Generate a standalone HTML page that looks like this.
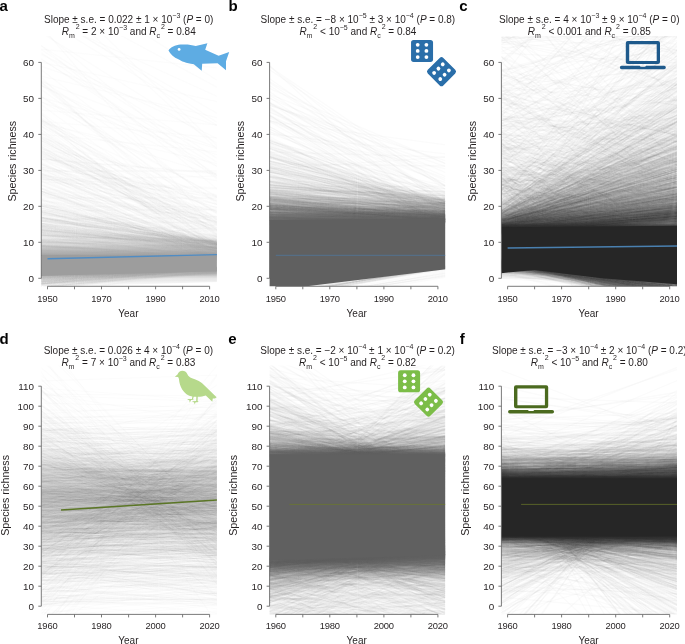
<!DOCTYPE html>
<html><head><meta charset="utf-8"><style>
html,body{margin:0;padding:0;background:#fff;width:685px;height:644px;overflow:hidden}
svg{display:block}
text{font-family:"Liberation Sans",sans-serif;fill:#231f20}
.tx{opacity:.996}
.tk{font-size:9.9px}
.tkx{font-size:9.4px;letter-spacing:-0.2px}
.al{font-size:10px}
.yl{font-size:10.7px}
.tt{font-size:10px}
.pl{font-size:15px;font-weight:bold;fill:#000}
</style></head><body>
<svg width="685" height="644" viewBox="0 0 685 644" xmlns="http://www.w3.org/2000/svg">
<defs><clipPath id="ca"><rect x="41.3" y="36.0" width="175.6" height="250.3"/></clipPath>
<clipPath id="cb"><rect x="269.6" y="36.0" width="175.6" height="250.3"/></clipPath>
<clipPath id="cc"><rect x="501.4" y="36.0" width="175.6" height="250.3"/></clipPath>
<clipPath id="cd"><rect x="41.3" y="365.5" width="175.6" height="248.9"/></clipPath>
<clipPath id="ce"><rect x="269.6" y="365.5" width="175.6" height="248.9"/></clipPath>
<clipPath id="cf"><rect x="501.4" y="365.5" width="175.6" height="248.9"/></clipPath></defs>
<g clip-path="url(#ca)">
<g transform="translate(40.3 0)" stroke="#9d9d9d" stroke-opacity="0.03" stroke-width="1.3" fill="none">
<path d="M0 217 178 247M0 243 178 248M0 271 178 258M0 32 178 144M0 175 178 197M0 96 178 215M0 220 178 217M0 191 178 252M0 282 178 269M0 279 178 269M0 289 178 272"/>
<path d="M0 221 178 243M0 235 178 244M0 221 178 251M0 228 178 242M0 158 178 222M0 16 178 97M0 195 178 263M0 180 178 176M0 270 178 269M0 272 178 272M0 274 178 268M0 279 178 275M0 275 178 268M0 284 178 274M0 289 178 267M0 283 178 267"/>
<path d="M0 218 178 245M0 268 178 251M0 212 178 242M0 226 178 243M0 150 178 261M0-32 178 81M0 188 178 257M0 162 178 246M0 285 178 269M0 281 178 267M0 268 178 269"/>
<path d="M0 264 178 248M0 251 178 253M0 217 178 251M0 239 178 241M0 227 178 245M0 137 178 253M0 131 178 251M0 191 178 246M0 274 178 269M0 287 178 273M0 284 178 270M0 284 178 268"/>
<path d="M0 232 178 254M0 198 178 245M0 25 178 233M0 274 178 268M0 288 178 268M0 278 178 269M0 277 178 270M0 280 178 270M0 272 178 273"/>
<path d="M0 252 178 255M0 240 178 258M0 214 178 248M0 218 178 243M0 255 178 253M0 250 178 260M0 272 178 268"/>
<path d="M0 232 178 242M0 220 178 241M0 248 178 244M0 221 178 243M0 255 178 254M0 12 178 114M0 168 178 253M0 163 178 245M0 162 178 247M0 275 178 271M0 279 178 272M0 286 178 272"/>
<path d="M0 227 178 254M0 230 178 244M0 259 178 250M0 253 178 252M0 193 178 253M0 137 178 230M0 282 178 269M0 276 178 269M0 271 178 269M0 273 178 268"/>
<path d="M0 235 178 244M0 246 178 256M0 260 178 248M0 247 178 259M0 257 178 254M0 236 178 260M0 230 178 245M0 178 178 232M0 138 178 257M0 275 178 275M0 288 178 267M0 274 178 269M0 275 178 269"/>
<path d="M0 218 178 242M0 215 178 241M0 185 178 247M0 214 178 236M0 274 178 268M0 287 178 271M0 278 178 270"/>
<path d="M0 248 178 258M0 278 178 269M0 284 178 273M0 281 178 271M0 271 178 269M0 281 178 268M0 268 178 273"/>
<path d="M0 240 178 247M0 218 178 242M0 171 178 171M0 279 178 268M0 270 178 268"/>
<path d="M0 250 178 250M0 230 178 247M0 228 178 245M0 223 178 248M0 251 178 256M0 174 178 243M0 169 178 201M0 276 178 269M0 279 178 267M0 273 178 268"/>
<path d="M0 193 178 245M0 250 178 254M0 227 178 242M0 155 178 228M0 210 178 240M0 124 178 219M0 118 178 241M0 267 178 269M0 274 178 267"/>
<path d="M0 251 178 258M0 231 178 247M0 45 178 190M0 226 178 229M0 150 178 245M0 177 178 261M0 273 178 268M0 270 178 270M0 274 178 268M0 278 178 268M0 267 178 269M0 273 178 268"/>
<path d="M0 212 178 248M0 230 178 242M0 254 178 258M0 159 178 173M0 284 178 248M0 76 178 254M0 269 178 269M0 278 178 268"/>
<path d="M0 258 178 249M0 218 178 250M0 206 178 243M0 246 178 254M0 229 178 243M0 58 178 176M0 181 178 251M0 139 178 219M0 121 178 138M0 104 178 234M0 144 178 235M0 275 178 268M0 276 178 273"/>
<path d="M0 228 178 245M0 232 178 244M0 256 178 258M0 230 178 248M0 269 178 256M0 247 178 256M0 249 178 247M0 97 178 149M0 168 178 260M0 275 178 270M0 278 178 267M0 283 178 267M0 279 178 268M0 284 178 268"/>
<path d="M0 250 178 258M0 262 178 255M0 245 178 258M0 208 178 245M0 152 178 237M0 268 178 268M0 282 178 267"/>
<path d="M0 258 178 253M0 236 178 247M0 212 178 245M0 69 178 205M0 137 178 198M0 230 178 250M0 170 178 231M0 295 178 268M0 280 178 270M0 269 178 274"/>
<path d="M0 208 178 242M0 260 178 258M0 148 178 220M0 177 178 220M0 275 178 268M0 278 178 269M0 269 178 270M0 284 178 269"/>
<path d="M0 231 178 251M0 242 178 244M0 213 178 246M0 245 178 240M0 259 178 253M0 237 178 257M0 49 178 163M0 275 178 268M0 273 178 269M0 281 178 268M0 282 178 272"/>
<path d="M0 277 178 255M0 189 178 261M0 49 178 68M0 121 178 213M0 159 178 174M0 280 178 273M0 274 178 270"/>
<path d="M0 242 178 246M0 195 178 243M0 236 178 241M0 143 178 205M0 205 178 248M0 191 178 225M0 166 178 231M0 287 178 271M0 283 178 273"/>
<path d="M0 257 178 243M0 217 178 257M0 239 178 245M0 201 178 217M0 286 178 267"/>
<path d="M0 233 178 255M0 245 178 258M0 241 178 250M0 245 178 252M0 176 178 211M0 151 178 241M0 274 178 269M0 277 178 270M0 284 178 268"/>
<path d="M0 247 178 253M0 219 178 245M0 265 178 256M0 237 178 251M0 217 178 244M0 256 178 253M0 96 178 198M0 284 178 269"/>
<path d="M0 226 178 252M0 188 178 211M0 149 178 244M0 164 178 231M0 266 178 269M0 282 178 267M0 284 178 267"/>
<path d="M0 217 178 245M0 226 178 259M0 231 178 247M0 66 178 126M0 171 178 256M0 171 178 245M0 272 178 270"/>
<path d="M0 239 178 255M0 112 178 236M0 241 178 230M0 176 178 245M0 288 178 266M0 271 178 268"/>
<path d="M0 226 178 250M0 242 178 255M0 240 178 253M0 149 178 181M0 102 178 155M0 277 178 269M0 284 178 267M0 277 178 268"/>
<path d="M0 243 178 259M0 224 178 246M0 188 178 264M0 82 178 238M0 174 178 258M0 275 178 268M0 270 178 269M0 267 178 269"/>
<path d="M0 256 178 253M0 231 178 253M0 241 178 253M0 231 178 248M0 167 178 195M0 129 178 245M0 194 178 256M0 278 178 267M0 287 178 267"/>
<path d="M0 247 178 253M0 224 178 250M0 223 178 257M0 209 178 249M0 231 178 252M0 257 178 251M0 221 178 251M0 226 178 244M0 167 178 246M0 200 178 237M0 289 178 271M0 280 178 268M0 270 178 270"/>
<path d="M0 245 178 247M0 234 178 244M0 224 178 242"/>
<path d="M0 232 178 260M0 241 178 252M0 249 178 244M0 264 178 254M0 217 178 249M0 280 178 267M0 276 178 268"/>
<path d="M0 240 178 246M0 219 178 246M0 217 178 243M0 234 178 251M0 191 178 260M0 273 178 271M0 281 178 270"/>
<path d="M0 227 178 251M0 214 178 244M0 224 178 252M0 191 178 254M0 125 178 244M0 89 178 214M0 272 178 273M0 280 178 268"/>
<path d="M0 244 178 240M0 229 178 250M0 226 178 245M0 253 178 249M0 211 178 259M0 210 178 239M0-27 178 147"/>
<path d="M0 219 178 249M0 134 178 152M0 267 178 268M0 286 178 267M0 271 178 270M0 278 178 268M0 266 178 268M0 284 178 273"/>
<path d="M0 249 178 248M0 229 178 252M0 214 178 252M0 219 178 244M0 180 178 249M0 210 178 244M0 54 178 139"/>
<path d="M0 191 178 251M0 241 178 249M0 223 178 249M0 121 178 176M0 183 178 254M0 160 178 238M0 269 178 268M0 281 178 267M0 272 178 268M0 290 178 267"/>
<path d="M0 218 178 243M0 247 178 247M0 258 178 257M0 247 178 245M0 79 178 203M0 189 178 222M0 126 178 259M0 204 178 255M0 211 178 257M0 281 178 269M0 272 178 268M0 267 178 268M0 285 178 269"/>
<path d="M0 260 178 257M0 206 178 250M0-8 178 88M0 173 178 241M0 193 178 258M0 278 178 268M0 270 178 270M0 272 178 268M0 275 178 270"/>
<path d="M0 206 178 245M0 153 178 205M0 146 178 249M0 232 178 225M0 182 178 189M0 285 178 271M0 282 178 267M0 279 178 269M0 277 178 268"/>
<path d="M0 200 178 252M0 157 178 208M0 246 178 252M0 215 178 260M0 217 178 256M0 275 178 271M0 275 178 268M0 282 178 268M0 286 178 267"/>
<path d="M0 265 178 255M0 199 178 249M0 264 178 247M0 206 178 207M0 271 178 270M0 273 178 268M0 272 178 271M0 272 178 268"/>
<path d="M0 211 178 243M0 248 178 260M0 235 178 257M0 254 178 247M0 266 178 258M0 233 178 260M0 277 178 268M0 267 178 270M0 265 178 276M0 278 178 274"/>
<path d="M0 236 178 248M0 247 178 254M0 185 178 258M0 148 178 230M0 185 178 246M0 273 178 269"/>
<path d="M0 228 178 252M0 256 178 252M0 235 178 253M0 246 178 248M0 101 178 197M0 137 178 245M0 164 178 228M0 287 178 272M0 280 178 268M0 272 178 268M0 275 178 268M0 272 178 276"/>
<path d="M0 239 178 248M0 245 178 254M0 229 178 246M0 272 178 270M0 279 178 273"/>
<path d="M0 221 178 241M0 244 178 259M0 230 178 249M0 8 178 123M0 126 178 212M0 198 178 198M0 271 178 269M0 284 178 268"/>
<path d="M0 259 178 257M0 225 178 257M0 154 178 217M0 159 178 223M0 268 178 268M0 283 178 272M0 275 178 268M0 283 178 268"/>
<path d="M0 220 178 244M0 226 178 248M0 263 178 254M0 225 178 257M0 275 178 270M0 267 178 268M0 273 178 268"/>
<path d="M0 220 178 243M0 246 178 260M0 147 178 264M0 272 178 268"/>
<path d="M0 264 178 254M0 230 178 243M0 262 178 258M0 237 178 253M0 227 178 248M0 218 178 254M0 224 178 222M0 154 178 224M0 271 178 269"/>
<path d="M0 246 178 259M0 224 178 251M0 213 178 245M0 265 178 258M0 205 178 224M0 84 178 230M0 279 178 267M0 280 178 274"/>
<path d="M0 230 178 248M0 211 178 243M0 133 178 257M0 188 178 246M0 215 178 225M0 270 178 268M0 274 178 270M0 276 178 267"/>
<path d="M0 229 178 251M0 250 178 254M0 223 178 246M0 228 178 243M0 118 178 264M0 141 178 245M0 129 178 260M0 272 178 270M0 274 178 269M0 281 178 268"/>
<path d="M0 249 178 260M0 233 178 256M0 285 178 252M0 234 178 243M0 59 178 167M0 81 178 148M0 173 178 224M0 140 178 231M0 135 178 238M0 52 178 180M0 284 178 272M0 284 178 268"/>
<path d="M0 210 178 244M0 252 178 252M0 246 178 255M0 220 178 249M0 255 178 256M0 117 178 223M0 29 178 179M0 282 178 267M0 282 178 268"/>
<path d="M0 208 178 250M0 258 178 241M0 257 178 259M0 245 178 258M0 242 178 249M0 241 178 254M0 175 178 204M0 158 178 253M0 275 178 269M0 280 178 268"/>
<path d="M0 225 178 242M0 235 178 242M0 233 178 246M0 246 178 250M0 229 178 255M0 202 178 260M0 168 178 223M0 181 178 250M0 284 178 269M0 261 178 270M0 267 178 269M0 262 178 272M0 273 178 270"/>
<path d="M0 221 178 247M0 177 178 220"/>
<path d="M0 213 178 251M0 250 178 258M0 227 178 257M0 221 178 242M0 178 178 264M0 271 178 270M0 285 178 274M0 271 178 269"/>
<path d="M0 234 178 246M0 234 178 241M0 268 178 254M0 242 178 247M0 231 178 245M0 235 178 245M0 173 178 244M0 150 178 220M0 276 178 271M0 275 178 269M0 265 178 269M0 280 178 268"/>
<path d="M0 234 178 259M0 220 178 244M0 246 178 259M0 144 178 224"/>
<path d="M0 205 178 249M0 262 178 257M0 113 178 271M0 81 178 221M0 277 178 268M0 274 178 269"/>
<path d="M0 251 178 250M0 260 178 253M0 232 178 253M0-13 178 150M0 175 178 258M0 123 178 223M0 120 178 202M0 85 178 176M0 287 178 271M0 276 178 268M0 281 178 268M0 265 178 268M0 281 178 267M0 274 178 271M0 284 178 268M0 274 178 268M0 266 178 270M0 276 178 268"/>
<path d="M0 245 178 258M0 212 178 251M0 232 178 248M0 239 178 247M0 85 178 167M0 265 178 269M0 288 178 271M0 274 178 268M0 275 178 269M0 277 178 268"/>
<path d="M0 204 178 244M0 242 178 247M0 235 178 245M0 201 178 258M0 153 178 240M0 279 178 268M0 276 178 269M0 274 178 271"/>
<path d="M0 229 178 248M0 255 178 253M0 250 178 257M0 191 178 247M0 251 178 260M0 225 178 251M0 272 178 268M0 269 178 271M0 283 178 269"/>
<path d="M0 229 178 246M0 247 178 257M0 211 178 248M0 216 178 243M0 230 178 243M0 243 178 227"/>
<path d="M0 232 178 249M0 223 178 245M0 212 178 241M0 266 178 268M0 282 178 273M0 266 178 269M0 281 178 268M0 277 178 270"/>
<path d="M0 242 178 251M0 225 178 246M0 223 178 242M0 246 178 253M0 235 178 243M0 119 178 226M0 17 178 126M0 276 178 278M0 277 178 270M0 272 178 269"/>
<path d="M0 206 178 249M0 215 178 258M0 258 178 257M0 140 178 230M0 279 178 269M0 282 178 274M0 276 178 267"/>
<path d="M0 240 178 248M0 233 178 258M0 243 178 247M0 256 178 251M0 203 178 242M0 155 178 238M0 193 178 221M0 272 178 268M0 277 178 269M0 278 178 268"/>
<path d="M0 206 178 245M0 233 178 249M0 224 178 248M0 76 178 118M0 274 178 268M0 290 178 268"/>
<path d="M0 230 178 256M0 208 178 243M0 243 178 253M0 235 178 250M0 199 178 263M0 136 178 224M0 271 178 268M0 276 178 270M0 274 178 270M0 277 178 273"/>
<path d="M0 243 178 239M0 235 178 257M0 240 178 243M0 204 178 244M0 267 178 254M0 123 178 164M0 62 178 102M0 114 178 247M0 282 178 271M0 273 178 270M0 292 178 272M0 275 178 274M0 274 178 269"/>
<path d="M0 203 178 250M0 263 178 257M0 231 178 242M0 235 178 243M0 179 178 188M0 191 178 217M0 206 178 240M0 270 178 268"/>
<path d="M0 248 178 258M0 199 178 249M0 277 178 269M0 287 178 270M0 284 178 273M0 279 178 269"/>
<path d="M0 225 178 245M0 266 178 257M0 157 178 200M0 152 178 236M0 173 178 245M0 211 178 209M0 276 178 271M0 277 178 270"/>
<path d="M0 217 178 242M0 232 178 242M0 228 178 249M0 110 178 125M0 133 178 234"/>
<path d="M0 251 178 246M0 213 178 243M0 225 178 248M0 236 178 244M0 220 178 241M0 249 178 254M0 164 178 253M0 251 178 225M0 81 178 236M0 222 178 209M0 240 178 256M0 269 178 268M0 281 178 270M0 274 178 268M0 274 178 267M0 278 178 270"/>
<path d="M0 207 178 246M0 221 178 254M0 234 178 260M0 146 178 248M0 140 178 233M0 277 178 270"/>
<path d="M0 212 178 249M0 209 178 244M0 265 178 257M0 218 178 244M0 241 178 255M0 254 178 253M0 163 178 258M0 120 178 257M0 167 178 196M0 276 178 269M0 267 178 269"/>
<path d="M0 245 178 247M0 233 178 248M0 260 178 255M0 226 178 255M0 223 178 248M0 227 178 247M0 146 178 235M0 184 178 262M0 270 178 239M0 132 178 235M0 270 178 269M0 282 178 280M0 262 178 269"/>
<path d="M0 122 178 249M0 233 178 244M0 45 178 159M0 282 178 271M0 276 178 268M0 278 178 267"/>
<path d="M0 238 178 249M0 253 178 254M0 246 178 256M0 156 178 213M0 151 178 208M0 279 178 269M0 283 178 267M0 276 178 268"/>
</g>
<linearGradient id="ha0" x1="0" y1="1" x2="0" y2="0"><stop offset="0" stop-color="#9d9d9d"/><stop offset="0.5" stop-color="#9d9d9d" stop-opacity="0.300"/><stop offset="1" stop-color="#9d9d9d" stop-opacity="0"/></linearGradient>
<path d="M40.3 256.0L217.9 256.7L217.9 233.3L40.3 232.6Z" fill="url(#ha0)"/>
<linearGradient id="ha1" x1="0" y1="0" x2="0" y2="1"><stop offset="0" stop-color="#9d9d9d"/><stop offset="0.5" stop-color="#9d9d9d" stop-opacity="0.240"/><stop offset="1" stop-color="#9d9d9d" stop-opacity="0"/></linearGradient>
<path d="M40.3 275.1L217.9 270.0L217.9 281.9L40.3 286.9Z" fill="url(#ha1)"/>
<path d="M40.3 254.9L217.9 255.6L217.9 271.1L40.3 276.1Z" fill="#9d9d9d"/>
</g>
<g clip-path="url(#cb)">
<g transform="translate(268.6 0)" stroke="#606060" stroke-opacity="0.0233" stroke-width="1.3" fill="none">
<path d="M0 209 178 218M0 209 178 217M0 212 178 213M0 212 178 219M0 208 178 220M0 208 178 221M0 209 178 213M0 206 178 220M0 187 178 219M0 116 178 212"/>
<path d="M0 189 178 212M0 221 178 221M0 207 178 221M0 217 178 221M0 217 178 221M0 220 178 215M0 215 178 222M0 209 178 217M0 82 178 204"/>
<path d="M0 211 178 221M0 218 178 216M0 221 178 221M0 209 178 220M0 216 178 218M0 213 178 219M0 209 178 215M0 210 178 216M0 221 178 218M0 204 178 217M0 192 178 207M0 157 178 201M0 128 178 228M0 297 178 266"/>
<path d="M0 199 178 218M0 204 178 212M0 199 178 218M0 215 178 217M0 209 178 209M0 214 178 221M0 218 178 219M0 210 178 217M0 229 178 217M0 225 178 221M0 202 178 211M0 206 178 220M0 169 178 201M0 250 178 220M0 78 178 203"/>
<path d="M0 230 178 221M0 208 178 217M0 224 178 221M0 219 178 222M0 218 178 222M0 229 178 222M0 206 178 220M0 171 178 203M0 223 178 211M0 172 178 206M0 216 178 218M0 170 178 204M0 212 178 216M0 115 178 193M0 167 178 224M0 302 178 273M0 294 178 267"/>
<path d="M0 220 178 221M0 209 178 216M0 218 178 221M0 200 178 211M0 204 178 221M0 197 178 219M0 209 178 219M0 205 178 216M0 204 178 208M0 177 178 203M0 234 178 215M0 172 178 218M0 102 178 197M0 162 178 215M0 291 178 266"/>
<path d="M0 205 178 221M0 220 178 216M0 199 178 219M0 225 178 221M0 221 178 215M0 222 178 220M0 208 178 223M0 214 178 214M0 201 178 218M0 213 178 222M0 228 178 216M0 207 178 219M0 201 178 204M0 188 178 215M0 166 178 212M0 295 178 268"/>
<path d="M0 216 178 219M0 222 178 221M0 217 178 222M0 193 178 215M0 202 178 216M0 207 178 219M0 222 178 213M0 211 178 222M0 205 178 222M0 203 178 212M0 238 178 213M0 181 178 209M0 234 178 220M0 230 178 213M0 193 178 211M0 297 178 269"/>
<path d="M0 175 178 196M0 200 178 217M0 221 178 216M0 207 178 212M0 215 178 211M0 197 178 224M0 205 178 212M0 218 178 221M0 212 178 216M0 182 178 200"/>
<path d="M0 208 178 222M0 222 178 221M0 172 178 193M0 212 178 220M0 229 178 215M0 186 178 216M0 85 178 199M0 169 178 157M0 103 178 186M0 148 178 221M0 297 178 268"/>
<path d="M0 216 178 211M0 188 178 195M0 205 178 222M0 212 178 221M0 209 178 219M0 205 178 219M0 213 178 219M0 214 178 222M0 164 178 166M0 218 178 219M0 214 178 219M0 220 178 222M0 198 178 214M0 218 178 212M0 198 178 201M0 94 178 164"/>
<path d="M0 209 178 219M0 215 178 215M0 204 178 220M0 218 178 222M0 217 178 219M0 207 178 218M0 191 178 206M0 214 178 220M0 206 178 211M0 213 178 222M0 205 178 217M0 143 178 202M0 242 178 217M0 185 178 203M0 191 178 207M0 232 178 218M0 235 178 219"/>
<path d="M0 218 178 220M0 216 178 222M0 220 178 219M0 219 178 219M0 206 178 213M0 211 178 219M0 221 178 222M0 212 178 222M0 199 178 213M0 215 178 217M0 224 178 220M0 240 178 221M0 177 178 211M0 167 178 204M0 194 178 210"/>
<path d="M0 198 178 204M0 222 178 220M0 216 178 211M0 213 178 212M0 220 178 212M0 222 178 218M0 220 178 217M0 198 178 216M0 208 178 210M0 216 178 222M0 212 178 222M0 218 178 204M0 182 178 220M0 134 178 154M0 177 178 225M0 301 178 274"/>
<path d="M0 217 178 221M0 214 178 223M0 223 178 219M0 120 178 192M0 167 178 216M0 157 178 212M0 108 178 202"/>
<path d="M0 207 178 220M0 214 178 222M0 205 178 218M0 226 178 218M0 218 178 223M0 207 178 209M0 214 178 212M0 66 178 187M0 65 178 208"/>
<path d="M0 203 178 222M0 197 178 221M0 205 178 218M0 199 178 203M0 228 178 216M0 216 178 217M0 210 178 213M0 207 178 216M0 208 178 211M0 168 178 215M0 120 178 183M0 202 178 206M0 143 178 222M0 295 178 268"/>
<path d="M0 232 178 218M0 208 178 221M0 213 178 222M0 209 178 212M0 217 178 217M0 200 178 207M0 231 178 220M0 218 178 213M0 210 178 216M0 210 178 221M0 177 178 203M0 226 178 222M0 229 178 207M0 98 178 173M0 174 178 224"/>
<path d="M0 242 178 219M0 215 178 221M0 218 178 213M0 193 178 195M0 182 178 211M0 225 178 217M0 208 178 216M0 222 178 220M0 206 178 223M0 206 178 212M0 173 178 209M0 203 178 213M0 231 178 209M0 161 178 189M0 298 178 267"/>
<path d="M0 206 178 214M0 217 178 219M0 215 178 214M0 226 178 221M0 211 178 215M0 199 178 224M0 205 178 218M0 223 178 203M0 218 178 219M0 224 178 220M0 206 178 217M0 204 178 220M0 205 178 217M0 216 178 218M0 192 178 206M0 208 178 206M0 197 178 203M0 221 178 219M0 191 178 216M0 140 178 207M0 146 178 224M0 65 178 230"/>
<path d="M0 199 178 206M0 219 178 220M0 240 178 220M0 231 178 221M0 214 178 206M0 204 178 210M0 195 178 218M0 189 178 217M0 225 178 217M0 192 178 213M0 221 178 206M0 204 178 222M0 223 178 219"/>
<path d="M0 221 178 218M0 220 178 222M0 210 178 218M0 200 178 216M0 198 178 223M0 206 178 211M0 220 178 220M0 171 178 200M0 210 178 205M0 185 178 199M0 194 178 206M0 199 178 202"/>
<path d="M0 214 178 221M0 176 178 199M0 217 178 222M0 218 178 219M0 224 178 222M0 211 178 221M0 207 178 221M0 218 178 217M0 209 178 214M0 200 178 203M0 186 178 192M0 112 178 179"/>
<path d="M0 217 178 222M0 212 178 220M0 211 178 221M0 207 178 219M0 214 178 221M0 210 178 222M0 215 178 222M0 205 178 219M0 200 178 223M0 190 178 217M0 201 178 209M0 156 178 202"/>
<path d="M0 211 178 214M0 220 178 214M0 201 178 214M0 203 178 223M0 232 178 218M0 221 178 217M0 229 178 221M0 215 178 211M0 219 178 218M0 219 178 222M0 205 178 215M0 216 178 214M0 219 178 210M0 209 178 219M0 111 178 202M0 154 178 192M0 156 178 219M0 175 178 218"/>
<path d="M0 212 178 219M0 208 178 218M0 204 178 217M0 208 178 213M0 216 178 218M0 207 178 216M0 254 178 216M0 201 178 208"/>
<path d="M0 219 178 221M0 185 178 200M0 201 178 219M0 219 178 214M0 206 178 215M0 200 178 221M0 199 178 204M0 213 178 212M0 201 178 220M0 221 178 220M0 210 178 213M0 151 178 202M0 209 178 211M0 172 178 202M0 131 178 209M0 165 178 220"/>
<path d="M0 199 178 213M0 218 178 222M0 223 178 218M0 210 178 223M0 214 178 216M0 212 178 223M0 207 178 214M0 231 178 221"/>
<path d="M0 221 178 222M0 223 178 221M0 207 178 221M0 208 178 216M0 212 178 218M0 206 178 208M0 209 178 219M0 189 178 205M0 242 178 217M0 184 178 203M0 297 178 267"/>
<path d="M0 216 178 222M0 197 178 205M0 214 178 219M0 210 178 215M0 225 178 216M0 215 178 221M0 216 178 220M0 206 178 221M0 189 178 196M0 164 178 208M0 172 178 205M0 203 178 210M0 154 178 215M0 153 178 208M0 106 178 226M0 296 178 266"/>
<path d="M0 218 178 211M0 205 178 213M0 214 178 217M0 228 178 220M0 194 178 208M0 208 178 223M0 196 178 212M0 209 178 219M0 157 178 215M0 95 178 187M0 294 178 265"/>
<path d="M0 205 178 214M0 209 178 220M0 205 178 217M0 223 178 219M0 223 178 217M0 222 178 221M0 209 178 218M0 208 178 216M0 222 178 222M0 142 178 203M0 179 178 209M0 183 178 206M0 211 178 210M0 183 178 204M0 171 178 223M0 200 178 221"/>
<path d="M0 214 178 218M0 213 178 215M0 195 178 209M0 209 178 222M0 193 178 220M0 204 178 219M0 209 178 216M0 181 178 200M0 166 178 204M0 142 178 202M0 292 178 267"/>
<path d="M0 207 178 211M0 211 178 220M0 202 178 201M0 209 178 209M0 212 178 216M0 219 178 214M0 230 178 219M0 219 178 222M0 222 178 221M0 198 178 210M0 210 178 222M0 207 178 223M0 168 178 208M0 162 178 204M0 117 178 228M0 147 178 186M0 301 178 271"/>
<path d="M0 222 178 222M0 217 178 210M0 215 178 221M0 224 178 221M0 208 178 221M0 209 178 218M0 212 178 206M0 215 178 219M0 216 178 212M0 206 178 217M0 218 178 216M0 217 178 219M0 195 178 203M0 188 178 205"/>
<path d="M0 227 178 222M0 204 178 220M0 217 178 219M0 190 178 196M0 209 178 215M0 210 178 222M0 212 178 222M0 190 178 213M0 142 178 209M0 168 178 201M0 198 178 202M0 219 178 208M0 91 178 215M0 133 178 198M0 158 178 204M0 115 178 226M0 305 178 272M0 297 178 266"/>
<path d="M0 224 178 220M0 185 178 198M0 225 178 220M0 198 178 221M0 209 178 221M0 210 178 219M0 223 178 218M0 216 178 222M0 174 178 206M0 208 178 211M0 230 178 219M0 228 178 219M0 156 178 208M0 121 178 194M0 147 178 224M0 204 178 217M0 171 178 213"/>
<path d="M0 201 178 218M0 224 178 220M0 223 178 222M0 209 178 223M0 202 178 219M0 214 178 219M0 184 178 200M0 215 178 214M0 199 178 218M0 192 178 206M0 187 178 201M0 269 178 213M0 237 178 221M0 121 178 222M0 252 178 210M0 141 178 196M0 158 178 207"/>
<path d="M0 212 178 212M0 199 178 208M0 217 178 222M0 223 178 219M0 200 178 223M0 209 178 219M0 209 178 215M0 217 178 216M0 200 178 214M0 156 178 206M0 211 178 220M0 193 178 221M0 192 178 209M0 161 178 204M0 176 178 206"/>
<path d="M0 213 178 217M0 203 178 215M0 210 178 223M0 229 178 214M0 224 178 213M0 231 178 220M0 210 178 217M0 200 178 206M0 214 178 214M0 219 178 220M0 228 178 220M0 200 178 211M0 209 178 215M0 233 178 216"/>
<path d="M0 219 178 222M0 215 178 218M0 187 178 198M0 215 178 214M0 203 178 206M0 218 178 221M0 217 178 222M0 198 178 208M0 176 178 202M0 194 178 216M0 170 178 208M0 209 178 211M0 176 178 219"/>
<path d="M0 224 178 220M0 210 178 222M0 208 178 222M0 208 178 223M0 200 178 223M0 217 178 222M0 208 178 215M0 207 178 222M0 219 178 219M0 231 178 217M0 210 178 223M0 240 178 219M0 202 178 206M0 218 178 213M0 216 178 204"/>
<path d="M0 217 178 223M0 181 178 194M0 208 178 203M0 196 178 201M0 184 178 206M0 207 178 220M0 212 178 220M0 224 178 222M0 203 178 209M0 194 178 200M0 215 178 212M0 223 178 214M0 214 178 217M0 195 178 208M0 209 178 210M0 195 178 214M0 213 178 218M0 208 178 212"/>
<path d="M0 201 178 212M0 217 178 214M0 212 178 213M0 220 178 222M0 221 178 216M0 203 178 223M0 212 178 212M0 215 178 218M0 196 178 209M0 204 178 215"/>
<path d="M0 188 178 186M0 230 178 222M0 194 178 209M0 193 178 207M0 209 178 214M0 213 178 210M0 208 178 215M0 205 178 222M0 220 178 216M0 198 178 218M0 206 178 223M0 172 178 206M0 174 178 224M0 302 178 273"/>
<path d="M0 209 178 219M0 212 178 217M0 203 178 206M0 206 178 221M0 204 178 219M0 223 178 221M0 216 178 218M0 218 178 214M0 212 178 222M0 218 178 218M0 211 178 220M0 212 178 205M0 176 178 207M0 228 178 217M0 191 178 208M0 212 178 219M0 142 178 216"/>
<path d="M0 204 178 212M0 188 178 197M0 206 178 221M0 212 178 204M0 231 178 220M0 224 178 214M0 205 178 214M0 203 178 217M0 161 178 202M0 207 178 210M0 183 178 199M0 202 178 208"/>
<path d="M0 214 178 221M0 210 178 219M0 212 178 215M0 216 178 221M0 205 178 206M0 211 178 219M0 192 178 217M0 182 178 202M0 228 178 219M0 148 178 202M0 171 178 216M0 151 178 223M0 296 178 267M0 294 178 266"/>
<path d="M0 204 178 214M0 210 178 221M0 212 178 222M0 205 178 216M0 202 178 205M0 207 178 214M0 222 178 219M0 217 178 218M0 206 178 208M0 225 178 221M0 209 178 219M0 214 178 217M0 213 178 206M0 202 178 212M0 227 178 212M0 211 178 218M0 211 178 221M0 181 178 207M0 186 178 207M0 249 178 212M0 129 178 202M0 228 178 211M0 201 178 214M0 177 178 203M0 218 178 219M0 296 178 267"/>
<path d="M0 194 178 217M0 215 178 216M0 218 178 221M0 212 178 220M0 204 178 216M0 199 178 218M0 209 178 216M0 205 178 219M0 205 178 216M0 157 178 202M0 230 178 213M0 140 178 194"/>
<path d="M0 199 178 221M0 193 178 210M0 217 178 216M0 206 178 199M0 213 178 216"/>
<path d="M0 224 178 216M0 187 178 205M0 216 178 220M0 196 178 215M0 201 178 220M0 230 178 221M0 203 178 209M0 218 178 222M0 182 178 210M0 155 178 211M0 97 178 214M0 81 178 186"/>
<path d="M0 218 178 223M0 215 178 219M0 226 178 222M0 206 178 216M0 220 178 222M0 209 178 218M0 209 178 216M0 211 178 221M0 211 178 222M0 209 178 216M0 225 178 221M0 204 178 218M0 209 178 219M0 294 178 268"/>
<path d="M0 202 178 211M0 215 178 213M0 229 178 221M0 210 178 210M0 214 178 220M0 192 178 196M0 208 178 213M0 190 178 200M0 212 178 207M0 167 178 202M0 197 178 207M0 202 178 205M0 243 178 215M0 217 178 212M0 303 178 275"/>
<path d="M0 227 178 221M0 212 178 219M0 217 178 222M0 220 178 221M0 201 178 215M0 211 178 218M0 215 178 210M0 184 178 204M0 236 178 219M0 220 178 217M0 156 178 212"/>
<path d="M0 212 178 215M0 215 178 217M0 210 178 216M0 201 178 221M0 225 178 202M0 214 178 217M0 167 178 217M0 121 178 145"/>
<path d="M0 216 178 219M0 209 178 220M0 201 178 210M0 210 178 214M0 218 178 211M0 210 178 220M0 222 178 222M0 216 178 220M0 221 178 220M0 203 178 215M0 160 178 206M0 203 178 223M0 301 178 268"/>
<path d="M0 217 178 223M0 218 178 222M0 207 178 219M0 222 178 220M0 214 178 222M0 217 178 206M0 179 178 204M0 105 178 167M0 163 178 221M0 114 178 229M0 102 178 222M0 307 178 277"/>
<path d="M0 211 178 199M0 217 178 222M0 205 178 216M0 211 178 218M0 203 178 217M0 196 178 219M0 216 178 216M0 217 178 215M0 206 178 215M0 210 178 215M0 219 178 219M0 192 178 207M0 178 178 206M0 223 178 214M0 156 178 224M0 126 178 226M0 297 178 266"/>
<path d="M0 194 178 198M0 197 178 219M0 212 178 220M0 207 178 216M0 198 178 216M0 224 178 218M0 234 178 220M0 222 178 214M0 181 178 209M0 297 178 266"/>
<path d="M0 214 178 222M0 221 178 212M0 217 178 214M0 190 178 208M0 213 178 221M0 214 178 221M0 203 178 209M0 216 178 208M0 200 178 208M0 115 178 219M0 140 178 215M0 102 178 181M0 192 178 224M0 297 178 265M0 300 178 267"/>
<path d="M0 229 178 221M0 214 178 221M0 215 178 213M0 220 178 214M0 253 178 216M0 243 178 215M0 200 178 211"/>
<path d="M0 192 178 211M0 216 178 221M0 206 178 219M0 223 178 219M0 207 178 219M0 191 178 217M0 197 178 212M0 218 178 222M0 213 178 214M0 200 178 219M0 183 178 192"/>
<path d="M0 223 178 222M0 225 178 215M0 198 178 216M0 207 178 220M0 233 178 219M0 222 178 222M0 208 178 215M0 190 178 216M0 163 178 212M0 191 178 198M0 231 178 217M0 88 178 164M0 292 178 266"/>
<path d="M0 208 178 212M0 219 178 218M0 217 178 212M0 206 178 216M0 244 178 214M0 242 178 216M0 302 178 276"/>
<path d="M0 199 178 197M0 214 178 219M0 206 178 219M0 198 178 209M0 206 178 220M0 203 178 214M0 211 178 222M0 219 178 220M0 217 178 222M0 241 178 216M0 177 178 215M0 176 178 210M0 157 178 199M0 296 178 269"/>
<path d="M0 224 178 221M0 201 178 216M0 190 178 200M0 197 178 210M0 207 178 220M0 211 178 214M0 207 178 209M0 228 178 220M0 209 178 203M0 222 178 220M0 211 178 222M0 217 178 223M0 158 178 201M0 192 178 198M0 207 178 213M0 196 178 211M0 126 178 225M0 161 178 221M0 160 178 213"/>
<path d="M0 208 178 219M0 210 178 218M0 200 178 217M0 220 178 222M0 218 178 222M0 199 178 222M0 204 178 221M0 224 178 221M0 180 178 189M0 201 178 218M0 194 178 210M0 181 178 196M0 201 178 212M0 251 178 218M0 208 178 211M0 194 178 214M0 187 178 201M0 148 178 222M0 104 178 177M0 146 178 205M0 294 178 266M0 295 178 266"/>
<path d="M0 212 178 222M0 190 178 210M0 191 178 204M0 213 178 213M0 217 178 221M0 194 178 205M0 215 178 207M0 189 178 205M0 235 178 218M0 278 178 218M0 181 178 215M0 184 178 215"/>
<path d="M0 210 178 219M0 214 178 222M0 218 178 221M0 202 178 224M0 201 178 212M0 212 178 222M0 207 178 218M0 218 178 220M0 224 178 220M0 203 178 222M0 215 178 216M0 198 178 204M0 200 178 203M0 186 178 209M0 180 178 215"/>
<path d="M0 207 178 223M0 226 178 217M0 209 178 219M0 209 178 221M0 212 178 215M0 218 178 216M0 219 178 219M0 188 178 196M0 220 178 220M0 228 178 217M0 205 178 219M0 197 178 204M0 203 178 203M0 229 178 215M0 196 178 202M0 69 178 190M0 297 178 270"/>
<path d="M0 195 178 213M0 217 178 207M0 226 178 215M0 214 178 221M0 190 178 194M0 199 178 220M0 225 178 219M0 205 178 210M0 230 178 218M0 197 178 218M0 204 178 217M0 213 178 217M0 204 178 203M0 213 178 218M0 203 178 203M0 210 178 216M0 206 178 211M0 218 178 221M0 296 178 266"/>
<path d="M0 217 178 216M0 191 178 215M0 222 178 222M0 198 178 217M0 200 178 207M0 205 178 207M0 205 178 213M0 196 178 203M0 216 178 222M0 197 178 204M0 187 178 209M0 220 178 213M0 182 178 207M0 145 178 222M0 178 178 208M0 132 178 169"/>
<path d="M0 152 178 157M0 220 178 221M0 213 178 223M0 217 178 215M0 205 178 212M0 210 178 209M0 209 178 220M0 212 178 223M0 215 178 205M0 221 178 222M0 215 178 216M0 161 178 203M0 229 178 211M0 294 178 267"/>
<path d="M0 192 178 209M0 214 178 222M0 221 178 217M0 214 178 222M0 196 178 220M0 225 178 219M0 221 178 221M0 213 178 219M0 201 178 205M0 165 178 202M0 169 178 206M0 189 178 213M0 185 178 205M0 223 178 213M0 180 178 204M0 300 178 266M0 299 178 268"/>
<path d="M0 203 178 214M0 216 178 223M0 199 178 215M0 191 178 191M0 213 178 222M0 221 178 221M0 225 178 218M0 165 178 200M0 232 178 212M0 155 178 201"/>
<path d="M0 190 178 217M0 213 178 222M0 194 178 210M0 226 178 208M0 207 178 221M0 218 178 223M0 181 178 203M0 163 178 204M0 170 178 209M0 166 178 205M0 197 178 200"/>
<path d="M0 184 178 209M0 203 178 223M0 213 178 217M0 225 178 221M0 205 178 212M0 196 178 208M0 214 178 222M0 233 178 220M0 168 178 205M0 170 178 202M0 225 178 215M0 196 178 210"/>
<path d="M0 219 178 221M0 225 178 221M0 220 178 219M0 214 178 217M0 208 178 207M0 195 178 215M0 220 178 222M0 197 178 199M0 203 178 222M0 207 178 216M0 217 178 222M0 233 178 220M0 154 178 205M0 240 178 208M0 248 178 219M0 218 178 208M0 204 178 212M0 300 178 267"/>
<path d="M0 206 178 215M0 209 178 222M0 223 178 221M0 216 178 221M0 207 178 210M0 200 178 223M0 200 178 206M0 215 178 218M0 200 178 216M0 203 178 214M0 222 178 222M0 192 178 209M0 211 178 207M0 202 178 220M0 190 178 206M0 227 178 220M0 236 178 219M0 202 178 205M0 138 178 220M0 299 178 267"/>
<path d="M0 201 178 223M0 223 178 221M0 219 178 214M0 206 178 210M0 225 178 220M0 222 178 220M0 227 178 210M0 207 178 206M0 227 178 208M0 185 178 203M0 107 178 223M0 292 178 266M0 298 178 265"/>
<path d="M0 198 178 218M0 207 178 218M0 187 178 200M0 196 178 204M0 209 178 221M0 213 178 220M0 230 178 207M0 230 178 216M0 207 178 222M0 218 178 217M0 212 178 215M0 170 178 202M0 242 178 213M0 185 178 202M0 196 178 208M0 184 178 206M0 225 178 216M0 164 178 195M0 193 178 215M0 152 178 222M0 295 178 267"/>
<path d="M0 212 178 222M0 218 178 222M0 205 178 217M0 223 178 214M0 199 178 218M0 214 178 220M0 191 178 202M0 166 178 207"/>
<path d="M0 215 178 215M0 209 178 215M0 223 178 221M0 198 178 217M0 219 178 222M0 217 178 208M0 161 178 204M0 215 178 206M0 153 178 200M0 136 178 228"/>
<path d="M0 214 178 220M0 209 178 213M0 201 178 223M0 210 178 203M0 211 178 214M0 207 178 223M0 224 178 220M0 216 178 221M0 217 178 219M0 214 178 214M0 200 178 222M0 213 178 220M0 193 178 204M0 249 178 217M0 152 178 204M0 204 178 213M0 223 178 221M0 148 178 204M0 105 178 161"/>
<path d="M0 209 178 221M0 221 178 221M0 223 178 216M0 216 178 215M0 220 178 222M0 189 178 205M0 227 178 221M0 167 178 205M0 214 178 212M0 200 178 199M0 199 178 208M0 249 178 220M0 237 178 220M0 193 178 218"/>
<path d="M0 227 178 219M0 216 178 215M0 209 178 220M0 208 178 220M0 210 178 218M0 206 178 215M0 209 178 208M0 176 178 203M0 216 178 210M0 141 178 189M0 144 178 223"/>
<path d="M0 217 178 216M0 202 178 214M0 205 178 221M0 206 178 214M0 218 178 220M0 202 178 220M0 207 178 219M0 197 178 215M0 198 178 220M0 220 178 217M0 208 178 207M0 224 178 216M0 196 178 199M0 216 178 218M0 172 178 201M0 186 178 204M0 109 178 210M0 304 178 275"/>
<path d="M0 223 178 215M0 197 178 217M0 205 178 216M0 216 178 218M0 215 178 222M0 213 178 221M0 227 178 221M0 205 178 213M0 198 178 215M0 212 178 220M0 216 178 219M0 214 178 219M0 223 178 222M0 194 178 205M0 208 178 210M0 149 178 204M0 303 178 276"/>
<path d="M0 205 178 213M0 213 178 220M0 215 178 222M0 226 178 221M0 239 178 219M0 198 178 206M0 224 178 217M0 213 178 213M0 185 178 211M0 205 178 204M0 196 178 218M0 204 178 217M0 197 178 211M0 139 178 219M0 301 178 267"/>
</g>
<linearGradient id="hb0" x1="0" y1="1" x2="0" y2="0"><stop offset="0" stop-color="#606060"/><stop offset="0.5" stop-color="#606060" stop-opacity="0.396"/><stop offset="1" stop-color="#606060" stop-opacity="0"/></linearGradient>
<path d="M268.6 221.1L446.2 219.7L446.2 210.1L268.6 211.5Z" fill="url(#hb0)"/>
<path d="M268.6 220.0L446.2 218.6L446.2 269.3L268.6 290.9Z" fill="#606060"/>
</g>
<g clip-path="url(#cc)">
<g transform="translate(500.4 0)" stroke="#262626" stroke-opacity="0.0187" stroke-width="1.3" fill="none">
<path d="M0 233 178 215M0 229 178 216M0 231 178 222M0 233 178 218M0 234 178 199M0 227 178 224M0 226 178 172M0 231 178 224M0 229 178 217M0 225 178 241M0 219 178 173M0 228 178 178M0 215 178 138M0 224 178 189M0 231 178 221M0 228 178 213M0 223 178 211M0 222 178 189M0 231 178 219M0 230 178 210M0 230 178 208M0 227 178 233M0 228 178 239M0 225 178 168M0 227 178 211M0 227 178 212M0 215 178 106M0 228 178 237M0 229 178 233M0 225 178 198M0 230 178 225M0 231 178 226M0 217 178 121M0 225 178 197M0 190 178 286M0 234 178 193M0 108 178 31M0 131 178 112M0 81 178-157M0 207 178 220M0 81 178 149M0 151 178 208M0 265 178 287M0 267 178 310M0 264 178 284M0 268 178 269M0 261 178 290M0 264 178 288M0 260 178 296M0 268 178 287M0 263 178 288"/>
<path d="M0 223 178 210M0 232 178 215M0 230 178 218M0 232 178 217M0 232 178 223M0 227 178 193M0 221 178 223M0 231 178 197M0 226 178 202M0 230 178 227M0 227 178 226M0 223 178 167M0 231 178 220M0 223 178 203M0 229 178 207M0 232 178 222M0 229 178 235M0 228 178 216M0 230 178 209M0 228 178 199M0 232 178 207M0 229 178 236M0 224 178 205M0 227 178 219M0 231 178 212M0 222 178 207M0 222 178 198M0 230 178 219M0 226 178 183M0 230 178 213M0 225 178 205M0 225 178 159M0 228 178 211M0 228 178 237M0 224 178 219M0 157 178 205M0 87 178 105M0 202 178 168M0 200 178 259M0 267 178 263M0 272 178 270M0 268 178 267M0 263 178 282M0 265 178 294M0 266 178 266M0 263 178 282M0 266 178 278M0 263 178 285M0 274 178 288M0 268 178 272M0 264 178 288M0 262 178 292M0 263 178 285M0 263 178 283M0 264 178 277"/>
<path d="M0 231 178 218M0 233 178 216M0 232 178 216M0 226 178 217M0 232 178 220M0 228 178 213M0 230 178 213M0 233 178 222M0 222 178 210M0 227 178 214M0 226 178 213M0 226 178 208M0 224 178 184M0 229 178 212M0 221 178 160M0 222 178 187M0 229 178 211M0 228 178 211M0 222 178 221M0 226 178 191M0 228 178 209M0 227 178 217M0 230 178 207M0 230 178 231M0 228 178 220M0 231 178 221M0 230 178 216M0 213 178 131M0 227 178 217M0 227 178 205M0 225 178 202M0 220 178 175M0 226 178 210M0 214 178 232M0 262 178 88M0 201 178-18M0 112 178 19M0 263 178 281M0 265 178 288M0 267 178 297M0 262 178 289M0 262 178 285M0 266 178 275M0 264 178 300M0 265 178 296M0 263 178 292M0 263 178 289M0 263 178 287M0 267 178 273M0 265 178 294M0 268 178 280M0 264 178 281"/>
<path d="M0 232 178 219M0 227 178 216M0 232 178 222M0 233 178 215M0 232 178 217M0 225 178 204M0 231 178 216M0 228 178 212M0 229 178 233M0 214 178 120M0 230 178 210M0 229 178 217M0 224 178 185M0 229 178 230M0 228 178 187M0 229 178 233M0 231 178 211M0 227 178 188M0 226 178 214M0 227 178 202M0 224 178 214M0 227 178 187M0 227 178 215M0 213 178 136M0 236 178 196M0 225 178 194M0 230 178 218M0 228 178 211M0 227 178 198M0 220 178 198M0 231 178 206M0 222 178 164M0 230 178 211M0 233 178 216M0 226 178 215M0 228 178 239M0 151 178 163M0 34 178 37M0 257 178 99M0 189 178 323M0 229 178 198M0 77 178 199M0 188 178 336M0 242 178 149M0 132 178 242M0 186 178 216M0 53 178 63M0 272 178 266M0 271 178 267M0 266 178 274M0 265 178 291M0 264 178 278M0 264 178 289M0 266 178 282M0 268 178 269M0 275 178 292M0 263 178 287M0 266 178 277M0 267 178 270M0 264 178 282M0 260 178 297M0 263 178 285M0 261 178 294M0 267 178 292M0 261 178 295M0 265 178 272M0 264 178 279"/>
<path d="M0 233 178 216M0 231 178 220M0 230 178 214M0 229 178 221M0 208 178 87M0 217 178 140M0 229 178 179M0 225 178 164M0 229 178 212M0 225 178 165M0 231 178 225M0 231 178 210M0 229 178 213M0 222 178 166M0 228 178 238M0 223 178 175M0 231 178 208M0 231 178 209M0 231 178 224M0 229 178 222M0 231 178 215M0 224 178 200M0 234 178 205M0 199 178 200M0 226 178 135M0 219 178 62M0 174 178 115M0 168 178 50M0 198 178 196M0 271 178 261M0 266 178 269M0 267 178 274M0 270 178 269M0 263 178 287M0 266 178 272M0 263 178 286M0 265 178 279M0 264 178 294M0 262 178 284M0 261 178 294M0 268 178 288M0 269 178 291M0 262 178 286M0 262 178 306M0 265 178 280M0 265 178 293"/>
<path d="M0 222 178 217M0 233 178 215M0 232 178 221M0 231 178 216M0 232 178 219M0 231 178 217M0 223 178 212M0 226 178 190M0 228 178 228M0 223 178 197M0 227 178 206M0 228 178 225M0 223 178 197M0 230 178 217M0 222 178 187M0 220 178 186M0 230 178 224M0 221 178 180M0 228 178 207M0 228 178 197M0 230 178 224M0 218 178 159M0 226 178 205M0 232 178 220M0 224 178 221M0 226 178 168M0 230 178 227M0 218 178 149M0 228 178 217M0 230 178 220M0 233 178 204M0 229 178 233M0 160 178 270M0 78 178-1M0 187 178 237M0 264 178 296M0 263 178 282M0 262 178 299M0 263 178 290M0 264 178 290M0 265 178 282M0 266 178 287M0 269 178 276M0 266 178 276M0 259 178 301M0 272 178 296M0 261 178 291M0 269 178 275M0 262 178 288M0 264 178 280M0 265 178 278"/>
<path d="M0 230 178 219M0 233 178 219M0 227 178 216M0 229 178 214M0 228 178 213M0 232 178 214M0 234 178 216M0 230 178 218M0 231 178 219M0 231 178 213M0 226 178 204M0 228 178 221M0 230 178 229M0 224 178 193M0 221 178 180M0 231 178 208M0 231 178 185M0 228 178 206M0 227 178 240M0 207 178 86M0 214 178 132M0 225 178 212M0 231 178 230M0 231 178 208M0 232 178 211M0 236 178 200M0 209 178 88M0 228 178 224M0 224 178 195M0 231 178 207M0 220 178 190M0 224 178 170M0 218 178 158M0 214 178 101M0 234 178 214M0 230 178 211M0 231 178 207M0 219 178 167M0 231 178 227M0 227 178 208M0 224 178 187M0 228 178 181M0 224 178 140M0 174 178 179M0 236 178 132M0 134 178 243M0 183 178 266M0 142 178 88M0 208 178 229M0 228 178 54M0 224 178 58M0 176 178 231M0 256 178 313M0 260 178 300M0 260 178 292M0 267 178 270M0 268 178 277M0 262 178 301M0 262 178 289M0 261 178 289M0 261 178 299M0 264 178 286"/>
<path d="M0 230 178 214M0 232 178 216M0 223 178 209M0 233 178 221M0 232 178 213M0 227 178 212M0 228 178 217M0 223 178 211M0 225 178 187M0 230 178 213M0 231 178 198M0 223 178 182M0 226 178 210M0 228 178 218M0 215 178 140M0 234 178 208M0 214 178 126M0 217 178 166M0 234 178 203M0 219 178 183M0 224 178 187M0 212 178 153M0 228 178 233M0 229 178 223M0 225 178 204M0 224 178 209M0 224 178 160M0 225 178 190M0 195 178 26M0 224 178 172M0 230 178 226M0 225 178 184M0 226 178 182M0 232 178 220M0 220 178 179M0 230 178 232M0 225 178 250M0 229 178 230M0 228 178 200M0 231 178 221M0 230 178 200M0 204 178 63M0 219 178 186M0 226 178 213M0 227 178 196M0 69 178 186M0 174 178 62M0 231 178 199M0 269 178 262M0 269 178 265M0 267 178 273M0 260 178 294M0 264 178 277M0 264 178 279M0 264 178 292M0 261 178 295M0 266 178 283M0 263 178 291M0 264 178 287M0 262 178 310M0 264 178 283M0 264 178 282M0 262 178 285M0 263 178 283M0 261 178 292M0 270 178 297M0 262 178 298M0 263 178 284M0 264 178 302M0 261 178 303M0 265 178 276M0 266 178 288"/>
<path d="M0 226 178 222M0 231 178 218M0 229 178 221M0 233 178 215M0 228 178 213M0 229 178 197M0 226 178 197M0 230 178 199M0 228 178 223M0 228 178 224M0 224 178 205M0 230 178 212M0 231 178 192M0 219 178 190M0 226 178 227M0 225 178 199M0 232 178 220M0 228 178 229M0 227 178 199M0 228 178 191M0 226 178 229M0 231 178 222M0 230 178 217M0 228 178 238M0 216 178 120M0 233 178 210M0 219 178 166M0 226 178 228M0 226 178 209M0 229 178 179M0 231 178 206M0 227 178 239M0 229 178 216M0 131 178 275M0 189 178 312M0 170 178 327M0 232 178 191M0 183 178 253M0 120 178 150M0 72 178 23M0 182 178 265M0 125 178 147M0 268 178 279M0 268 178 295M0 262 178 292M0 264 178 282M0 261 178 296M0 264 178 284M0 262 178 297M0 264 178 278M0 271 178 277M0 262 178 288M0 263 178 293M0 260 178 296M0 260 178 302M0 265 178 277M0 263 178 287"/>
<path d="M0 225 178 209M0 232 178 222M0 232 178 220M0 234 178 214M0 228 178 214M0 233 178 219M0 229 178 208M0 220 178 165M0 220 178 145M0 228 178 206M0 220 178 163M0 225 178 209M0 225 178 184M0 225 178 207M0 227 178 229M0 232 178 216M0 233 178 210M0 229 178 197M0 232 178 216M0 228 178 181M0 226 178 177M0 226 178 214M0 226 178 244M0 229 178 211M0 228 178 208M0 213 178 132M0 225 178 209M0 225 178 171M0 222 178 249M0 227 178 187M0 227 178 204M0 227 178 199M0 227 178 232M0 7 178 45M0 189 178 189M0 120 178 79M0 214 178 84M0 232 178 202M0 203 178 290M0 194 178 290M0 227 178 238M0 199 178 307M0 191 178 109M0 268 178 273M0 270 178 287M0 263 178 289M0 262 178 293M0 264 178 293M0 263 178 290M0 271 178 294M0 262 178 291M0 270 178 292M0 265 178 294M0 263 178 285M0 269 178 275M0 265 178 298M0 264 178 278M0 266 178 280M0 262 178 290M0 264 178 286"/>
<path d="M0 233 178 219M0 230 178 217M0 231 178 221M0 229 178 218M0 233 178 215M0 233 178 221M0 221 178 169M0 228 178 227M0 218 178 146M0 231 178 219M0 233 178 218M0 216 178 133M0 230 178 203M0 227 178 237M0 230 178 219M0 232 178 213M0 220 178 138M0 220 178 166M0 230 178 214M0 221 178 171M0 222 178 187M0 231 178 227M0 217 178 143M0 226 178 198M0 227 178 234M0 226 178 237M0 225 178 202M0 228 178 229M0 225 178 198M0 207 178 74M0 226 178 217M0 225 178 188M0 228 178 215M0 118 178 142M0 173 178 192M0 97 178 185M0 129 178 118M0 186 178 358M0 163 178 242M0 237 178 136M0 71 178 27M0 185 178 92M0-40 178 167M0 267 178 266M0 267 178 280M0 264 178 282M0 269 178 288M0 265 178 279M0 265 178 287M0 265 178 286M0 259 178 300M0 265 178 288M0 262 178 293M0 261 178 293"/>
<path d="M0 229 178 217M0 228 178 218M0 233 178 221M0 232 178 219M0 231 178 225M0 231 178 221M0 233 178 220M0 233 178 218M0 221 178 223M0 229 178 207M0 235 178 209M0 218 178 170M0 216 178 173M0 226 178 198M0 227 178 229M0 218 178 163M0 206 178 95M0 230 178 221M0 224 178 192M0 231 178 217M0 228 178 236M0 219 178 152M0 224 178 134M0 228 178 205M0 231 178 202M0 213 178 124M0 226 178 226M0 224 178 187M0 162 178 269M0 200 178 342M0 198 178 315M0 245 178 82M0 208 178 161M0 162 178 164M0 261 178 292M0 262 178 287M0 262 178 299M0 267 178 270M0 261 178 293M0 264 178 287M0 263 178 282M0 264 178 299M0 265 178 283M0 265 178 294M0 260 178 296M0 262 178 288M0 262 178 291M0 265 178 304M0 265 178 274M0 267 178 290M0 265 178 276"/>
<path d="M0 231 178 226M0 230 178 215M0 234 178 216M0 232 178 219M0 231 178 219M0 224 178 200M0 230 178 220M0 230 178 204M0 231 178 216M0 219 178 161M0 225 178 207M0 230 178 233M0 229 178 207M0 225 178 196M0 224 178 212M0 228 178 215M0 229 178 208M0 230 178 225M0 226 178 212M0 230 178 216M0 221 178 159M0 234 178 203M0 232 178 205M0 221 178 181M0 228 178 215M0 228 178 214M0 223 178 231M0 225 178 173M0 208 178 73M0 218 178 157M0 231 178 218M0 231 178 214M0 101 178 40M0 193 178 282M0 182 178 176M0 239 178 123M0 143 178 184M0 212 178 210M0 6 178 55M0 118 178 146M0 207 178 76M0 153 178 179M0 264 178 290M0 261 178 293M0 260 178 305M0 262 178 291M0 263 178 281M0 264 178 283M0 260 178 294M0 262 178 296M0 263 178 292M0 266 178 291M0 263 178 290M0 266 178 276M0 271 178 288"/>
<path d="M0 228 178 217M0 231 178 216M0 221 178 211M0 231 178 222M0 229 178 209M0 230 178 217M0 230 178 207M0 232 178 217M0 217 178 161M0 232 178 198M0 229 178 232M0 226 178 231M0 217 178 104M0 227 178 238M0 224 178 173M0 228 178 208M0 213 178 142M0 234 178 215M0 226 178 195M0 234 178 200M0 235 178 195M0 229 178 222M0 228 178 227M0 227 178 220M0 222 178 169M0 219 178 175M0 224 178 239M0 229 178 216M0 229 178 229M0 228 178 230M0 231 178 226M0 225 178 208M0 230 178 225M0 230 178 207M0 221 178 197M0 181 178 291M0 31 178 202M0 212 178 275M0 137 178 110M0 187 178 60M0 176 178 224M0 210 178 271M0 222 178 170M0 266 178 276M0 263 178 283M0 269 178 258M0 263 178 283M0 264 178 284M0 262 178 290M0 263 178 281M0 264 178 279M0 266 178 274M0 262 178 312M0 268 178 262M0 263 178 284M0 263 178 282M0 267 178 282M0 266 178 280"/>
<path d="M0 232 178 218M0 230 178 214M0 233 178 219M0 229 178 212M0 222 178 208M0 221 178 205M0 221 178 172M0 222 178 145M0 227 178 225M0 226 178 171M0 221 178 164M0 228 178 196M0 222 178 165M0 228 178 217M0 234 178 211M0 228 178 213M0 229 178 233M0 219 178 184M0 232 178 213M0 229 178 212M0 232 178 211M0 230 178 214M0 228 178 191M0 228 178 213M0 226 178 194M0 229 178 192M0 229 178 208M0 228 178 238M0 230 178 230M0 233 178 219M0 230 178 227M0 230 178 204M0 197 178 203M0 201 178 187M0 190 178 375M0 170 178 189M0 129 178 88M0 153 178 224M0 267 178 265M0 266 178 275M0 263 178 283M0 261 178 303M0 263 178 287M0 262 178 298M0 265 178 278M0 261 178 293M0 267 178 274M0 264 178 280M0 269 178 281M0 267 178 281M0 260 178 292M0 263 178 292M0 260 178 295"/>
<path d="M0 228 178 211M0 229 178 210M0 230 178 227M0 229 178 214M0 230 178 209M0 225 178 191M0 224 178 222M0 229 178 186M0 222 178 185M0 212 178 107M0 227 178 219M0 206 178 90M0 225 178 181M0 224 178 210M0 224 178 212M0 223 178 167M0 232 178 219M0 230 178 191M0 232 178 213M0 174 178 128M0 176 178 448M0 171 178 115M0 175 178 392M0 257 178 103M0 9 178 103M0 204 178 148M0 182 178 209M0 266 178 274M0 266 178 274M0 265 178 275M0 268 178 273M0 262 178 292M0 268 178 275M0 265 178 284M0 266 178 274M0 260 178 296M0 264 178 289M0 264 178 284M0 262 178 295M0 263 178 281M0 262 178 298M0 264 178 279M0 265 178 287M0 261 178 293M0 263 178 293"/>
<path d="M0 234 178 216M0 229 178 210M0 231 178 217M0 233 178 217M0 229 178 215M0 230 178 225M0 232 178 218M0 233 178 221M0 232 178 216M0 230 178 214M0 224 178 202M0 222 178 174M0 233 178 217M0 228 178 212M0 225 178 168M0 228 178 206M0 229 178 170M0 229 178 233M0 227 178 206M0 229 178 215M0 228 178 206M0 227 178 207M0 230 178 218M0 231 178 225M0 227 178 205M0 229 178 228M0 231 178 211M0 171 178-58M0 240 178 183M0 37 178 50M0 202 178 203M0 163 178 313M0 188 178 207M0 135 178 141M0 271 178 278M0 267 178 280M0 264 178 284M0 261 178 291M0 269 178 280M0 263 178 294M0 265 178 286M0 271 178 276M0 265 178 278M0 273 178 271M0 265 178 275M0 265 178 283"/>
<path d="M0 232 178 221M0 220 178 206M0 229 178 219M0 231 178 216M0 231 178 219M0 231 178 203M0 227 178 233M0 224 178 195M0 228 178 224M0 221 178 162M0 229 178 193M0 220 178 166M0 229 178 228M0 220 178 146M0 228 178 221M0 228 178 204M0 221 178 187M0 225 178 235M0 201 178 45M0 228 178 205M0 230 178 224M0 228 178 199M0 211 178 98M0 228 178 213M0 229 178 196M0 227 178 214M0 221 178 171M0 231 178 222M0 213 178 121M0 228 178 207M0 220 178 183M0 212 178 290M0 224 178 211M0 151 178 114M0 113 178 276M0 204 178 214M0 268 178 263M0 262 178 292M0 263 178 288M0 265 178 273M0 261 178 300M0 261 178 292M0 263 178 289M0 264 178 282M0 264 178 285M0 263 178 283M0 268 178 294M0 276 178 290M0 265 178 290M0 268 178 294M0 266 178 287M0 265 178 272M0 262 178 289M0 267 178 278M0 261 178 293M0 267 178 278"/>
<path d="M0 231 178 218M0 233 178 214M0 231 178 209M0 225 178 192M0 226 178 190M0 225 178 181M0 228 178 200M0 229 178 233M0 233 178 212M0 226 178 187M0 220 178 106M0 224 178 211M0 229 178 202M0 227 178 213M0 226 178 238M0 212 178 80M0 232 178 223M0 225 178 177M0 229 178 215M0 225 178 222M0 229 178 220M0 200 178 187M0 91 178 126M0 147 178 77M0 155 178 64M0 258 178 111M0 189 178 258M0 269 178 267M0 261 178 288M0 265 178 276M0 264 178 292M0 263 178 282M0 261 178 290M0 261 178 295M0 269 178 294M0 261 178 292M0 260 178 296M0 268 178 285M0 262 178 292M0 265 178 293M0 262 178 300M0 261 178 293M0 273 178 289M0 264 178 284M0 264 178 285M0 263 178 285M0 264 178 285M0 266 178 282M0 268 178 297M0 265 178 276"/>
<path d="M0 233 178 220M0 226 178 212M0 228 178 217M0 231 178 227M0 232 178 221M0 232 178 220M0 230 178 227M0 228 178 203M0 228 178 227M0 227 178 236M0 213 178 129M0 223 178 192M0 229 178 207M0 218 178 157M0 218 178 134M0 227 178 170M0 226 178 223M0 225 178 207M0 231 178 218M0 231 178 211M0 222 178 169M0 231 178 226M0 231 178 217M0 214 178 80M0 93 178 142M0 158 178 183M0 195 178 158M0 221 178 237M0 212 178 254M0 190 178 154M0 264 178 278M0 267 178 291M0 259 178 299M0 263 178 297M0 263 178 302M0 261 178 290M0 257 178 314M0 264 178 287M0 266 178 295M0 265 178 292M0 265 178 292"/>
<path d="M0 231 178 216M0 230 178 216M0 232 178 216M0 230 178 218M0 230 178 212M0 233 178 214M0 229 178 182M0 230 178 225M0 233 178 205M0 225 178 161M0 208 178 98M0 230 178 200M0 224 178 199M0 228 178 214M0 225 178 202M0 217 178 155M0 231 178 210M0 227 178 225M0 220 178 174M0 229 178 225M0 227 178 219M0 230 178 196M0 230 178 202M0 228 178 214M0 231 178 223M0 227 178 225M0 224 178 186M0 229 178 212M0 226 178 190M0 231 178 215M0 230 178 200M0 224 178 193M0 221 178 201M0 229 178 235M0 167 178 371M0 161 178 77M0 175 178 375M0 216 178 243M0 140 178 164M0 145 178 49M0 101 178 46M0 116 178 132M0 136 178-17M0 181 178 269M0 227 178 84M0 266 178 279M0 268 178 274M0 267 178 299M0 264 178 280M0 272 178 284M0 267 178 276M0 262 178 295M0 262 178 293M0 266 178 277M0 264 178 279M0 262 178 290M0 264 178 279M0 264 178 296"/>
<path d="M0 233 178 215M0 230 178 219M0 231 178 223M0 231 178 216M0 226 178 183M0 217 178 147M0 221 178 170M0 227 178 234M0 211 178 107M0 222 178 169M0 232 178 199M0 229 178 233M0 225 178 189M0 228 178 214M0 228 178 223M0 231 178 191M0 216 178 168M0 231 178 226M0 228 178 228M0 231 178 214M0 228 178 215M0 232 178 200M0 226 178 228M0 218 178 147M0 230 178 224M0 217 178 121M0 230 178 219M0 225 178 169M0 223 178 174M0 225 178 179M0 232 178 219M0 221 178 176M0 163 178 216M0 155 178 176M0 213 178 121M0 100 178-3M0 184 178 243M0 153 178 203M0 160 178 272M0 193 178 316M0 142 178 330M0 264 178 278M0 270 178 292M0 266 178 275M0 263 178 287M0 272 178 298M0 265 178 272M0 268 178 282M0 264 178 278M0 261 178 294M0 265 178 309M0 263 178 281M0 269 178 291M0 265 178 292M0 267 178 296"/>
<path d="M0 230 178 216M0 233 178 218M0 223 178 209M0 225 178 182M0 235 178 204M0 232 178 212M0 227 178 233M0 223 178 173M0 227 178 221M0 225 178 188M0 229 178 235M0 226 178 201M0 226 178 207M0 228 178 231M0 224 178 186M0 226 178 211M0 221 178 178M0 219 178 123M0 224 178 176M0 226 178 167M0 230 178 225M0 229 178 213M0 226 178 206M0 236 178 157M0 185 178 184M0 180 178 147M0 186 178 256M0 65 178-98M0 209 178 290M0 265 178 272M0 269 178 270M0 268 178 264M0 263 178 288M0 268 178 275M0 263 178 294M0 261 178 297M0 264 178 287M0 267 178 287M0 267 178 270M0 263 178 293M0 267 178 306M0 261 178 306M0 268 178 291M0 265 178 294M0 265 178 297M0 266 178 285M0 260 178 305M0 260 178 297"/>
<path d="M0 226 178 216M0 229 178 214M0 224 178 210M0 220 178 211M0 228 178 224M0 224 178 202M0 228 178 207M0 232 178 201M0 227 178 212M0 206 178 95M0 221 178 163M0 225 178 193M0 229 178 221M0 224 178 221M0 229 178 156M0 230 178 224M0 223 178 173M0 229 178 231M0 228 178 237M0 225 178 198M0 223 178 171M0 226 178 203M0 228 178 238M0 215 178 115M0 141 178 25M0 168 178 155M0 221 178 152M0 188 178 162M0 266 178 288M0 261 178 302M0 267 178 273M0 265 178 276M0 265 178 295M0 266 178 277M0 264 178 290M0 262 178 289"/>
<path d="M0 229 178 219M0 231 178 214M0 229 178 210M0 232 178 217M0 229 178 217M0 227 178 210M0 224 178 248M0 228 178 223M0 228 178 225M0 230 178 216M0 224 178 208M0 229 178 196M0 230 178 232M0 225 178 212M0 211 178 141M0 223 178 158M0 225 178 173M0 226 178 223M0 226 178 190M0 227 178 234M0 226 178 194M0 221 178 149M0 225 178 176M0 219 178 203M0 231 178 222M0 231 178 227M0 225 178 191M0 230 178 230M0 225 178 200M0 230 178 198M0 177 178 311M0 242 178 151M0 205 178 148M0 179 178 268M0 133 178 68M0 213 178 275M0 188 178 136M0 191 178 293M0 189 178 245M0 264 178 281M0 263 178 284M0 263 178 280M0 266 178 269M0 271 178 277M0 261 178 292M0 262 178 291M0 265 178 288"/>
<path d="M0 231 178 213M0 229 178 218M0 234 178 216M0 229 178 217M0 233 178 217M0 230 178 214M0 230 178 213M0 223 178 183M0 214 178 137M0 224 178 228M0 211 178 98M0 226 178 219M0 226 178 197M0 233 178 214M0 223 178 136M0 228 178 214M0 235 178 195M0 223 178 161M0 227 178 201M0 232 178 186M0 225 178 241M0 228 178 189M0 231 178 221M0 228 178 212M0 228 178 187M0 222 178 195M0 229 178 219M0 223 178 159M0 221 178 177M0 229 178 233M0 228 178 226M0 227 178 182M0 222 178 187M0 214 178 223M0 124 178 176M0-15 178 164M0 203 178 237M0 208 178 273M0 150 178 99M0 240 178 124M0 243 178 97M0 131 178 207M0 46 178 126M0-86 178 102M0 151 178 229M0 266 178 284M0 265 178 299M0 266 178 276M0 264 178 296M0 268 178 272M0 267 178 269M0 265 178 283M0 264 178 289M0 269 178 272M0 259 178 300M0 268 178 275M0 269 178 286M0 265 178 295M0 261 178 292"/>
<path d="M0 210 178 199M0 229 178 221M0 230 178 214M0 231 178 213M0 221 178 213M0 227 178 204M0 225 178 220M0 224 178 239M0 221 178 175M0 227 178 216M0 223 178 216M0 225 178 173M0 225 178 181M0 228 178 224M0 231 178 220M0 231 178 216M0 225 178 214M0 229 178 224M0 222 178 191M0 225 178 183M0 230 178 215M0 214 178 124M0 230 178 219M0 222 178 229M0 235 178 214M0 229 178 216M0 227 178 197M0 231 178 203M0 221 178 180M0 221 178 210M0 227 178 224M0 228 178 231M0 225 178 207M0 121 178 74M0 40 178-31M0 153 178 221M0 95 178 20M0 38 178 31M0 153 178 84M0 189 178 153M0 45 178-72M0 273 178 279M0 267 178 266M0 268 178 263M0 268 178 265M0 262 178 284M0 265 178 288M0 265 178 290M0 264 178 282M0 266 178 278M0 261 178 293M0 268 178 266M0 261 178 289M0 267 178 274M0 269 178 268M0 277 178 253M0 262 178 307M0 261 178 295M0 267 178 268M0 262 178 285M0 268 178 284M0 266 178 286M0 263 178 288M0 271 178 299"/>
<path d="M0 231 178 212M0 231 178 220M0 227 178 211M0 233 178 217M0 231 178 219M0 232 178 223M0 232 178 217M0 225 178 198M0 215 178 121M0 225 178 222M0 223 178 164M0 223 178 153M0 225 178 188M0 220 178 158M0 213 178 136M0 229 178 210M0 228 178 206M0 230 178 227M0 217 178 151M0 226 178 219M0 224 178 174M0 222 178 197M0 229 178 210M0 212 178 119M0 221 178 213M0 227 178 242M0 219 178 139M0 226 178 179M0 218 178 140M0 218 178 155M0 227 178 198M0 227 178 223M0 228 178 224M0 228 178 181M0 180 178 175M0 192 178 169M0 150 178 171M0 212 178 200M0 198 178 273M0 182 178 173M0 188 178 285M0 263 178 294M0 268 178 280M0 264 178 295M0 264 178 282M0 261 178 297M0 266 178 292M0 265 178 281M0 266 178 286M0 262 178 299M0 263 178 289"/>
<path d="M0 233 178 219M0 228 178 210M0 231 178 224M0 231 178 222M0 230 178 215M0 232 178 220M0 231 178 218M0 230 178 218M0 221 178 178M0 230 178 190M0 223 178 216M0 224 178 199M0 231 178 209M0 231 178 190M0 229 178 223M0 221 178 160M0 229 178 213M0 228 178 222M0 226 178 192M0 218 178 149M0 214 178 104M0 223 178 226M0 229 178 207M0 230 178 229M0 226 178 233M0 228 178 194M0 216 178 125M0 232 178 216M0 231 178 217M0 228 178 230M0 224 178 205M0 219 178 192M0 223 178 175M0 213 178 265M0 168 178 191M0 193 178 204M0 193 178 150M0 127 178 253M0 138 178 119M0 98 178 190M0 43 178 25M0 267 178 280M0 269 178 263M0 261 178 289M0 261 178 291M0 266 178 275M0 266 178 295M0 265 178 280M0 265 178 274M0 264 178 279M0 266 178 272M0 268 178 284M0 266 178 286M0 263 178 283M0 266 178 272M0 266 178 291M0 265 178 280M0 260 178 301M0 265 178 282M0 263 178 293M0 265 178 279"/>
<path d="M0 231 178 216M0 232 178 212M0 230 178 221M0 233 178 181M0 223 178 158M0 231 178 207M0 231 178 224M0 225 178 212M0 231 178 205M0 230 178 210M0 230 178 216M0 231 178 206M0 220 178 167M0 230 178 206M0 220 178 161M0 228 178 191M0 219 178 135M0 210 178 133M0 230 178 218M0 229 178 228M0 223 178 184M0 225 178 236M0 233 178 212M0 232 178 218M0 191 178-3M0 226 178 196M0 231 178 201M0 175 178 237M0 202 178 213M0 201 178 279M0 118 178 165M0 139 178 237M0 178 178 336M0 145 178 182M0 268 178 278M0 264 178 277M0 257 178 319M0 262 178 288M0 262 178 290M0 270 178 286M0 269 178 268M0 263 178 292M0 263 178 286M0 270 178 303M0 264 178 282M0 266 178 277M0 262 178 290"/>
<path d="M0 226 178 218M0 230 178 213M0 231 178 228M0 231 178 217M0 231 178 215M0 231 178 221M0 224 178 229M0 222 178 141M0 227 178 211M0 227 178 210M0 224 178 187M0 221 178 171M0 219 178 155M0 230 178 221M0 224 178 206M0 218 178 156M0 213 178 114M0 227 178 206M0 229 178 221M0 231 178 218M0 229 178 220M0 231 178 227M0 225 178 245M0 221 178 160M0 181 178 234M0 235 178 68M0 231 178 209M0 219 178 219M0 149 178 153M0 173 178 99M0 250 178 134M0 41 178 84M0 269 178 282M0 267 178 278M0 270 178 273M0 261 178 292M0 263 178 300M0 266 178 294M0 261 178 292M0 268 178 290M0 267 178 266M0 266 178 278M0 260 178 299M0 266 178 303M0 262 178 294M0 267 178 290M0 263 178 290M0 260 178 298M0 268 178 266M0 263 178 298"/>
<path d="M0 230 178 214M0 231 178 215M0 230 178 217M0 231 178 217M0 220 178 182M0 228 178 234M0 226 178 196M0 226 178 170M0 222 178 168M0 220 178 205M0 215 178 187M0 233 178 218M0 231 178 206M0 209 178 83M0 224 178 177M0 219 178 168M0 220 178 151M0 227 178 230M0 231 178 227M0 227 178 150M0 227 178 180M0 210 178 107M0 229 178 232M0 228 178 226M0 216 178 197M0 232 178 216M0 231 178 220M0 230 178 219M0 228 178 238M0 231 178 213M0 223 178 243M0 195 178 121M0 191 178 200M0 48 178 36M0 247 178 139M0-12 178 93M0 145 178 227M0 202 178 234M0 162 178 77M0 163 178 58M0 265 178 279M0 269 178 264M0 267 178 278M0 267 178 289M0 267 178 274M0 266 178 272M0 263 178 291M0 265 178 281M0 261 178 297M0 264 178 298M0 265 178 274M0 269 178 275M0 264 178 286M0 262 178 287M0 266 178 280M0 266 178 284M0 266 178 280M0 269 178 282M0 264 178 300M0 263 178 283M0 265 178 294M0 265 178 281M0 267 178 268M0 267 178 268"/>
<path d="M0 224 178 211M0 232 178 217M0 230 178 226M0 233 178 218M0 229 178 217M0 227 178 215M0 223 178 212M0 228 178 222M0 229 178 233M0 224 178 163M0 215 178 154M0 219 178 181M0 223 178 189M0 221 178 175M0 232 178 211M0 228 178 210M0 224 178 201M0 221 178 216M0 230 178 201M0 231 178 222M0 228 178 215M0 219 178 176M0 228 178 184M0 224 178 186M0 216 178 146M0 229 178 230M0 228 178 228M0 226 178 204M0 231 178 211M0 219 178 138M0 221 178 148M0 227 178 224M0 230 178 209M0 227 178 240M0 228 178 235M0 230 178 233M0 222 178 168M0 184 178 73M0 220 178 270M0 163 178 233M0 182 178 323M0 225 178 234M0 185 178 200M0 178 178 195M0 265 178 275M0 274 178 278M0 266 178 285M0 264 178 279M0 263 178 288M0 276 178 273M0 261 178 297M0 265 178 274M0 262 178 289M0 268 178 263M0 264 178 281M0 264 178 293M0 271 178 298M0 262 178 290M0 264 178 282"/>
<path d="M0 228 178 212M0 234 178 215M0 229 178 218M0 229 178 218M0 230 178 216M0 234 178 217M0 224 178 183M0 231 178 222M0 219 178 161M0 232 178 216M0 207 178 99M0 218 178 152M0 223 178 184M0 228 178 210M0 221 178 194M0 220 178 187M0 228 178 217M0 226 178 238M0 224 178 144M0 215 178 121M0 228 178 228M0 224 178 184M0 227 178 229M0 231 178 226M0 216 178 131M0 227 178 192M0 227 178 211M0 173 178 328M0 146 178 231M0 172 178 187M0 210 178 256M0 231 178 87M0 235 178 189M0 192 178 167M0 269 178 275M0 268 178 277M0 266 178 283M0 267 178 291M0 265 178 274M0 264 178 277M0 264 178 291M0 263 178 285M0 262 178 297M0 263 178 282M0 262 178 293M0 267 178 272M0 263 178 282M0 261 178 292M0 262 178 289M0 264 178 281M0 262 178 291"/>
<path d="M0 230 178 222M0 228 178 208M0 231 178 215M0 232 178 213M0 217 178 210M0 219 178 153M0 229 178 234M0 227 178 215M0 226 178 208M0 212 178 148M0 226 178 146M0 228 178 205M0 225 178 214M0 229 178 236M0 230 178 201M0 223 178 167M0 215 178 152M0 228 178 213M0 229 178 211M0 219 178 169M0 213 178 147M0 223 178 208M0 218 178 165M0 228 178 181M0 230 178 218M0 230 178 214M0 228 178 236M0 225 178 212M0 229 178 219M0 230 178 218M0 230 178 218M0 221 178 182M0 224 178 178M0 220 178 199M0 229 178 218M0 183 178 259M0 41 178-11M0 230 178 212M0 173 178 290M0 181 178 247M0 263 178 281M0 267 178 266M0 263 178 286M0 264 178 279M0 265 178 278M0 268 178 282M0 267 178 283M0 265 178 289M0 267 178 300M0 262 178 285M0 267 178 291M0 264 178 281M0 266 178 277M0 262 178 284M0 274 178 296M0 265 178 276M0 262 178 292M0 266 178 280"/>
<path d="M0 228 178 216M0 230 178 214M0 227 178 209M0 229 178 220M0 216 178 139M0 225 178 232M0 226 178 182M0 231 178 218M0 231 178 214M0 233 178 219M0 225 178 183M0 231 178 222M0 227 178 188M0 228 178 209M0 231 178 214M0 222 178 179M0 222 178 178M0 228 178 219M0 229 178 209M0 223 178 159M0 228 178 235M0 225 178 208M0 225 178 208M0 229 178 216M0 227 178 233M0 225 178 193M0 227 178 227M0 232 178 216M0 223 178 149M0 231 178 220M0 229 178 230M0 225 178 178M0 220 178 182M0-11 178 54M0 188 178 134M0 161 178 288M0 147 178 336M0 85 178 25M0 182 178 156M0 194 178 66M0 120 178 142M0 216 178 169M0 149 178 321M0 270 178 265M0 272 178 268M0 269 178 280M0 273 178 279M0 263 178 283M0 265 178 278M0 261 178 289M0 265 178 286M0 261 178 297M0 264 178 277M0 263 178 284M0 262 178 291M0 272 178 264M0 265 178 277M0 266 178 289M0 263 178 284M0 265 178 289M0 267 178 271M0 268 178 289M0 265 178 286M0 261 178 294M0 260 178 293"/>
<path d="M0 230 178 216M0 229 178 218M0 233 178 217M0 212 178 103M0 225 178 204M0 214 178 117M0 229 178 226M0 225 178 165M0 228 178 209M0 218 178 160M0 229 178 208M0 227 178 205M0 229 178 204M0 226 178 213M0 224 178 207M0 229 178 227M0 220 178 177M0 56 178 215M0 187 178 223M0 156 178 193M0 216 178 199M0 231 178 207M0 188 178 141M0 59 178 284M0 260 178 293M0 263 178 282M0 266 178 277M0 262 178 287M0 269 178 286M0 266 178 278M0 265 178 280M0 260 178 295M0 260 178 296M0 257 178 307M0 260 178 296M0 265 178 305M0 262 178 288M0 263 178 291M0 267 178 273M0 262 178 307M0 262 178 289M0 264 178 297"/>
<path d="M0 227 178 213M0 228 178 209M0 229 178 215M0 233 178 218M0 228 178 215M0 229 178 220M0 231 178 220M0 231 178 217M0 233 178 218M0 230 178 220M0 231 178 227M0 231 178 207M0 221 178 178M0 210 178 122M0 224 178 202M0 227 178 213M0 224 178 177M0 229 178 213M0 226 178 204M0 219 178 164M0 228 178 231M0 232 178 221M0 228 178 217M0 225 178 168M0 217 178 169M0 219 178 153M0 233 178 215M0 227 178 202M0 220 178 147M0 223 178 194M0 220 178 167M0 230 178 195M0 229 178 206M0 227 178 232M0 225 178 240M0 234 178 170M0 207 178 257M0 182 178 115M0 214 178 239M0 206 178 327M0 85 178 229M0 201 178 137M0 277 178 283M0 264 178 282M0 266 178 274M0 268 178 264M0 272 178 276M0 262 178 288M0 262 178 288M0 259 178 299M0 266 178 277M0 270 178 287M0 265 178 275M0 267 178 285M0 266 178 281M0 270 178 269M0 272 178 261M0 258 178 304M0 274 178 279M0 262 178 293M0 265 178 279M0 266 178 297M0 267 178 282M0 263 178 291M0 267 178 276M0 265 178 292"/>
<path d="M0 229 178 213M0 231 178 218M0 229 178 221M0 234 178 212M0 233 178 217M0 231 178 222M0 232 178 218M0 232 178 213M0 226 178 194M0 214 178 144M0 231 178 225M0 228 178 218M0 226 178 202M0 228 178 205M0 223 178 214M0 228 178 186M0 233 178 215M0 231 178 225M0 221 178 175M0 226 178 198M0 221 178 177M0 231 178 225M0 225 178 216M0 216 178 136M0 206 178 83M0 232 178 218M0 228 178 201M0 231 178 198M0 227 178 195M0 220 178 167M0 229 178 211M0 151 178 131M0 177 178 223M0 181 178 90M0 232 178 144M0 110 178 237M0 154 178 281M0 75 178 100M0 266 178 269M0 274 178 281M0 268 178 276M0 265 178 283M0 265 178 276M0 265 178 279M0 265 178 282M0 261 178 293M0 269 178 277M0 265 178 272M0 264 178 280M0 264 178 282M0 270 178 285M0 262 178 288M0 262 178 300M0 265 178 284M0 264 178 279"/>
<path d="M0 230 178 214M0 225 178 212M0 225 178 216M0 231 178 216M0 222 178 208M0 233 178 217M0 228 178 210M0 230 178 204M0 227 178 204M0 222 178 199M0 228 178 197M0 229 178 166M0 229 178 187M0 228 178 218M0 222 178 194M0 230 178 209M0 228 178 203M0 232 178 218M0 229 178 230M0 225 178 208M0 223 178 199M0 230 178 210M0 219 178 141M0 221 178 176M0 226 178 198M0 233 178 216M0 223 178 176M0 233 178 208M0 216 178 153M0 225 178 181M0 224 178 200M0 227 178 210M0 224 178 220M0 220 178 143M0 220 178 176M0 228 178 232M0 232 178 224M0 229 178 227M0 230 178 228M0 227 178 233M0 219 178 167M0 205 178-53M0 62 178-74M0 40 178 68M0 123 178 155M0 228 178 218M0 229 178 121M0 120 178 180M0 74 178 160M0 268 178 261M0 266 178 275M0 266 178 270M0 266 178 277M0 263 178 284M0 267 178 273M0 264 178 281M0 265 178 286M0 264 178 279M0 266 178 277M0 260 178 292M0 267 178 288M0 264 178 278M0 265 178 288M0 261 178 295M0 263 178 295M0 264 178 281M0 262 178 287M0 262 178 290M0 263 178 281M0 265 178 289M0 263 178 292M0 267 178 281M0 261 178 293M0 268 178 268M0 268 178 276M0 267 178 269M0 258 178 303M0 258 178 303"/>
<path d="M0 229 178 218M0 232 178 214M0 230 178 218M0 234 178 212M0 233 178 216M0 220 178 203M0 224 178 211M0 227 178 174M0 214 178 148M0 228 178 203M0 226 178 211M0 223 178 212M0 227 178 225M0 232 178 218M0 227 178 236M0 225 178 178M0 226 178 197M0 224 178 216M0 232 178 217M0 229 178 213M0 220 178 209M0 229 178 228M0 228 178 211M0 230 178 229M0 223 178 155M0 228 178 208M0 226 178 229M0 221 178 171M0 233 178 216M0 229 178 198M0 225 178 187M0 210 178 148M0 222 178 106M0 182 178 141M0 198 178 356M0 28 178 86M0 145 178 117M0 267 178 269M0 267 178 266M0 262 178 288M0 268 178 277M0 262 178 288M0 263 178 300M0 262 178 292M0 262 178 291M0 262 178 290M0 264 178 288M0 263 178 287M0 264 178 292M0 269 178 269M0 271 178 282M0 263 178 299M0 264 178 288M0 265 178 294M0 263 178 294"/>
<path d="M0 230 178 218M0 225 178 217M0 229 178 219M0 231 178 217M0 228 178 241M0 231 178 217M0 230 178 222M0 223 178 183M0 231 178 204M0 226 178 241M0 229 178 222M0 230 178 219M0 225 178 182M0 230 178 208M0 223 178 185M0 222 178 146M0 227 178 216M0 226 178 208M0 231 178 218M0 230 178 213M0 231 178 199M0 227 178 214M0 215 178 141M0 222 178 164M0 225 178 185M0 216 178 152M0 231 178 218M0 225 178 189M0 222 178 170M0 229 178 199M0 185 178 115M0 102 178 182M0 123 178 100M0 147 178 28M0 216 178 229M0 175 178 208M0 73 178 152M0 41 178 17M0 267 178 283M0 268 178 271M0 264 178 279M0 263 178 289M0 262 178 289M0 264 178 290M0 268 178 275M0 262 178 285M0 267 178 269M0 269 178 285M0 263 178 283M0 263 178 280M0 265 178 281M0 266 178 294M0 265 178 291M0 267 178 300M0 262 178 284M0 265 178 272M0 265 178 286M0 268 178 275M0 264 178 295M0 266 178 279M0 266 178 285"/>
<path d="M0 226 178 212M0 224 178 204M0 233 178 218M0 226 178 208M0 229 178 213M0 233 178 217M0 219 178 176M0 230 178 198M0 231 178 208M0 228 178 219M0 230 178 207M0 229 178 226M0 227 178 208M0 220 178 166M0 225 178 185M0 229 178 233M0 233 178 205M0 233 178 219M0 223 178 164M0 227 178 176M0 229 178 194M0 225 178 203M0 224 178 219M0 222 178 193M0 227 178 177M0 221 178 163M0 229 178 225M0 218 178 122M0 231 178 216M0 223 178 189M0 226 178 207M0 228 178 204M0 222 178 186M0 221 178 182M0 222 178 161M0 227 178 232M0 214 178 140M0 209 178 120M0 231 178 209M0 108 178 112M0 202 178 264M0 107 178 172M0 70 178 181M0 135 178 113M0 211 178 245M0-31 178 226M0 270 178 268M0 263 178 283M0 264 178 286M0 270 178 283M0 263 178 281M0 263 178 287M0 264 178 278M0 261 178 305M0 265 178 286M0 265 178 278M0 264 178 285M0 260 178 295M0 265 178 289M0 266 178 280M0 271 178 288M0 261 178 303M0 262 178 293M0 263 178 304M0 271 178 264"/>
<path d="M0 230 178 213M0 229 178 213M0 233 178 216M0 233 178 217M0 228 178 217M0 233 178 220M0 231 178 222M0 228 178 207M0 228 178 218M0 223 178 190M0 229 178 229M0 225 178 171M0 227 178 190M0 226 178 184M0 222 178 181M0 228 178 210M0 230 178 180M0 226 178 215M0 230 178 227M0 229 178 235M0 231 178 207M0 234 178 204M0 220 178 178M0 226 178 212M0 228 178 191M0 228 178 190M0 230 178 227M0 214 178 134M0 224 178 196M0 228 178 206M0 180 178 185M0 148 178 150M0 132 178 196M0 194 178 167M0 108 178 235M0-121 178 59M0 116 178 247M0 133 178 253M0 232 178 154M0 224 178 227M0 268 178 265M0 271 178 263M0 261 178 289M0 263 178 283M0 264 178 293M0 265 178 286M0 264 178 278M0 262 178 289M0 264 178 286M0 267 178 274M0 268 178 280M0 278 178 283M0 260 178 299M0 265 178 275M0 269 178 272M0 258 178 304M0 260 178 292M0 264 178 290M0 264 178 293M0 263 178 300M0 262 178 285"/>
<path d="M0 223 178 206M0 231 178 216M0 231 178 215M0 233 178 218M0 231 178 217M0 233 178 217M0 233 178 220M0 231 178 215M0 232 178 215M0 230 178 220M0 226 178 229M0 211 178 110M0 230 178 225M0 229 178 231M0 230 178 226M0 231 178 210M0 229 178 213M0 228 178 189M0 230 178 193M0 231 178 225M0 232 178 221M0 218 178 147M0 228 178 218M0 227 178 223M0 230 178 222M0 223 178 186M0 231 178 225M0 215 178 114M0 227 178 221M0 204 178 35M0 227 178 172M0 189 178 266M0 121 178 30M0 187 178 368M0 86 178 45M0 168 178 158M0-5 178 91M0 262 178 296M0 264 178 284M0 263 178 282M0 265 178 276M0 262 178 291M0 266 178 271M0 266 178 293M0 263 178 291M0 262 178 285M0 273 178 291M0 264 178 279M0 264 178 291M0 267 178 281M0 265 178 286M0 266 178 281M0 266 178 291M0 267 178 277M0 260 178 302M0 270 178 276M0 262 178 292M0 261 178 291M0 265 178 286"/>
<path d="M0 234 178 215M0 230 178 221M0 217 178 165M0 227 178 217M0 223 178 180M0 226 178 204M0 229 178 213M0 225 178 244M0 229 178 217M0 227 178 198M0 226 178 203M0 227 178 209M0 230 178 187M0 227 178 237M0 226 178 196M0 230 178 221M0 230 178 222M0 221 178 147M0 223 178 210M0 224 178 197M0 230 178 199M0 227 178 224M0 228 178 210M0 231 178 213M0 228 178 229M0 228 178 203M0 230 178 220M0 217 178 172M0 74 178 137M0 225 178 160M0 217 178 201M0 167 178 179M0 144 178 220M0 150 178 27M0 196 178 194M0 263 178 294M0 269 178 271M0 266 178 280M0 261 178 291M0 261 178 295M0 268 178 287M0 263 178 281M0 266 178 280M0 271 178 272M0 260 178 309M0 263 178 290M0 264 178 301M0 268 178 271M0 265 178 292M0 268 178 289M0 272 178 289M0 272 178 320M0 258 178 304M0 262 178 287M0 264 178 280M0 273 178 279M0 260 178 301"/>
<path d="M0 231 178 219M0 229 178 222M0 228 178 210M0 227 178 213M0 232 178 220M0 233 178 221M0 232 178 218M0 231 178 218M0 231 178 224M0 231 178 199M0 227 178 196M0 211 178 127M0 219 178 135M0 226 178 190M0 221 178 190M0 229 178 187M0 226 178 208M0 224 178 178M0 225 178 185M0 229 178 213M0 229 178 212M0 224 178 173M0 230 178 232M0 225 178 195M0 226 178 199M0 223 178 183M0 230 178 216M0 219 178 192M0 228 178 211M0 226 178 194M0 227 178 192M0 227 178 232M0 228 178 234M0 223 178 197M0 229 178 227M0 230 178 218M0 218 178 164M0 219 178 174M0 229 178 234M0 143 178 111M0 182 178 326M0 141 178 204M0 121 178 61M0 215 178 223M0 168 178 190M0 103 178 163M0 203 178 259M0 260 178 294M0 267 178 279M0 264 178 284M0 259 178 298M0 266 178 284M0 266 178 276M0 265 178 284M0 263 178 286M0 271 178 265M0 260 178 296M0 263 178 279M0 266 178 279M0 260 178 295M0 257 178 309M0 264 178 287M0 264 178 278"/>
<path d="M0 223 178 213M0 228 178 216M0 229 178 226M0 231 178 218M0 233 178 219M0 225 178 189M0 226 178 194M0 224 178 208M0 218 178 137M0 225 178 225M0 226 178 214M0 231 178 215M0 227 178 205M0 220 178 159M0 225 178 203M0 228 178 189M0 230 178 223M0 227 178 203M0 222 178 208M0 225 178 194M0 231 178 223M0 220 178 135M0 221 178 177M0 231 178 225M0 229 178 228M0 208 178 71M0 221 178 215M0 230 178 206M0 229 178 231M0 224 178 194M0 228 178 220M0 232 178 215M0 231 178 203M0 181 178 105M0 85 178 190M0 218 178 215M0 70 178 106M0 266 178 281M0 264 178 279M0 267 178 272M0 265 178 286M0 263 178 293M0 261 178 293M0 262 178 297M0 261 178 293M0 263 178 297M0 262 178 311M0 261 178 290M0 264 178 280M0 264 178 276"/>
<path d="M0 229 178 215M0 228 178 215M0 225 178 213M0 220 178 154M0 232 178 222M0 222 178 220M0 231 178 206M0 230 178 226M0 227 178 210M0 200 178 46M0 222 178 169M0 232 178 214M0 231 178 185M0 229 178 207M0 214 178 109M0 223 178 171M0 228 178 213M0 232 178 224M0 221 178 188M0 205 178 105M0 228 178 210M0 225 178 193M0 210 178 100M0 225 178 195M0 231 178 220M0 230 178 225M0 226 178 194M0 223 178 167M0 222 178 175M0 228 178 231M0 223 178 209M0 229 178 215M0 227 178 221M0 229 178 198M0 0 178 102M0 197 178 161M0 174 178 196M0 226 178 122M0 158 178 178M0 227 178 184M0 160 178 204M0 146 178 246M0 210 178 151M0 206 178 168M0 63 178 166M0 264 178 280M0 263 178 300M0 260 178 296M0 269 178 281M0 261 178 298M0 271 178 318M0 262 178 297M0 264 178 279M0 261 178 293M0 262 178 288M0 266 178 301M0 262 178 285M0 269 178 279M0 267 178 271M0 265 178 275"/>
<path d="M0 233 178 216M0 229 178 213M0 227 178 188M0 227 178 209M0 230 178 229M0 226 178 196M0 226 178 199M0 222 178 167M0 218 178 134M0 220 178 162M0 228 178 236M0 232 178 207M0 227 178 198M0 224 178 169M0 223 178 204M0 222 178 184M0 229 178 230M0 224 178 203M0 225 178 205M0 219 178 171M0 230 178 207M0 234 178 210M0 229 178 212M0 222 178 187M0 227 178 224M0 230 178 214M0 173 178-25M0 214 178 216M0 115 178-82M0 243 178 161M0 100 178 223M0 237 178 199M0 36 178 187M0 93 178-4M0 217 178 181M0 263 178 283M0 263 178 281M0 262 178 288M0 268 178 285M0 260 178 295M0 259 178 308M0 265 178 282M0 265 178 283M0 267 178 271M0 268 178 269M0 262 178 288M0 263 178 284M0 262 178 287M0 263 178 284M0 264 178 281M0 260 178 297M0 265 178 277"/>
<path d="M0 233 178 217M0 227 178 218M0 233 178 217M0 231 178 215M0 228 178 207M0 224 178 212M0 227 178 219M0 226 178 208M0 232 178 212M0 235 178 213M0 216 178 152M0 232 178 223M0 224 178 209M0 230 178 216M0 230 178 216M0 223 178 184M0 231 178 216M0 229 178 207M0 229 178 218M0 230 178 224M0 227 178 229M0 232 178 220M0 226 178 209M0 227 178 177M0 211 178 114M0 228 178 210M0 220 178 143M0 228 178 209M0 230 178 232M0 227 178 219M0 230 178 196M0 236 178 198M0 86 178 68M0 211 178 274M0 208 178 218M0 98 178-60M0 137 178 162M0 177 178 250M0 183 178 348M0 239 178 79M0 198 178 254M0 164 178 247M0 125 178-57M0 267 178 277M0 269 178 269M0 267 178 276M0 265 178 274M0 264 178 280M0 262 178 288M0 264 178 279M0 263 178 292M0 265 178 284M0 271 178 284M0 268 178 286M0 258 178 304M0 271 178 283M0 264 178 286M0 271 178 280M0 275 178 289M0 264 178 279M0 261 178 295M0 259 178 305M0 257 178 310"/>
<path d="M0 234 178 213M0 233 178 215M0 230 178 221M0 233 178 214M0 228 178 217M0 232 178 212M0 232 178 220M0 214 178 116M0 213 178 110M0 224 178 194M0 231 178 214M0 229 178 202M0 229 178 229M0 229 178 185M0 226 178 216M0 221 178 179M0 234 178 216M0 229 178 235M0 227 178 179M0 231 178 223M0 217 178 145M0 229 178 216M0 230 178 216M0 230 178 220M0 223 178 190M0 230 178 230M0 227 178 236M0 212 178 159M0 217 178 172M0 205 178 95M0 229 178 185M0 207 178 90M0 125 178 230M0 198 178 139M0 175 178 207M0 185 178 212M0 238 178 6M0 263 178 287M0 266 178 272M0 267 178 267M0 265 178 272M0 263 178 289M0 266 178 274M0 264 178 306M0 264 178 282M0 261 178 289M0 266 178 297M0 265 178 279M0 263 178 286M0 262 178 297M0 264 178 297M0 266 178 279M0 265 178 287M0 267 178 273M0 269 178 306"/>
<path d="M0 234 178 214M0 231 178 216M0 233 178 218M0 226 178 210M0 222 178 193M0 228 178 217M0 224 178 187M0 225 178 210M0 230 178 206M0 229 178 233M0 230 178 226M0 229 178 207M0 227 178 210M0 217 178 110M0 232 178 213M0 229 178 214M0 225 178 221M0 228 178 208M0 229 178 213M0 227 178 156M0 226 178 225M0 196 178 106M0 151 178 107M0-11 178 51M0 92 178 351M0 178 178 291M0 86 178 244M0 226 178 100M0 162 178 3M0 213 178 211M0 269 178 270M0 259 178 301M0 262 178 287M0 265 178 278M0 264 178 281M0 261 178 289M0 270 178 287M0 265 178 279M0 264 178 286M0 267 178 282M0 265 178 287M0 261 178 298M0 267 178 268M0 264 178 299M0 266 178 270M0 260 178 310"/>
<path d="M0 223 178 208M0 230 178 211M0 232 178 215M0 230 178 216M0 232 178 212M0 233 178 218M0 231 178 222M0 231 178 217M0 228 178 188M0 219 178 166M0 234 178 216M0 224 178 198M0 228 178 223M0 220 178 140M0 230 178 219M0 230 178 213M0 226 178 209M0 228 178 189M0 222 178 146M0 226 178 208M0 231 178 223M0 227 178 215M0 228 178 233M0 219 178 169M0 224 178 219M0 222 178 200M0 219 178 154M0 220 178 181M0 211 178 157M0 226 178 225M0 219 178 166M0 222 178 182M0 230 178 226M0 220 178 179M0 227 178 227M0 227 178 186M0 228 178 206M0 233 178 211M0 230 178 219M0 173 178 118M0 154 178 193M0 207 178 189M0 243 178 114M0 61 178-84M0 189 178 151M0 172 178 318M0 136 178 196M0 125 178 183M0 185 178 232M0 247 178 85M0 267 178 283M0 265 178 291M0 262 178 301M0 263 178 293M0 266 178 278M0 265 178 280M0 263 178 282M0 261 178 292M0 265 178 292M0 265 178 282M0 263 178 289M0 259 178 298"/>
<path d="M0 231 178 215M0 230 178 217M0 230 178 212M0 228 178 214M0 228 178 212M0 225 178 169M0 220 178 175M0 226 178 178M0 230 178 216M0 228 178 220M0 222 178 183M0 221 178 154M0 227 178 194M0 232 178 206M0 225 178 191M0 231 178 218M0 232 178 212M0 223 178 185M0 198 178 10M0 233 178 217M0 220 178 132M0 231 178 212M0 225 178 225M0 220 178 185M0 227 178 178M0 225 178 202M0 221 178 193M0 226 178 189M0 220 178 118M0 223 178 194M0 230 178 224M0 233 178 218M0 230 178 202M0 230 178 225M0 227 178 158M0 204 178 205M0 129 178 70M0 213 178 206M0 207 178 184M0 141 178 30M0 188 178 209M0 190 178 160M0 267 178 270M0 266 178 271M0 267 178 271M0 264 178 279M0 261 178 300M0 260 178 308M0 266 178 278M0 263 178 288M0 268 178 283M0 266 178 275M0 264 178 286M0 264 178 278M0 263 178 286M0 264 178 286M0 265 178 274"/>
<path d="M0 231 178 214M0 231 178 218M0 211 178 198M0 229 178 216M0 226 178 217M0 219 178 133M0 217 178 160M0 227 178 206M0 233 178 213M0 226 178 203M0 232 178 223M0 229 178 174M0 234 178 209M0 224 178 203M0 235 178 209M0 233 178 211M0 232 178 200M0 224 178 168M0 233 178 213M0 227 178 223M0 229 178 217M0 224 178 223M0 227 178 215M0 191 178 385M0 267 178 277M0 268 178 272M0 262 178 284M0 267 178 298M0 264 178 280M0 269 178 276M0 263 178 289M0 266 178 275M0 262 178 287M0 264 178 287M0 266 178 278M0 263 178 282M0 265 178 281M0 262 178 287M0 266 178 272M0 261 178 293M0 265 178 278"/>
<path d="M0 229 178 216M0 230 178 211M0 231 178 218M0 235 178 213M0 232 178 217M0 232 178 217M0 229 178 215M0 230 178 217M0 227 178 199M0 212 178 77M0 219 178 151M0 229 178 232M0 226 178 227M0 228 178 209M0 229 178 233M0 228 178 217M0 230 178 212M0 228 178 222M0 229 178 208M0 224 178 189M0 229 178 212M0 231 178 222M0 225 178 196M0 199 178 21M0 222 178 176M0 223 178 186M0 226 178 192M0 229 178 213M0 229 178 230M0 229 178 223M0 208 178 51M0 232 178 220M0 219 178 154M0 229 178 182M0 219 178 141M0 229 178 196M0 231 178 194M0 225 178 219M0 228 178 219M0 155 178 105M0 134 178 152M0 106 178 83M0 220 178 158M0 141 178 313M0 243 178 116M0 97 178 195M0 183 178 328M0 148 178 124M0 42 178 72M0 45 178 27M0 261 178 296M0 265 178 280M0 266 178 284M0 269 178 297M0 261 178 290M0 264 178 290M0 265 178 275M0 263 178 287M0 264 178 284M0 266 178 278M0 264 178 289M0 261 178 297M0 261 178 291M0 267 178 271"/>
<path d="M0 226 178 200M0 230 178 215M0 232 178 219M0 231 178 220M0 234 178 213M0 221 178 179M0 229 178 228M0 234 178 216M0 227 178 227M0 230 178 217M0 229 178 201M0 227 178 212M0 226 178 213M0 227 178 234M0 226 178 203M0 233 178 207M0 230 178 212M0 228 178 232M0 229 178 215M0 225 178 200M0 228 178 197M0 225 178 169M0 229 178 226M0 175 178 146M0 209 178 301M0 221 178 177M0 180 178 243M0 233 178 132M0 265 178 285M0 260 178 294M0 266 178 272M0 263 178 290M0 265 178 285M0 268 178 290M0 260 178 294M0 261 178 298M0 261 178 289M0 275 178 295M0 263 178 284M0 260 178 296M0 266 178 287"/>
<path d="M0 224 178 211M0 219 178 210M0 232 178 220M0 233 178 218M0 224 178 207M0 230 178 219M0 219 178 208M0 232 178 216M0 233 178 221M0 232 178 219M0 230 178 215M0 217 178 153M0 226 178 204M0 220 178 181M0 206 178 97M0 228 178 200M0 231 178 221M0 228 178 212M0 227 178 186M0 229 178 213M0 227 178 215M0 225 178 179M0 228 178 230M0 227 178 201M0 226 178 182M0 231 178 226M0 228 178 207M0 230 178 216M0 229 178 234M0 224 178 171M0 224 178 193M0 227 178 233M0 226 178 222M0 232 178 217M0 226 178 219M0 228 178 200M0 223 178 202M0 226 178 246M0 231 178 222M0 230 178 194M0 216 178 203M0 213 178 13M0 233 178 216M0 141 178 347M0 98 178 135M0 146 178 169M0 266 178 270M0 265 178 274M0 265 178 289M0 268 178 286M0 265 178 273M0 260 178 295M0 268 178 280M0 259 178 300M0 266 178 280M0 265 178 285M0 268 178 269M0 265 178 293M0 266 178 281M0 260 178 298M0 265 178 283M0 260 178 297M0 264 178 289"/>
<path d="M0 228 178 216M0 232 178 218M0 224 178 208M0 231 178 226M0 232 178 217M0 230 178 213M0 225 178 230M0 216 178 164M0 221 178 157M0 216 178 128M0 216 178 197M0 223 178 213M0 230 178 227M0 224 178 206M0 229 178 222M0 227 178 228M0 218 178 165M0 226 178 211M0 229 178 196M0 229 178 207M0 220 178 165M0 231 178 228M0 229 178 195M0 228 178 225M0 222 178 172M0 230 178 222M0 219 178 198M0 227 178 227M0 232 178 195M0 219 178 175M0 228 178 222M0 222 178 201M0 224 178 201M0 230 178 200M0 230 178 227M0 222 178 187M0 215 178 129M0 228 178 188M0 175 178 173M0 96 178 191M0 150 178 87M0 205 178 277M0 154 178 31M0 251 178 139M0 212 178 168M0 229 178 230M0 140 178 139M0 268 178 260M0 269 178 296M0 265 178 277M0 270 178 269M0 259 178 300M0 264 178 287M0 260 178 301M0 267 178 281M0 267 178 268M0 266 178 290M0 270 178 295M0 263 178 283M0 266 178 279M0 258 178 302M0 262 178 288M0 268 178 297M0 264 178 279M0 264 178 281M0 267 178 280"/>
<path d="M0 224 178 205M0 231 178 217M0 220 178 206M0 232 178 221M0 231 178 200M0 228 178 193M0 230 178 201M0 232 178 209M0 229 178 235M0 230 178 211M0 229 178 217M0 223 178 196M0 225 178 211M0 228 178 221M0 223 178 207M0 229 178 208M0 224 178 183M0 229 178 237M0 231 178 219M0 225 178 196M0 228 178 219M0 223 178 196M0 222 178 177M0 113 178 213M0 20 178 185M0 128 178 37M0 202 178 159M0 170 178 288M0 268 178 279M0 267 178 276M0 270 178 267M0 269 178 289M0 266 178 285M0 264 178 296M0 266 178 278M0 265 178 276M0 266 178 271M0 264 178 287M0 262 178 297M0 264 178 279M0 267 178 276M0 267 178 272M0 266 178 274M0 261 178 292M0 265 178 274M0 263 178 299M0 262 178 288M0 263 178 285M0 266 178 291M0 265 178 284"/>
<path d="M0 231 178 219M0 234 178 217M0 226 178 215M0 232 178 218M0 218 178 207M0 229 178 212M0 227 178 215M0 231 178 215M0 232 178 220M0 228 178 220M0 216 178 137M0 230 178 203M0 229 178 171M0 229 178 219M0 227 178 244M0 229 178 216M0 232 178 220M0 231 178 225M0 209 178 86M0 229 178 223M0 232 178 224M0 233 178 205M0 226 178 221M0 38 178-61M0 167 178 197M0 95 178 185M0 93 178 136M0 193 178 349M0 179 178 221M0 87 178 12M0 200 178 112M0 267 178 265M0 267 178 272M0 269 178 288M0 269 178 281M0 260 178 298M0 263 178 281M0 261 178 295M0 266 178 285M0 265 178 277M0 272 178 288M0 264 178 281M0 261 178 293M0 263 178 289M0 274 178 293M0 265 178 275M0 265 178 282M0 265 178 283M0 264 178 287M0 267 178 274M0 264 178 281M0 264 178 280M0 265 178 279M0 272 178 272M0 260 178 297M0 267 178 281M0 262 178 289"/>
<path d="M0 224 178 205M0 232 178 221M0 225 178 208M0 230 178 224M0 222 178 159M0 230 178 232M0 233 178 214M0 226 178 216M0 227 178 175M0 211 178 102M0 228 178 241M0 228 178 163M0 223 178 204M0 227 178 198M0 230 178 233M0 223 178 197M0 224 178 228M0 229 178 209M0 229 178 225M0 229 178 225M0 227 178 207M0 228 178 231M0 41 178-15M0 210 178 90M0 184 178 255M0 170 178 209M0 193 178 240M0 231 178 148M0 262 178-17M0 204 178 184M0 264 178 280M0 264 178 284M0 264 178 290M0 264 178 288M0 261 178 295M0 264 178 286M0 262 178 287M0 262 178 284M0 263 178 286M0 262 178 285M0 264 178 278M0 268 178 260M0 264 178 285M0 260 178 295M0 267 178 284M0 264 178 280M0 269 178 304"/>
<path d="M0 232 178 216M0 233 178 210M0 230 178 210M0 232 178 221M0 229 178 214M0 230 178 224M0 227 178 235M0 229 178 191M0 229 178 224M0 226 178 193M0 228 178 212M0 225 178 204M0 220 178 148M0 230 178 229M0 227 178 239M0 229 178 229M0 228 178 192M0 218 178 143M0 223 178 171M0 229 178 216M0 227 178 214M0 225 178 241M0 227 178 221M0 221 178 176M0 230 178 232M0 229 178 201M0 215 178 83M0 228 178 209M0 214 178 235M0 203 178 49M0 161 178 251M0 221 178 11M0 255 178 96M0 206 178 118M0 176 178 86M0 38 178 35M0 203 178 113M0 117 178-48M0 200 178 248M0 268 178 272M0 263 178 301M0 262 178 288M0 266 178 271M0 263 178 283M0 265 178 291M0 262 178 287M0 271 178 280M0 265 178 276M0 262 178 291M0 263 178 289M0 264 178 287M0 267 178 264"/>
<path d="M0 229 178 216M0 231 178 215M0 230 178 213M0 233 178 217M0 232 178 217M0 232 178 218M0 234 178 211M0 220 178 172M0 226 178 169M0 219 178 162M0 228 178 209M0 219 178 156M0 234 178 215M0 211 178 91M0 229 178 237M0 225 178 219M0 228 178 217M0 231 178 217M0 213 178 114M0 226 178 207M0 230 178 224M0 217 178 126M0 223 178 201M0 220 178 165M0 224 178 194M0 223 178 195M0 230 178 228M0 234 178 217M0 229 178 217M0 212 178 146M0 213 178 299M0 237 178 180M0 164 178 118M0 126 178 129M0 193 178 273M0 213 178 160M0 85 178-6M0 270 178 292M0 269 178 276M0 264 178 281M0 264 178 275M0 262 178 288M0 267 178 297M0 264 178 276M0 263 178 283M0 261 178 298M0 264 178 297M0 264 178 282M0 265 178 292M0 262 178 290M0 275 178 286M0 269 178 288M0 259 178 298M0 262 178 285"/>
<path d="M0 233 178 221M0 228 178 211M0 227 178 210M0 232 178 218M0 232 178 217M0 230 178 219M0 224 178 208M0 230 178 197M0 226 178 193M0 227 178 194M0 222 178 170M0 232 178 218M0 224 178 219M0 229 178 230M0 228 178 219M0 227 178 194M0 225 178 218M0 225 178 182M0 228 178 189M0 225 178 193M0 223 178 193M0 230 178 220M0 230 178 230M0 231 178 196M0 231 178 209M0 229 178 200M0 217 178 151M0 229 178 230M0 178 178 243M0 155 178 275M0 215 178 102M0 190 178 16M0 192 178 33M0 81 178 20M0 95 178 85M0 205 178 228M0 187 178 262M0 232 178 153M0 139 178 176M0 267 178 267M0 264 178 278M0 265 178 276M0 262 178 290M0 258 178 301M0 260 178 297M0 277 178 278M0 262 178 298M0 268 178 272M0 263 178 283M0 259 178 301M0 262 178 290"/>
<path d="M0 224 178 219M0 230 178 212M0 228 178 211M0 233 178 217M0 230 178 214M0 228 178 216M0 230 178 218M0 226 178 205M0 224 178 219M0 230 178 230M0 228 178 234M0 225 178 205M0 219 178 179M0 219 178 157M0 226 178 208M0 224 178 214M0 222 178 154M0 226 178 233M0 223 178 165M0 209 178 81M0 219 178 167M0 225 178 191M0 228 178 234M0 221 178 162M0 222 178 236M0 232 178 217M0 220 178 161M0 228 178 219M0 226 178 229M0 232 178 202M0 225 178 186M0 220 178 140M0 229 178 183M0 221 178 166M0 217 178 271M0 190 178 237M0 266 178 280M0 278 178 293M0 265 178 285M0 267 178 276M0 267 178 293M0 267 178 283M0 268 178 298M0 265 178 276M0 274 178 266M0 263 178 279M0 266 178 268M0 266 178 278M0 266 178 268M0 265 178 284M0 261 178 295M0 267 178 295M0 262 178 297M0 266 178 270"/>
<path d="M0 230 178 213M0 230 178 212M0 226 178 206M0 232 178 223M0 229 178 220M0 230 178 214M0 231 178 218M0 234 178 211M0 230 178 217M0 231 178 219M0 219 178 205M0 231 178 215M0 229 178 227M0 227 178 189M0 227 178 176M0 225 178 190M0 232 178 219M0 224 178 199M0 225 178 207M0 220 178 161M0 225 178 220M0 217 178 145M0 231 178 219M0 212 178 137M0 230 178 201M0 231 178 182M0 230 178 228M0 217 178 192M0 228 178 226M0 229 178 184M0 228 178 237M0 216 178 229M0 178 178 190M0 163 178 319M0 190 178 191M0 153 178 252M0 167 178 219M0 222 178 246M0 205 178 163M0 270 178 268M0 272 178 258M0 270 178 271M0 262 178 285M0 261 178 294M0 266 178 271M0 259 178 304M0 261 178 293M0 265 178 291M0 263 178 288M0 267 178 270M0 264 178 300M0 267 178 281M0 265 178 275M0 268 178 265M0 265 178 278M0 266 178 286M0 266 178 284M0 261 178 290M0 264 178 281M0 262 178 287"/>
<path d="M0 233 178 218M0 229 178 209M0 232 178 213M0 230 178 220M0 225 178 222M0 226 178 152M0 227 178 204M0 231 178 230M0 215 178 130M0 230 178 195M0 224 178 186M0 224 178 187M0 225 178 186M0 226 178 236M0 206 178 81M0 228 178 236M0 229 178 206M0 230 178 220M0 230 178 218M0 226 178 211M0 212 178 123M0 210 178 122M0 214 178 121M0 229 178 217M0 231 178 225M0 231 178 225M0 229 178 201M0 230 178 204M0 52 178-19M0 185 178 234M0 94 178 136M0 224 178 41M0 135 178 282M0 174 178 281M0 254 178 69M0 264 178 278M0 268 178 275M0 261 178 296M0 265 178 284M0 265 178 277M0 263 178 283M0 266 178 290M0 263 178 291M0 260 178 294M0 264 178 288M0 263 178 283M0 266 178 271M0 264 178 282M0 263 178 286M0 270 178 254"/>
<path d="M0 232 178 224M0 231 178 216M0 227 178 221M0 233 178 216M0 228 178 216M0 212 178 83M0 229 178 203M0 224 178 193M0 228 178 225M0 227 178 227M0 217 178 138M0 223 178 230M0 228 178 191M0 226 178 208M0 230 178 215M0 231 178 225M0 229 178 205M0 230 178 203M0 225 178 202M0 215 178 118M0 226 178 214M0 228 178 223M0 230 178 222M0 230 178 233M0 229 178 218M0 228 178 223M0 227 178 228M0 229 178 223M0 229 178 179M0 87 178 313M0 151 178 191M0 107 178 163M0 175 178 262M0 210 178 192M0 116 178 128M0 271 178-85M0 214 178 260M0 33 178 138M0 258 178 305M0 263 178 296M0 266 178 277M0 263 178 299M0 263 178 282M0 261 178 295M0 265 178 285M0 262 178 299M0 266 178 274M0 257 178 304M0 263 178 297M0 261 178 292M0 264 178 275M0 264 178 289M0 269 178 274M0 261 178 290"/>
<path d="M0 232 178 214M0 224 178 214M0 232 178 221M0 230 178 217M0 231 178 226M0 230 178 217M0 225 178 203M0 230 178 215M0 231 178 221M0 216 178 153M0 229 178 228M0 226 178 200M0 224 178 207M0 226 178 217M0 231 178 217M0 227 178 236M0 225 178 211M0 232 178 204M0 221 178 165M0 231 178 219M0 229 178 237M0 232 178 182M0 231 178 207M0 228 178 216M0 194 178 279M0 203 178 252M0 120 178 100M0 169 178 201M0 245 178 124M0 165 178 254M0-11 178 176M0 265 178 296M0 272 178 277M0 262 178 295M0 266 178 275M0 266 178 291M0 266 178 281M0 262 178 291M0 259 178 300M0 267 178 296M0 263 178 288M0 266 178 277M0 264 178 283M0 270 178 280M0 267 178 276M0 265 178 283M0 262 178 289M0 264 178 290M0 262 178 300M0 261 178 289"/>
<path d="M0 234 178 213M0 232 178 216M0 233 178 219M0 228 178 203M0 226 178 201M0 219 178 173M0 233 178 213M0 233 178 214M0 227 178 210M0 228 178 206M0 228 178 201M0 225 178 200M0 221 178 144M0 220 178 171M0 227 178 221M0 229 178 228M0 228 178 221M0 213 178 96M0 227 178 208M0 231 178 226M0 227 178 210M0 231 178 226M0 229 178 203M0 222 178 176M0 226 178 174M0 222 178 155M0 227 178 231M0 264 178 35M0 182 178 159M0 209 178 214M0 248 178 105M0 91 178 65M0 226 178 207M0 181 178 326M0 230 178 213M0 271 178 285M0 266 178 268M0 262 178 288M0 265 178 279M0 265 178 280M0 257 178 306M0 267 178 270M0 265 178 272M0 264 178 295M0 267 178 273M0 270 178 267M0 267 178 295M0 263 178 284M0 259 178 297M0 260 178 301M0 264 178 285M0 267 178 290M0 262 178 287M0 259 178 300M0 269 178 263M0 264 178 279M0 272 178 278M0 262 178 289M0 262 178 295M0 263 178 284M0 266 178 275"/>
<path d="M0 231 178 214M0 234 178 216M0 233 178 219M0 228 178 216M0 232 178 220M0 230 178 220M0 232 178 218M0 229 178 197M0 225 178 187M0 223 178 198M0 232 178 199M0 225 178 219M0 226 178 197M0 227 178 197M0 220 178 131M0 217 178 141M0 231 178 218M0 222 178 185M0 221 178 199M0 226 178 180M0 223 178 154M0 222 178 148M0 229 178 224M0 230 178 231M0 229 178 215M0 229 178 235M0 232 178 223M0 235 178 213M0 226 178 130M0 146 178 188M0 217 178 136M0 24 178 196M0 235 178 111M0 263 178 290M0 262 178 289M0 263 178 284M0 263 178 288M0 268 178 273M0 268 178 268M0 262 178 287M0 267 178 284M0 263 178 301M0 267 178 278M0 266 178 271M0 260 178 295M0 264 178 288M0 262 178 286M0 263 178 285M0 267 178 275"/>
<path d="M0 233 178 215M0 232 178 222M0 223 178 215M0 232 178 219M0 230 178 221M0 227 178 222M0 230 178 215M0 226 178 192M0 228 178 203M0 229 178 215M0 229 178 235M0 230 178 222M0 231 178 209M0 231 178 212M0 227 178 217M0 228 178 217M0 220 178 200M0 223 178 209M0 213 178 133M0 228 178 212M0 225 178 175M0 234 178 208M0 229 178 223M0 225 178 233M0 223 178 207M0 229 178 230M0 228 178 228M0 232 178 217M0 223 178 200M0 224 178 185M0 226 178 196M0 228 178 214M0 178 178 209M0 212 178 258M0 85 178 221M0 135 178 80M0 193 178 212M0 185 178 106M0 40 178-41M0 235 178 135M0 157 178 254M0 266 178 271M0 263 178 289M0 266 178 269M0 262 178 301M0 266 178 280M0 261 178 304M0 266 178 285M0 270 178 278M0 265 178 275M0 268 178 267M0 263 178 286M0 267 178 280M0 262 178 286M0 263 178 280M0 262 178 285M0 263 178 294"/>
<path d="M0 232 178 220M0 230 178 226M0 228 178 220M0 231 178 214M0 219 178 142M0 214 178 60M0 209 178 100M0 229 178 190M0 231 178 223M0 222 178 145M0 221 178 195M0 219 178 160M0 214 178 129M0 223 178 184M0 231 178 215M0 225 178 186M0 221 178 173M0 218 178 127M0 218 178 142M0 226 178 193M0 219 178 161M0 230 178 227M0 216 178 119M0 223 178 187M0 225 178 179M0 229 178 227M0 225 178 228M0 229 178 207M0 224 178 191M0 208 178 103M0 222 178 174M0 219 178 157M0 222 178 213M0 222 178 177M0 182 178 371M0 160 178 196M0 212 178 133M0 182 178 104M0 263 178 286M0 262 178 286M0 266 178 273M0 267 178 290M0 264 178 289M0 262 178 297M0 262 178 293M0 267 178 283M0 266 178 278M0 260 178 296M0 264 178 285"/>
<path d="M0 234 178 217M0 232 178 223M0 231 178 222M0 230 178 215M0 229 178 218M0 231 178 214M0 229 178 214M0 231 178 223M0 227 178 205M0 232 178 219M0 227 178 207M0 222 178 132M0 227 178 197M0 232 178 218M0 229 178 211M0 228 178 236M0 216 178 142M0 234 178 194M0 228 178 218M0 228 178 211M0 210 178 126M0 228 178 216M0 219 178 146M0 233 178 218M0 221 178 131M0 230 178 206M0 230 178 229M0 229 178 228M0 228 178 214M0 228 178 223M0 180 178 55M0 181 178 160M0 239 178 110M0 183 178 181M0 222 178 163M0 195 178 97M0 212 178 300M0 264 178 278M0 265 178 274M0 270 178 293M0 265 178 278M0 264 178 283M0 270 178 255M0 265 178 292M0 266 178 283M0 261 178 296M0 265 178 299M0 259 178 298M0 263 178 287M0 278 178 279M0 263 178 291M0 261 178 292M0 264 178 285M0 262 178 286M0 266 178 267M0 267 178 278"/>
<path d="M0 220 178 205M0 227 178 215M0 229 178 219M0 219 178 203M0 226 178 212M0 233 178 212M0 226 178 215M0 228 178 218M0 220 178 171M0 212 178 120M0 227 178 205M0 216 178 149M0 223 178 181M0 228 178 196M0 233 178 211M0 227 178 210M0 228 178 225M0 228 178 231M0 229 178 232M0 205 178 65M0 230 178 234M0 225 178 181M0 227 178 194M0 226 178 195M0 228 178 222M0 233 178 211M0 210 178 251M0 172 178 191M0 185 178 157M0 114 178 58M0 195 178 305M0 189 178 122M0 136 178 327M0 266 178 275M0 269 178 263M0 264 178 277M0 266 178 287M0 266 178 276M0 261 178 291M0 264 178 291M0 265 178 294M0 266 178 313M0 265 178 301M0 268 178 262M0 263 178 288M0 267 178 287M0 262 178 289M0 266 178 287M0 262 178 288M0 262 178 294M0 264 178 285M0 267 178 269M0 260 178 298"/>
<path d="M0 227 178 210M0 229 178 216M0 227 178 211M0 230 178 211M0 228 178 232M0 228 178 226M0 225 178 224M0 222 178 191M0 231 178 208M0 226 178 189M0 227 178 221M0 230 178 203M0 228 178 225M0 223 178 197M0 222 178 171M0 229 178 199M0 226 178 221M0 230 178 228M0 228 178 205M0 228 178 225M0 229 178 187M0 220 178 157M0 223 178 176M0 225 178 195M0 228 178 184M0 221 178 190M0 219 178 163M0 211 178 147M0 229 178 222M0 230 178 234M0 231 178 223M0 228 178 206M0 221 178 199M0 222 178 208M0 232 178 215M0 230 178 214M0 218 178 168M0 125 178 10M0 207 178 255M0 185 178 383M0 270 178 260M0 266 178 273M0 263 178 295M0 262 178 286M0 269 178 279M0 262 178 301M0 262 178 291M0 268 178 282M0 269 178 280M0 266 178 296M0 266 178 289M0 267 178 289M0 269 178 278M0 265 178 290M0 263 178 285M0 262 178 287"/>
<path d="M0 231 178 214M0 233 178 219M0 233 178 221M0 226 178 232M0 225 178 220M0 224 178 174M0 226 178 213M0 229 178 221M0 225 178 192M0 222 178 192M0 215 178 107M0 222 178 156M0 222 178 204M0 221 178 183M0 225 178 203M0 215 178 129M0 219 178 188M0 232 178 202M0 230 178 204M0 227 178 199M0 219 178 177M0 225 178 206M0 226 178 210M0 218 178 180M0 225 178 214M0 223 178 194M0 144 178 232M0 173 178 264M0 221 178 213M0 111 178 162M0 227 178 203M0 99 178 150M0 94 178 213M0 240 178 180M0 164 178 50M0 251 178 120M0 273 178 13M0 152 178 196M0 204 178 93M0 204 178 253M0 263 178 285M0 267 178 273M0 260 178 298M0 270 178 268M0 262 178 301M0 262 178 293M0 264 178 284M0 267 178 272M0 265 178 277M0 264 178 288M0 264 178 294M0 260 178 298M0 267 178 264M0 260 178 294M0 262 178 289M0 261 178 297M0 263 178 282"/>
<path d="M0 224 178 207M0 226 178 194M0 226 178 210M0 219 178 182M0 230 178 187M0 220 178 161M0 216 178 135M0 223 178 191M0 230 178 211M0 222 178 206M0 218 178 145M0 224 178 151M0 222 178 155M0 228 178 223M0 228 178 213M0 227 178 212M0 228 178 231M0 230 178 197M0 227 178 225M0 210 178 78M0 224 178 198M0 225 178 191M0 188 178-12M0 230 178 218M0 227 178 231M0 230 178 206M0 228 178 190M0 227 178 220M0 225 178 206M0 229 178 221M0 215 178 117M0 187 178 55M0 249 178 130M0 202 178 149M0-5 178 61M0 212 178 165M0 158 178 231M0 210 178 295M0 122 178 248M0 223 178 224M0 156 178 256M0 263 178 294M0 272 178 272M0 261 178 290M0 272 178 287M0 263 178 291M0 264 178 284M0 263 178 283M0 267 178 302M0 261 178 298M0 261 178 299M0 265 178 278M0 265 178 283M0 266 178 283M0 264 178 297M0 265 178 275"/>
<path d="M0 232 178 214M0 228 178 221M0 231 178 220M0 229 178 211M0 235 178 213M0 229 178 216M0 230 178 217M0 233 178 216M0 233 178 219M0 234 178 201M0 233 178 218M0 231 178 175M0 230 178 221M0 224 178 177M0 224 178 208M0 214 178 105M0 227 178 231M0 224 178 124M0 228 178 198M0 215 178 174M0 233 178 206M0 228 178 220M0 220 178 169M0 228 178 225M0 230 178 203M0 224 178 207M0 220 178 176M0 227 178 213M0 173 178 258M0 171 178 168M0 117 178-84M0 203 178 169M0 70 178 50M0 198 178 207M0 264 178 276M0 271 178 292M0 265 178 277M0 270 178 283M0 268 178 264M0 264 178 283M0 261 178 296M0 262 178 288M0 261 178 292M0 272 178 270M0 271 178 297M0 266 178 275M0 268 178 287M0 265 178 281M0 264 178 289M0 267 178 295M0 269 178 276M0 264 178 281M0 262 178 290M0 260 178 297M0 264 178 276M0 265 178 287M0 262 178 298M0 263 178 294"/>
<path d="M0 230 178 215M0 229 178 221M0 231 178 222M0 230 178 226M0 227 178 219M0 209 178 65M0 230 178 211M0 228 178 241M0 229 178 226M0 231 178 223M0 228 178 217M0 228 178 233M0 228 178 206M0 223 178 176M0 227 178 216M0 227 178 210M0 228 178 212M0 218 178 155M0 221 178 153M0 228 178 222M0 228 178 220M0 221 178 181M0 230 178 226M0 228 178 217M0 227 178 178M0 233 178 213M0 228 178 193M0 231 178 227M0 223 178 208M0 225 178 235M0 224 178 223M0 233 178 218M0 225 178 226M0 177 178 247M0 179 178 241M0 166 178 316M0 232 178 116M0 102 178 135M0 148 178 282M0 57 178 136M0 202 178 77M0 260 178 303M0 271 178 261M0 266 178 289M0 266 178 286M0 261 178 292M0 267 178 291M0 265 178 275M0 268 178 269M0 266 178 282M0 266 178 285M0 260 178 297M0 265 178 281M0 259 178 301M0 260 178 302M0 262 178 299M0 259 178 301M0 263 178 290M0 273 178 276M0 268 178 271M0 261 178 296M0 266 178 294"/>
<path d="M0 233 178 214M0 227 178 211M0 216 178 144M0 220 178 181M0 229 178 225M0 220 178 194M0 218 178 134M0 215 178 96M0 227 178 200M0 229 178 212M0 217 178 158M0 225 178 196M0 232 178 225M0 226 178 230M0 229 178 233M0 230 178 214M0 221 178 169M0 214 178 137M0 211 178 107M0 226 178 194M0 220 178 182M0 223 178 156M0 224 178 196M0 225 178 225M0 223 178 176M0 232 178 224M0 216 178 126M0 224 178 234M0 229 178 199M0 164 178 214M0 176 178 366M0 144 178 165M0 214 178 261M0 153 178 277M0 117 178 129M0 126 178 96M0 102 178 127M0 155 178 242M0 187 178 254M0 204 178 222M0 269 178 262M0 262 178 291M0 263 178 291M0 263 178 281M0 264 178 291M0 261 178 293M0 266 178 269M0 264 178 277M0 268 178 298M0 269 178 274"/>
<path d="M0 231 178 218M0 227 178 223M0 232 178 218M0 228 178 213M0 227 178 212M0 232 178 213M0 222 178 195M0 229 178 225M0 225 178 191M0 229 178 238M0 220 178 195M0 226 178 232M0 231 178 215M0 217 178 122M0 221 178 179M0 223 178 197M0 227 178 187M0 232 178 191M0 218 178 157M0 227 178 195M0 226 178 203M0 224 178 173M0 230 178 217M0 226 178 185M0 233 178 209M0 224 178 230M0 226 178 205M0 226 178 233M0 224 178 257M0 236 178 209M0 192 178 296M0 198 178 148M0 197 178 333M0 122 178 20M0 143 178 254M0 268 178 269M0 261 178 294M0 260 178 305M0 260 178 296M0 266 178 297M0 267 178 287M0 268 178 288M0 260 178 296M0 260 178 292M0 267 178 276M0 267 178 281M0 270 178 270M0 266 178 297M0 266 178 273"/>
<path d="M0 225 178 212M0 227 178 221M0 221 178 206M0 229 178 219M0 228 178 217M0 233 178 217M0 231 178 224M0 221 178 151M0 221 178 177M0 220 178 186M0 231 178 225M0 220 178 164M0 230 178 206M0 228 178 219M0 213 178 146M0 234 178 209M0 228 178 231M0 226 178 197M0 223 178 185M0 228 178 231M0 228 178 201M0 232 178 218M0 221 178 190M0 222 178 181M0 223 178 174M0 228 178 206M0 223 178 178M0 229 178 215M0 226 178 201M0 231 178 219M0 226 178 177M0 223 178 175M0 230 178 196M0 231 178 224M0 225 178 234M0 202 178 118M0 189 178 240M0 275 178 282M0 264 178 287M0 264 178 285M0 261 178 291M0 267 178 269M0 269 178 267M0 259 178 301M0 264 178 282M0 258 178 306M0 267 178 292M0 264 178 278M0 263 178 284M0 263 178 282M0 265 178 277M0 262 178 286M0 267 178 276M0 264 178 279M0 259 178 302"/>
<path d="M0 232 178 219M0 228 178 215M0 230 178 216M0 231 178 220M0 228 178 215M0 223 178 203M0 219 178 206M0 215 178 121M0 222 178 196M0 234 178 206M0 204 178 91M0 226 178 198M0 219 178 164M0 230 178 224M0 233 178 213M0 229 178 220M0 231 178 229M0 226 178 221M0 215 178 139M0 227 178 223M0 213 178 137M0 232 178 198M0 224 178 221M0 224 178 165M0 217 178 147M0 229 178 200M0 214 178 120M0 222 178 169M0 197 178 65M0 234 178 190M0 56 178 196M0 212 178 207M0 146 178 210M0 155 178 272M0 148 178 142M0 263 178 286M0 265 178 285M0 268 178 280M0 262 178 288M0 266 178 286M0 259 178 303M0 265 178 274M0 266 178 272M0 263 178 281M0 260 178 294M0 263 178 284M0 262 178 291M0 267 178 282M0 264 178 287M0 264 178 288M0 264 178 290M0 264 178 279"/>
<path d="M0 231 178 218M0 229 178 213M0 231 178 219M0 228 178 218M0 231 178 217M0 225 178 211M0 228 178 212M0 229 178 203M0 228 178 213M0 226 178 218M0 231 178 227M0 215 178 121M0 217 178 170M0 231 178 230M0 216 178 125M0 225 178 204M0 227 178 203M0 230 178 230M0 227 178 212M0 209 178 109M0 221 178 143M0 230 178 213M0 205 178 41M0 231 178 223M0 212 178 129M0 228 178 204M0 222 178 167M0 232 178 209M0 131 178 241M0 167 178 278M0 231 178 143M0 246 178 128M0 190 178 70M0 141 178 208M0 159 178 108M0 187 178 84M0 235 178 161M0 140 178 218M0 263 178 284M0 269 178 272M0 261 178 288M0 259 178 311M0 264 178 281M0 266 178 270M0 263 178 282M0 266 178 291M0 264 178 286M0 271 178 292M0 268 178 289M0 262 178 289M0 262 178 288M0 263 178 291M0 265 178 281M0 263 178 299M0 268 178 283M0 267 178 297M0 264 178 284M0 264 178 276M0 266 178 291M0 267 178 263"/>
<path d="M0 232 178 219M0 230 178 218M0 229 178 212M0 230 178 220M0 233 178 221M0 231 178 216M0 228 178 240M0 229 178 212M0 228 178 211M0 221 178 177M0 224 178 204M0 224 178 197M0 226 178 247M0 223 178 189M0 226 178 245M0 227 178 209M0 227 178 224M0 233 178 213M0 220 178 139M0 228 178 224M0 229 178 236M0 229 178 236M0 229 178 200M0 229 178 210M0 229 178 236M0 225 178 202M0 225 178 181M0 227 178 196M0 221 178 189M0 230 178 204M0 232 178 222M0 186 178 108M0 240 178 143M0 240 178 157M0 48 178 208M0 177 178 309M0 194 178 237M0 130 178 191M0 201 178 284M0 56 178 132M0 249 178 19M0 265 178 277M0 267 178 274M0 267 178 271M0 265 178 282M0 264 178 289M0 264 178 282M0 260 178 300M0 266 178 291M0 262 178 309M0 262 178 290M0 264 178 281M0 266 178 274M0 262 178 284M0 263 178 289M0 266 178 305M0 266 178 278M0 263 178 286M0 264 178 280M0 268 178 274M0 263 178 282M0 264 178 293M0 260 178 293"/>
<path d="M0 231 178 215M0 232 178 217M0 225 178 216M0 226 178 194M0 221 178 175M0 230 178 202M0 231 178 219M0 231 178 227M0 206 178 64M0 232 178 217M0 219 178 152M0 227 178 177M0 229 178 212M0 231 178 217M0 219 178 141M0 228 178 231M0 225 178 211M0 229 178 227M0 234 178 201M0 226 178 233M0 230 178 229M0 206 178 63M0 233 178 208M0 230 178 218M0 229 178 212M0 229 178 209M0 230 178 220M0 212 178 118M0 231 178 222M0 230 178 227M0 209 178 246M0 132 178 55M0 167 178 356M0 126 178 84M0 91 178 84M0 263 178 292M0 262 178 285M0 260 178 298M0 267 178 279M0 265 178 284M0 265 178 280M0 273 178 279M0 265 178 283M0 264 178 280M0 274 178 269M0 264 178 292M0 264 178 281M0 270 178 289"/>
<path d="M0 224 178 212M0 232 178 215M0 229 178 222M0 232 178 220M0 229 178 217M0 229 178 218M0 232 178 214M0 231 178 223M0 228 178 239M0 225 178 219M0 218 178 128M0 225 178 196M0 231 178 218M0 226 178 200M0 227 178 203M0 219 178 158M0 227 178 204M0 224 178 177M0 228 178 214M0 230 178 216M0 226 178 215M0 226 178 227M0 223 178 220M0 231 178 208M0 227 178 237M0 219 178 132M0 223 178 193M0 229 178 225M0 224 178 169M0 227 178 205M0 227 178 219M0 227 178 206M0 228 178 215M0 193 178 220M0 185 178 294M0 186 178 118M0 168 178 249M0 160 178 198M0 70 178 24M0 166 178 256M0 171 178 310M0 276 178 293M0 266 178 274M0 265 178 282M0 263 178 297M0 262 178 283M0 267 178 270M0 261 178 300M0 264 178 284M0 267 178 276M0 267 178 267M0 264 178 281M0 264 178 285"/>
</g>
<linearGradient id="hc0" x1="0" y1="1" x2="0" y2="0"><stop offset="0" stop-color="#262626"/><stop offset="0.5" stop-color="#262626" stop-opacity="0.504"/><stop offset="1" stop-color="#262626" stop-opacity="0"/></linearGradient>
<path d="M500.4 228.3L678.0 226.8L678.0 222.2L500.4 223.6Z" fill="url(#hc0)"/>
<path d="M500.4 227.2L678.0 225.8L678.0 284.4L602.2 278.2L534.6 270.0L500.4 273.3Z" fill="#262626"/>
</g>
<g clip-path="url(#cd)">
<g transform="translate(40.3 0)" stroke="#000" stroke-opacity="0.0133" stroke-width="1.3" fill="none">
<path d="M0 456 178 450M0 510 178 498M0 550 178 570M0 418 178 425M0 571 178 568M0 477 178 477M0 529 178 535M0 540 178 554M0 551 178 539M0 524 178 519M0 539 178 522M0 521 178 550M0 526 178 523M0 487 178 485M0 547 178 555M0 482 178 475M0 531 178 511M0 469 178 513M0 465 178 487M0 449 178 531M0 463 178 534M0 471 178 476M0 538 178 495M0 534 178 487"/>
<path d="M0 583 178 561M0 494 178 484M0 525 178 520M0 508 178 493M0 535 178 539M0 501 178 490M0 589 178 583M0 517 178 515M0 529 178 538M0 465 178 474M0 499 178 504M0 532 178 511M0 508 178 526M0 492 178 477M0 513 178 515M0 471 178 462M0 583 178 575M0 517 178 524M0 548 178 411M0 553 178 434M0 524 178 548"/>
<path d="M0 556 178 551M0 559 178 544M0 541 178 538M0 561 178 555M0 483 178 453M0 511 178 535M0 518 178 529M0 557 178 552M0 354 178 578M0 468 178 491M0 448 178 487M0 506 178 499M0 531 178 529M0 451 178 464M0 528 178 472M0 496 178 524"/>
<path d="M0 474 178 470M0 511 178 508M0 481 178 478M0 538 178 503M0 550 178 546M0 491 178 502M0 534 178 528M0 602 178 569M0 498 178 506M0 514 178 532M0 558 178 558M0 562 178 567M0 474 178 470M0 475 178 475M0 590 178 600M0 554 178 537M0 563 178 546M0 569 178 412M0 589 178 459M0 564 178 471M0 511 178 467M0 570 178 514M0 475 178 550M0 454 178 584M0 498 178 502M0 439 178 436"/>
<path d="M0 589 178 570M0 463 178 471M0 535 178 542M0 478 178 479M0 540 178 536M0 532 178 534M0 553 178 530M0 450 178 466M0 536 178 571M0 531 178 552M0 466 178 450M0 518 178 516M0 553 178 545M0 544 178 509M0 561 178 577M0 552 178 505M0 589 178 464M0 494 178 485M0 484 178 506M0 478 178 493M0 413 178 507M0 414 178 558M0 423 178 563M0 483 178 496"/>
<path d="M0 496 178 503M0 490 178 486M0 548 178 544M0 482 178 457M0 479 178 471M0 553 178 547M0 457 178 449M0 495 178 498M0 553 178 546M0 605 178 589M0 489 178 494M0 563 178 581M0 452 178 431M0 510 178 510M0 531 178 522M0 499 178 506M0 565 178 540M0 564 178 576M0 467 178 460M0 488 178 489M0 597 178 585M0 538 178 521M0 549 178 539M0 486 178 494M0 469 178 478M0 594 178 603M0 565 178 546M0 490 178 479M0 497 178 484M0 494 178 513M0 449 178 539M0 532 178 471M0 495 178 478M0 539 178 429M0 518 178 555M0 497 178 508"/>
<path d="M0 551 178 536M0 430 178 439M0 532 178 523M0 483 178 485M0 545 178 557M0 553 178 547M0 530 178 523M0 571 178 549M0 451 178 435M0 533 178 510M0 526 178 522M0 522 178 530M0 533 178 528M0 603 178 597M0 461 178 441M0 615 178 428M0 464 178 477M0 452 178 541M0 441 178 453M0 469 178 470M0 404 178 528M0 537 178 506M0 441 178 517M0 466 178 491M0 445 178 500M0 489 178 527M0 501 178 515M0 428 178 538"/>
<path d="M0 501 178 472M0 535 178 496M0 528 178 516M0 512 178 521M0 569 178 560M0 506 178 495M0 560 178 568M0 468 178 485M0 566 178 573M0 549 178 560M0 489 178 513M0 524 178 506M0 526 178 530M0 504 178 524M0 510 178 499M0 546 178 529M0 481 178 453M0 517 178 528M0 554 178 544M0 581 178 565M0 539 178 512M0 495 178 528M0 577 178 419M0 502 178 452"/>
<path d="M0 446 178 452M0 515 178 512M0 542 178 543M0 589 178 601M0 434 178 431M0 565 178 525M0 476 178 466M0 428 178 444M0 602 178 593M0 513 178 508M0 508 178 507M0 504 178 525M0 553 178 441M0 410 178 539M0 458 178 524M0 510 178 457M0 452 178 509M0 587 178 438M0 514 178 457M0 523 178 450M0 464 178 475"/>
<path d="M0 504 178 498M0 527 178 512M0 520 178 519M0 518 178 497M0 523 178 510M0 520 178 512M0 492 178 515M0 551 178 550M0 549 178 545M0 517 178 505M0 542 178 539M0 502 178 504M0 528 178 529M0 478 178 475M0 521 178 513M0 518 178 510M0 547 178 477M0 652 178 425M0 564 178 460M0 481 178 487M0 523 178 501"/>
<path d="M0 490 178 480M0 523 178 552M0 568 178 561M0 499 178 509M0 458 178 473M0 545 178 556M0 508 178 508M0 536 178 538M0 553 178 548M0 517 178 521M0 507 178 480M0 517 178 517M0 550 178 468M0 437 178 506M0 506 178 457M0 486 178 499M0 419 178 472M0 448 178 531"/>
<path d="M0 495 178 490M0 494 178 492M0 506 178 502M0 432 178 437M0 506 178 511M0 450 178 450M0 497 178 498M0 549 178 554M0 505 178 497M0 485 178 510M0 574 178 548M0 523 178 519M0 479 178 477M0 517 178 520M0 510 178 506M0 486 178 439M0 444 178 510M0 519 178 476M0 355 178 586M0 457 178 596M0 516 178 527M0 487 178 520M0 375 178 513"/>
<path d="M0 501 178 499M0 557 178 542M0 468 178 433M0 532 178 537M0 470 178 482M0 469 178 460M0 479 178 472M0 440 178 453M0 514 178 526M0 443 178 427M0 545 178 547M0 456 178 452M0 454 178 446M0 464 178 479M0 580 178 587M0 511 178 499M0 499 178 519M0 455 178 480M0 449 178 468M0 538 178 461M0 572 178 493M0 452 178 579"/>
<path d="M0 462 178 462M0 495 178 507M0 492 178 493M0 553 178 577M0 524 178 505M0 473 178 468M0 471 178 471M0 514 178 512M0 540 178 519M0 484 178 481M0 533 178 529M0 540 178 535M0 556 178 578M0 527 178 514M0 410 178 557M0 529 178 478M0 425 178 520M0 513 178 488M0 634 178 445M0 508 178 496M0 477 178 481"/>
<path d="M0 539 178 537M0 533 178 535M0 584 178 579M0 541 178 544M0 487 178 509M0 514 178 504M0 543 178 554M0 534 178 538M0 537 178 540M0 449 178 448M0 531 178 529M0 508 178 485M0 517 178 526M0 494 178 488M0 572 178 577M0 487 178 474M0 531 178 553M0 486 178 473M0 539 178 552M0 502 178 491M0 498 178 511M0 461 178 451M0 504 178 516M0 496 178 494M0 441 178 536M0 496 178 414M0 435 178 551M0 482 178 473"/>
<path d="M0 457 178 457M0 512 178 515M0 545 178 533M0 548 178 536M0 523 178 525M0 491 178 511M0 498 178 494M0 540 178 519M0 527 178 523M0 525 178 517M0 471 178 470M0 565 178 579M0 547 178 525M0 518 178 503M0 440 178 508M0 531 178 535M0 410 178 504M0 464 178 513M0 386 178 505M0 517 178 490M0 571 178 469M0 457 178 539M0 458 178 531M0 389 178 514M0 523 178 476"/>
<path d="M0 504 178 512M0 511 178 499M0 553 178 542M0 450 178 468M0 529 178 483M0 530 178 533M0 531 178 525M0 572 178 587M0 515 178 534M0 604 178 595M0 548 178 551M0 456 178 425M0 533 178 533M0 540 178 527M0 453 178 469M0 510 178 551M0 436 178 555M0 471 178 472M0 477 178 528M0 501 178 493M0 462 178 500M0 476 178 490M0 481 178 496"/>
<path d="M0 563 178 568M0 543 178 526M0 580 178 556M0 513 178 524M0 479 178 479M0 549 178 539M0 524 178 514M0 483 178 476M0 428 178 430M0 462 178 468M0 546 178 546M0 546 178 536M0 501 178 459M0 555 178 586M0 410 178 542M0 543 178 466M0 534 178 468M0 516 178 523M0 469 178 520"/>
<path d="M0 477 178 489M0 533 178 528M0 448 178 467M0 502 178 494M0 461 178 463M0 555 178 547M0 512 178 513M0 420 178 435M0 493 178 500M0 596 178 613M0 487 178 484M0 590 178 569M0 516 178 510M0 556 178 567M0 531 178 522M0 429 178 430M0 520 178 509M0 537 178 524M0 472 178 457M0 500 178 474M0 444 178 578M0 490 178 488M0 578 178 495M0 504 178 464"/>
<path d="M0 512 178 522M0 581 178 555M0 458 178 456M0 488 178 492M0 436 178 423M0 533 178 556M0 491 178 509M0 523 178 527M0 465 178 446M0 601 178 574M0 541 178 551M0 453 178 450M0 524 178 524M0 445 178 463M0 462 178 432M0 535 178 544M0 434 178 443M0 482 178 470M0 466 178 476M0 550 178 513M0 381 178 375M0 513 178 515M0 472 178 517M0 489 178 461M0 464 178 505M0 389 178 583M0 460 178 465M0 602 178 458"/>
<path d="M0 554 178 549M0 544 178 544M0 521 178 518M0 590 178 571M0 539 178 536M0 516 178 502M0 500 178 481M0 537 178 514M0 547 178 528M0 469 178 475M0 430 178 437M0 478 178 480M0 514 178 532M0 451 178 432M0 484 178 503M0 501 178 511M0 488 178 507M0 572 178 550M0 491 178 495M0 510 178 479M0 537 178 483M0 396 178 550M0 530 178 488M0 414 178 542M0 510 178 515M0 462 178 484"/>
<path d="M0 538 178 537M0 569 178 538M0 458 178 448M0 592 178 578M0 503 178 499M0 562 178 582M0 478 178 502M0 491 178 466M0 539 178 533M0 469 178 472M0 485 178 503M0 529 178 509M0 572 178 559M0 564 178 567M0 494 178 499M0 548 178 416M0 456 178 488M0 570 178 486M0 456 178 523M0 525 178 479M0 562 178 414M0 533 178 488M0 528 178 466M0 451 178 502"/>
<path d="M0 546 178 546M0 520 178 513M0 458 178 461M0 502 178 497M0 516 178 522M0 548 178 545M0 540 178 539M0 532 178 523M0 454 178 453M0 520 178 523M0 538 178 536M0 493 178 499M0 519 178 534M0 613 178 598M0 405 178 534M0 461 178 491M0 451 178 481M0 524 178 449M0 510 178 524M0 489 178 513M0 432 178 519M0 507 178 501"/>
<path d="M0 435 178 430M0 432 178 451M0 505 178 508M0 509 178 494M0 481 178 496M0 493 178 483M0 486 178 494M0 558 178 528M0 486 178 476M0 569 178 564M0 550 178 550M0 515 178 496M0 526 178 516M0 435 178 554M0 580 178 465M0 536 178 474M0 561 178 443M0 544 178 487M0 545 178 441M0 460 178 486M0 452 178 535M0 548 178 473M0 429 178 469"/>
<path d="M0 543 178 547M0 532 178 517M0 524 178 506M0 594 178 603M0 475 178 470M0 557 178 562M0 553 178 555M0 595 178 572M0 547 178 542M0 469 178 519M0 562 178 470M0 453 178 502M0 573 178 477"/>
<path d="M0 499 178 512M0 473 178 470M0 523 178 518M0 521 178 504M0 590 178 564M0 504 178 491M0 464 178 486M0 588 178 582M0 574 178 588M0 506 178 512M0 431 178 428M0 562 178 547M0 516 178 518M0 473 178 489M0 440 178 488M0 538 178 419M0 508 178 491M0 506 178 466M0 479 178 539"/>
<path d="M0 479 178 467M0 501 178 507M0 505 178 477M0 476 178 492M0 550 178 552M0 549 178 542M0 512 178 512M0 547 178 563M0 424 178 418M0 576 178 549M0 481 178 482M0 516 178 491M0 530 178 524M0 509 178 521M0 477 178 483M0 492 178 473M0 496 178 498M0 544 178 442M0 423 178 510M0 438 178 543M0 456 178 510M0 413 178 521M0 529 178 505M0 459 178 526M0 580 178 413"/>
<path d="M0 519 178 518M0 540 178 533M0 520 178 523M0 560 178 541M0 503 178 477M0 579 178 591M0 578 178 559M0 531 178 555M0 542 178 541M0 537 178 531M0 482 178 506M0 526 178 532M0 444 178 549M0 426 178 539M0 575 178 443M0 434 178 556M0 404 178 544M0 472 178 486"/>
<path d="M0 490 178 492M0 499 178 502M0 520 178 506M0 512 178 487M0 552 178 547M0 517 178 508M0 461 178 436M0 499 178 474M0 503 178 513M0 465 178 437M0 518 178 525M0 508 178 480M0 544 178 523M0 579 178 575M0 480 178 485M0 593 178 579M0 551 178 549M0 435 178 480M0 474 178 504M0 462 178 498M0 483 178 486M0 527 178 495M0 378 178 551M0 479 178 526"/>
<path d="M0 529 178 527M0 550 178 563M0 558 178 533M0 581 178 568M0 568 178 575M0 585 178 567M0 499 178 502M0 498 178 513M0 455 178 448M0 592 178 583M0 451 178 451M0 502 178 458M0 503 178 442M0 536 178 453M0 523 178 477"/>
<path d="M0 549 178 540M0 487 178 485M0 476 178 478M0 543 178 525M0 506 178 517M0 567 178 567M0 516 178 521M0 516 178 523M0 543 178 527M0 551 178 558M0 542 178 553M0 565 178 579M0 427 178 567M0 420 178 556M0 530 178 448M0 523 178 502M0 371 178 625M0 536 178 479M0 442 178 545"/>
<path d="M0 506 178 502M0 518 178 498M0 602 178 593M0 580 178 583M0 492 178 504M0 617 178 614M0 587 178 574M0 545 178 527M0 558 178 569M0 533 178 528M0 573 178 574M0 440 178 403M0 529 178 522M0 457 178 472M0 554 178 434M0 494 178 448M0 388 178 559M0 501 178 495M0 489 178 547M0 423 178 559M0 440 178 564"/>
<path d="M0 522 178 515M0 516 178 514M0 541 178 538M0 499 178 479M0 487 178 514M0 439 178 458M0 476 178 443M0 574 178 563M0 526 178 513M0 567 178 564M0 600 178 581M0 452 178 550M0 517 178 527M0 497 178 535M0 420 178 556"/>
<path d="M0 522 178 505M0 463 178 443M0 424 178 414M0 541 178 538M0 558 178 563M0 499 178 501M0 528 178 527M0 429 178 457M0 440 178 434M0 515 178 514M0 560 178 567M0 541 178 554M0 473 178 488M0 508 178 497M0 530 178 525M0 562 178 563M0 465 178 449M0 528 178 518M0 551 178 545M0 430 178 538M0 456 178 516M0 626 178 444M0 577 178 437M0 574 178 484M0 445 178 495M0 601 178 419M0 493 178 524M0 411 178 545"/>
<path d="M0 573 178 570M0 499 178 462M0 482 178 490M0 473 178 487M0 451 178 443M0 529 178 513M0 474 178 468M0 469 178 472M0 432 178 436M0 555 178 553M0 556 178 549M0 481 178 511M0 568 178 584M0 475 178 460M0 489 178 476M0 454 178 471M0 521 178 522M0 475 178 537M0 505 178 542M0 525 178 485M0 531 178 460"/>
<path d="M0 442 178 435M0 495 178 524M0 522 178 534M0 583 178 592M0 482 178 470M0 510 178 510M0 495 178 473M0 521 178 521M0 489 178 494M0 509 178 502M0 561 178 545M0 470 178 449M0 473 178 468M0 574 178 582M0 483 178 474M0 519 178 545M0 408 178 523M0 554 178 430M0 558 178 467M0 464 178 461M0 577 178 477"/>
<path d="M0 577 178 587M0 561 178 555M0 559 178 558M0 533 178 525M0 459 178 460M0 481 178 477M0 454 178 479M0 580 178 580M0 540 178 521M0 482 178 527M0 543 178 456M0 437 178 563M0 501 178 486M0 592 178 525M0 486 178 526"/>
<path d="M0 443 178 458M0 527 178 508M0 528 178 511M0 487 178 480M0 492 178 487M0 510 178 528M0 506 178 513M0 500 178 493M0 553 178 551M0 490 178 484M0 516 178 512M0 508 178 482M0 536 178 521M0 535 178 521M0 538 178 537M0 449 178 457M0 499 178 531M0 605 178 438M0 473 178 508M0 467 178 472M0 454 178 507M0 428 178 492"/>
<path d="M0 506 178 494M0 537 178 522M0 523 178 535M0 588 178 576M0 545 178 558M0 525 178 530M0 537 178 532M0 508 178 482M0 548 178 540M0 504 178 482M0 533 178 503M0 516 178 518M0 537 178 529M0 525 178 505M0 566 178 461M0 487 178 521M0 513 178 523M0 425 178 461M0 462 178 531M0 538 178 489M0 379 178 531"/>
<path d="M0 531 178 523M0 430 178 425M0 531 178 538M0 485 178 490M0 492 178 482M0 578 178 567M0 528 178 529M0 542 178 528M0 574 178 566M0 519 178 510M0 503 178 555M0 576 178 431M0 433 178 525M0 518 178 510M0 467 178 532M0 525 178 535M0 398 178 571M0 521 178 490"/>
<path d="M0 548 178 561M0 564 178 567M0 541 178 530M0 497 178 500M0 542 178 551M0 481 178 478M0 465 178 497M0 578 178 567M0 465 178 480M0 472 178 491M0 499 178 509M0 503 178 488M0 503 178 499M0 446 178 444M0 423 178 423M0 549 178 540M0 532 178 476M0 579 178 364M0 441 178 560M0 526 178 455M0 493 178 477"/>
<path d="M0 560 178 549M0 604 178 617M0 494 178 498M0 548 178 563M0 473 178 478M0 477 178 473M0 568 178 592M0 516 178 510M0 436 178 446M0 532 178 518M0 465 178 468M0 549 178 542M0 486 178 464M0 507 178 494M0 562 178 551M0 540 178 530M0 537 178 541M0 468 178 463M0 411 178 574M0 478 178 500M0 531 178 502M0 415 178 545M0 486 178 509M0 609 178 489M0 474 178 530M0 489 178 496M0 402 178 566M0 513 178 479M0 531 178 464"/>
<path d="M0 475 178 478M0 505 178 497M0 545 178 563M0 551 178 536M0 548 178 541M0 523 178 506M0 502 178 511M0 467 178 495M0 539 178 542M0 488 178 470M0 510 178 511M0 523 178 519M0 490 178 490M0 542 178 549M0 460 178 435M0 573 178 573M0 517 178 440M0 630 178 469M0 531 178 454M0 550 178 473M0 456 178 484M0 492 178 512M0 545 178 482M0 489 178 505M0 443 178 569M0 497 178 517M0 441 178 598M0 545 178 481M0 524 178 430M0 635 178 395M0 592 178 437M0 421 178 491M0 570 178 420"/>
<path d="M0 562 178 556M0 524 178 503M0 501 178 501M0 537 178 523M0 467 178 472M0 518 178 509M0 532 178 536M0 564 178 541M0 475 178 481M0 556 178 594M0 537 178 533M0 552 178 546M0 555 178 471M0 467 178 473M0 521 178 490M0 546 178 403M0 516 178 487M0 484 178 485M0 492 178 521"/>
<path d="M0 601 178 604M0 537 178 533M0 562 178 546M0 505 178 497M0 511 178 508M0 573 178 571M0 568 178 557M0 607 178 593M0 498 178 502M0 479 178 457M0 469 178 472M0 546 178 521M0 432 178 412M0 523 178 527M0 533 178 520M0 553 178 531M0 539 178 513M0 528 178 530M0 454 178 523M0 496 178 506M0 500 178 457M0 410 178 572M0 414 178 528"/>
<path d="M0 501 178 484M0 564 178 544M0 471 178 462M0 514 178 518M0 482 178 474M0 464 178 466M0 585 178 563M0 491 178 495M0 566 178 553M0 543 178 553M0 511 178 584M0 480 178 546M0 418 178 563M0 521 178 513M0 575 178 399M0 470 178 436M0 490 178 504"/>
<path d="M0 560 178 549M0 576 178 588M0 514 178 508M0 529 178 528M0 502 178 490M0 502 178 507M0 520 178 503M0 476 178 475M0 534 178 530M0 510 178 513M0 510 178 519M0 394 178 396M0 506 178 482M0 539 178 531M0 506 178 501M0 511 178 500M0 494 178 519M0 550 178 499M0 618 178 445M0 516 178 516M0 463 178 520M0 549 178 483M0 523 178 506M0 487 178 527M0 630 178 431M0 450 178 533M0 522 178 475M0 435 178 504M0 486 178 550"/>
<path d="M0 528 178 521M0 567 178 567M0 534 178 505M0 567 178 557M0 535 178 512M0 528 178 536M0 482 178 495M0 482 178 459M0 530 178 542M0 452 178 458M0 601 178 606M0 520 178 500M0 527 178 526M0 511 178 482M0 391 178 485M0 415 178 555M0 612 178 396M0 507 178 384M0 560 178 450M0 476 178 495"/>
<path d="M0 482 178 453M0 541 178 552M0 543 178 548M0 463 178 449M0 479 178 467M0 422 178 406M0 543 178 548M0 480 178 473M0 478 178 482M0 522 178 494M0 540 178 518M0 518 178 525M0 553 178 526M0 460 178 461M0 535 178 548M0 546 178 531M0 525 178 522M0 574 178 579M0 488 178 479M0 459 178 500M0 557 178 479M0 640 178 462M0 421 178 560M0 452 178 533M0 477 178 429M0 475 178 514M0 542 178 500M0 495 178 484M0 508 178 489"/>
<path d="M0 508 178 509M0 569 178 585M0 430 178 435M0 504 178 487M0 474 178 462M0 557 178 535M0 462 178 505M0 464 178 486M0 477 178 456M0 524 178 514M0 488 178 490M0 479 178 512M0 517 178 511M0 512 178 507M0 504 178 522M0 410 178 411M0 522 178 527M0 482 178 485M0 575 178 562M0 519 178 523M0 531 178 539M0 488 178 509M0 518 178 485M0 429 178 499M0 466 178 488M0 595 178 476M0 558 178 399"/>
<path d="M0 485 178 491M0 525 178 543M0 536 178 505M0 536 178 538M0 465 178 467M0 554 178 546M0 438 178 440M0 495 178 506M0 461 178 475M0 580 178 573M0 616 178 604M0 508 178 504M0 581 178 589M0 536 178 548M0 497 178 458M0 540 178 482M0 514 178 523M0 498 178 504M0 490 178 503M0 547 178 540M0 592 178 429M0 553 178 444M0 389 178 553M0 436 178 544"/>
<path d="M0 489 178 466M0 519 178 512M0 522 178 512M0 540 178 526M0 511 178 509M0 535 178 529M0 498 178 477M0 504 178 504M0 515 178 505M0 466 178 460M0 442 178 445M0 492 178 491M0 574 178 569M0 561 178 596M0 545 178 540M0 549 178 545M0 511 178 498M0 500 178 509M0 550 178 539M0 518 178 506M0 580 178 430M0 546 178 478M0 485 178 515M0 480 178 515M0 390 178 534M0 522 178 479"/>
<path d="M0 560 178 552M0 502 178 523M0 451 178 460M0 476 178 466M0 544 178 528M0 525 178 503M0 487 178 497M0 534 178 527M0 454 178 450M0 526 178 527M0 515 178 494M0 509 178 517M0 562 178 574M0 537 178 459M0 574 178 401M0 479 178 536M0 551 178 428M0 551 178 440M0 581 178 461"/>
<path d="M0 544 178 553M0 510 178 512M0 575 178 576M0 506 178 487M0 584 178 564M0 542 178 532M0 571 178 537M0 418 178 414M0 462 178 472M0 507 178 520M0 605 178 603M0 530 178 527M0 586 178 602M0 557 178 546M0 522 178 512M0 520 178 520M0 493 178 473M0 541 178 455M0 504 178 495M0 417 178 524M0 429 178 486M0 526 178 487M0 419 178 550M0 548 178 495"/>
<path d="M0 512 178 501M0 498 178 502M0 551 178 522M0 440 178 451M0 538 178 539M0 550 178 560M0 500 178 496M0 544 178 549M0 535 178 509M0 500 178 486M0 534 178 522M0 395 178 402M0 546 178 523M0 449 178 441M0 601 178 577M0 598 178 489M0 552 178 482M0 449 178 523M0 456 178 521M0 529 178 480M0 471 178 497M0 549 178 527M0 465 178 504M0 432 178 541M0 532 178 466M0 461 178 504"/>
<path d="M0 480 178 497M0 550 178 550M0 484 178 487M0 618 178 611M0 555 178 556M0 602 178 599M0 527 178 508M0 467 178 461M0 486 178 471M0 484 178 477M0 581 178 594M0 571 178 575M0 485 178 503M0 508 178 507M0 469 178 493M0 446 178 533M0 532 178 524M0 435 178 504M0 466 178 493M0 454 178 508"/>
<path d="M0 530 178 541M0 467 178 484M0 548 178 541M0 514 178 532M0 542 178 522M0 481 178 466M0 527 178 522M0 491 178 474M0 591 178 593M0 528 178 510M0 484 178 516M0 545 178 563M0 556 178 548M0 499 178 486M0 543 178 529M0 483 178 451M0 566 178 604M0 548 178 560M0 600 178 373M0 492 178 495M0 511 178 431M0 514 178 494M0 592 178 453"/>
<path d="M0 497 178 498M0 517 178 503M0 572 178 556M0 481 178 473M0 525 178 521M0 531 178 518M0 457 178 439M0 549 178 540M0 507 178 520M0 474 178 456M0 545 178 556M0 472 178 472M0 528 178 514M0 507 178 503M0 519 178 503M0 562 178 469M0 546 178 415M0 602 178 510M0 493 178 483M0 397 178 504"/>
<path d="M0 524 178 520M0 465 178 459M0 499 178 486M0 451 178 455M0 503 178 496M0 561 178 549M0 520 178 513M0 510 178 500M0 480 178 481M0 467 178 474M0 503 178 496M0 546 178 538M0 524 178 510M0 516 178 528M0 471 178 487M0 476 178 479M0 512 178 518M0 469 178 478M0 484 178 476M0 529 178 535M0 434 178 501M0 454 178 495M0 516 178 514M0 420 178 545"/>
<path d="M0 522 178 521M0 547 178 530M0 490 178 490M0 468 178 471M0 506 178 489M0 457 178 470M0 562 178 564M0 512 178 495M0 561 178 575M0 507 178 524M0 527 178 548M0 517 178 502M0 522 178 526M0 464 178 440M0 609 178 419M0 620 178 374M0 445 178 529M0 439 178 524M0 490 178 466M0 543 178 468M0 469 178 562M0 405 178 541M0 504 178 495M0 416 178 510M0 571 178 494M0 481 178 516M0 405 178 548"/>
<path d="M0 580 178 558M0 500 178 501M0 473 178 472M0 428 178 446M0 516 178 508M0 495 178 491M0 494 178 491M0 442 178 434M0 470 178 485M0 567 178 565M0 556 178 554M0 581 178 564M0 574 178 569M0 570 178 590M0 466 178 454M0 511 178 505M0 523 178 530M0 548 178 533M0 522 178 518M0 475 178 470M0 510 178 557M0 405 178 511M0 569 178 467M0 532 178 486M0 441 178 551M0 575 178 465M0 475 178 507M0 467 178 533"/>
<path d="M0 521 178 524M0 541 178 545M0 566 178 575M0 498 178 497M0 503 178 496M0 502 178 486M0 514 178 497M0 476 178 482M0 549 178 527M0 551 178 556M0 565 178 600M0 514 178 477M0 481 178 506M0 536 178 511M0 641 178 447M0 347 178 524M0 462 178 522M0 438 178 517M0 558 178 430M0 522 178 530"/>
<path d="M0 493 178 506M0 460 178 495M0 514 178 494M0 507 178 496M0 548 178 532M0 468 178 466M0 538 178 555M0 487 178 443M0 525 178 524M0 598 178 600M0 527 178 539M0 486 178 483M0 501 178 519M0 517 178 508M0 532 178 545M0 534 178 528M0 464 178 495M0 460 178 440M0 542 178 460M0 531 178 467M0 624 178 469M0 491 178 493"/>
<path d="M0 489 178 481M0 558 178 539M0 509 178 506M0 494 178 476M0 519 178 506M0 494 178 475M0 530 178 542M0 584 178 605M0 499 178 485M0 589 178 599M0 522 178 521M0 470 178 467M0 505 178 508M0 530 178 522M0 435 178 444M0 490 178 502M0 520 178 515M0 488 178 491M0 564 178 437M0 447 178 494M0 461 178 526M0 600 178 424"/>
<path d="M0 570 178 553M0 523 178 504M0 470 178 473M0 539 178 500M0 465 178 494M0 455 178 452M0 504 178 511M0 503 178 485M0 540 178 532M0 542 178 550M0 544 178 536M0 388 178 401M0 544 178 540M0 449 178 454M0 509 178 477M0 558 178 445M0 461 178 461M0 546 178 463"/>
<path d="M0 526 178 524M0 553 178 552M0 403 178 408M0 537 178 523M0 517 178 526M0 556 178 540M0 523 178 498M0 581 178 572M0 539 178 546M0 453 178 440M0 476 178 535M0 466 178 528M0 537 178 498M0 367 178 516M0 560 178 442M0 598 178 424"/>
<path d="M0 557 178 541M0 436 178 446M0 457 178 472M0 606 178 576M0 468 178 473M0 495 178 488M0 553 178 537M0 576 178 554M0 565 178 596M0 438 178 473M0 420 178 519M0 443 178 508M0 486 178 454M0 484 178 480"/>
<path d="M0 463 178 487M0 465 178 447M0 577 178 570M0 514 178 524M0 506 178 518M0 501 178 483M0 506 178 484M0 524 178 510M0 553 178 562M0 492 178 530M0 456 178 528M0 495 178 515M0 515 178 500M0 522 178 471M0 459 178 494M0 551 178 487M0 599 178 495M0 479 178 507M0 493 178 506"/>
<path d="M0 536 178 526M0 467 178 471M0 622 178 605M0 475 178 467M0 502 178 498M0 527 178 503M0 524 178 511M0 525 178 529M0 453 178 454M0 546 178 561M0 442 178 447M0 509 178 487M0 567 178 555M0 535 178 533M0 510 178 531M0 524 178 496M0 480 178 465M0 492 178 408"/>
<path d="M0 573 178 593M0 495 178 478M0 572 178 559M0 444 178 466M0 570 178 555M0 506 178 497M0 534 178 521M0 492 178 473M0 425 178 430M0 471 178 472M0 512 178 504M0 565 178 578M0 495 178 474M0 520 178 511M0 518 178 513M0 470 178 495M0 515 178 493M0 476 178 469M0 473 178 516M0 343 178 527M0 475 178 449"/>
<path d="M0 570 178 573M0 494 178 510M0 566 178 547M0 527 178 531M0 492 178 489M0 460 178 459M0 553 178 578M0 487 178 482M0 492 178 471M0 487 178 497M0 555 178 553M0 572 178 566M0 505 178 487M0 433 178 563M0 585 178 453M0 540 178 514M0 440 178 543M0 516 178 466"/>
<path d="M0 528 178 508M0 532 178 535M0 517 178 512M0 481 178 494M0 429 178 433M0 527 178 509M0 515 178 450M0 479 178 452M0 502 178 493M0 552 178 484M0 506 178 531"/>
<path d="M0 528 178 540M0 480 178 475M0 525 178 540M0 446 178 458M0 513 178 528M0 535 178 538M0 515 178 510M0 545 178 533M0 432 178 440M0 532 178 519M0 495 178 478M0 525 178 531M0 471 178 482M0 385 178 551M0 505 178 465M0 517 178 476M0 434 178 566M0 432 178 564M0 430 178 544"/>
<path d="M0 491 178 492M0 537 178 534M0 555 178 548M0 484 178 494M0 565 178 581M0 509 178 488M0 543 178 527M0 506 178 526M0 552 178 534M0 468 178 487M0 450 178 560M0 515 178 437M0 538 178 483M0 565 178 463M0 442 178 559"/>
<path d="M0 528 178 531M0 562 178 582M0 552 178 526M0 465 178 474M0 498 178 505M0 572 178 593M0 568 178 548M0 496 178 502M0 460 178 480M0 486 178 476M0 605 178 584M0 597 178 568M0 477 178 479M0 507 178 514M0 482 178 516M0 446 178 497M0 515 178 484"/>
<path d="M0 494 178 487M0 503 178 486M0 516 178 524M0 471 178 448M0 536 178 534M0 482 178 474M0 497 178 490M0 550 178 521M0 531 178 539M0 543 178 529M0 542 178 528M0 518 178 529M0 551 178 536M0 531 178 536M0 531 178 465M0 563 178 468M0 497 178 489M0 501 178 479M0 482 178 488M0 432 178 551M0 413 178 529M0 507 178 450M0 462 178 479"/>
<path d="M0 515 178 507M0 474 178 486M0 581 178 582M0 592 178 582M0 478 178 471M0 563 178 572M0 505 178 499M0 491 178 467M0 573 178 567M0 595 178 576M0 497 178 471M0 539 178 523M0 528 178 508M0 567 178 565M0 513 178 494M0 520 178 503M0 468 178 502M0 490 178 445M0 480 178 488M0 534 178 492M0 517 178 470"/>
<path d="M0 600 178 591M0 511 178 490M0 550 178 531M0 495 178 488M0 558 178 566M0 478 178 475M0 538 178 531M0 505 178 518M0 523 178 515M0 548 178 542M0 584 178 555M0 552 178 574M0 448 178 464M0 393 178 423M0 533 178 534M0 527 178 465M0 474 178 507M0 556 178 504M0 390 178 567M0 500 178 524M0 557 178 488"/>
<path d="M0 563 178 576M0 538 178 523M0 502 178 509M0 504 178 498M0 520 178 520M0 550 178 532M0 527 178 512M0 555 178 553M0 609 178 626M0 504 178 518M0 540 178 516M0 491 178 517M0 492 178 526M0 518 178 518M0 521 178 529M0 502 178 541M0 573 178 496"/>
<path d="M0 472 178 476M0 442 178 441M0 567 178 551M0 523 178 506M0 463 178 464M0 452 178 427M0 483 178 477M0 465 178 462M0 562 178 547M0 494 178 541M0 447 178 522M0 557 178 479M0 487 178 480M0 469 178 510M0 469 178 470M0 533 178 553M0 566 178 438M0 534 178 475M0 526 178 498M0 638 178 509"/>
<path d="M0 525 178 530M0 578 178 564M0 562 178 543M0 439 178 434M0 526 178 535M0 445 178 441M0 573 178 594M0 470 178 487M0 490 178 470M0 510 178 529M0 456 178 464M0 475 178 466M0 521 178 526M0 475 178 477M0 471 178 463M0 480 178 468M0 513 178 498M0 493 178 507M0 499 178 476M0 447 178 431M0 389 178 563M0 460 178 554M0 563 178 520M0 475 178 495M0 491 178 520M0 499 178 568M0 490 178 504"/>
<path d="M0 502 178 506M0 584 178 609M0 469 178 477M0 583 178 575M0 492 178 498M0 498 178 511M0 510 178 497M0 510 178 515M0 490 178 479M0 564 178 567M0 461 178 499M0 443 178 494M0 458 178 503M0 465 178 493"/>
<path d="M0 444 178 443M0 540 178 543M0 559 178 568M0 493 178 500M0 597 178 587M0 502 178 491M0 532 178 543M0 529 178 509M0 439 178 426M0 615 178 584M0 564 178 546M0 573 178 581M0 531 178 524M0 554 178 539M0 522 178 526M0 499 178 535M0 466 178 484M0 515 178 494M0 396 178 577M0 461 178 476M0 565 178 436"/>
<path d="M0 475 178 473M0 567 178 578M0 486 178 503M0 604 178 601M0 540 178 534M0 498 178 484M0 528 178 529M0 517 178 529M0 596 178 594M0 493 178 474M0 534 178 545M0 442 178 453M0 599 178 587M0 570 178 552M0 537 178 520M0 497 178 472M0 331 178 568M0 538 178 501M0 481 178 523M0 603 178 484M0 452 178 521M0 426 178 500"/>
<path d="M0 550 178 541M0 496 178 498M0 482 178 479M0 536 178 545M0 534 178 516M0 476 178 473M0 438 178 429M0 532 178 533M0 564 178 555M0 505 178 482M0 506 178 514M0 545 178 540M0 513 178 498M0 571 178 568M0 542 178 522M0 438 178 450M0 458 178 544M0 359 178 528M0 480 178 482M0 577 178 423"/>
<path d="M0 543 178 527M0 518 178 520M0 417 178 417M0 487 178 496M0 478 178 477M0 558 178 559M0 503 178 488M0 517 178 524M0 521 178 522M0 473 178 506M0 577 178 581M0 495 178 507M0 527 178 535M0 383 178 496M0 430 178 509M0 495 178 542M0 494 178 450M0 506 178 525"/>
<path d="M0 534 178 540M0 458 178 460M0 491 178 497M0 529 178 531M0 497 178 517M0 555 178 550M0 549 178 549M0 512 178 506M0 629 178 614M0 551 178 532M0 457 178 447M0 546 178 534M0 537 178 533M0 529 178 510M0 492 178 527M0 439 178 462M0 579 178 479M0 531 178 472M0 532 178 478M0 500 178 469M0 491 178 516M0 524 178 453M0 494 178 451M0 437 178 536"/>
<path d="M0 565 178 555M0 496 178 500M0 552 178 545M0 564 178 596M0 512 178 510M0 555 178 563M0 597 178 600M0 533 178 525M0 544 178 554M0 545 178 558M0 511 178 503M0 431 178 416M0 463 178 516M0 468 178 512"/>
<path d="M0 561 178 555M0 468 178 454M0 473 178 467M0 510 178 511M0 501 178 502M0 449 178 448M0 590 178 581M0 517 178 531M0 501 178 525M0 414 178 403M0 447 178 432M0 472 178 457M0 546 178 543M0 530 178 539M0 556 178 546M0 566 178 550M0 506 178 511M0 542 178 496M0 492 178 493M0 544 178 419M0 489 178 492M0 428 178 481M0 492 178 479M0 555 178 465"/>
<path d="M0 478 178 476M0 523 178 513M0 566 178 571M0 495 178 491M0 600 178 599M0 569 178 544M0 534 178 527M0 494 178 505M0 476 178 461M0 539 178 537M0 587 178 440M0 596 178 489M0 506 178 457M0 531 178 546M0 473 178 536M0 517 178 472"/>
</g>
<linearGradient id="bdd" x1="0" y1="0" x2="0" y2="1"><stop offset="0" stop-opacity="0"/><stop offset="0.5" stop-opacity="0.150"/><stop offset="1" stop-opacity="0"/></linearGradient>
<path d="M40.3 451.6L217.9 450.0L217.9 539.2L40.3 540.8Z" fill="url(#bdd)"/>
</g>
<g clip-path="url(#ce)">
<g transform="translate(268.6 0)" stroke="#606060" stroke-opacity="0.0233" stroke-width="1.3" fill="none">
<path d="M0 453 178 459M0 449 178 454M0 454 178 453M0 461 178 451M0 452 178 460M0 424 178 476M0 559 178 553M0 564 178 553M0 567 178 554M0 565 178 559M0 556 178 564M0 594 178 548M0 564 178 560M0 589 178 538M0 574 178 555M0 572 178 549M0 587 178 551M0 557 178 556M0 581 178 547M0 555 178 557M0 580 178 558M0 582 178 695"/>
<path d="M0 455 178 450M0 452 178 456M0 457 178 453M0 476 178 425M0 474 178 423M0 443 178 464M0 414 178 479M0 425 178 479M0 427 178 481M0 451 178 459M0 436 178 474M0 489 178 409M0 455 178 381M0 564 178 550M0 574 178 560M0 557 178 555M0 555 178 557M0 558 178 558M0 575 178 552M0 562 178 556M0 549 178 579M0 568 178 557M0 571 178 585M0 576 178 539M0 547 178 588M0 572 178 585M0 553 178 561M0 578 178 585M0 563 178 558M0 555 178 561M0 626 178 497M0 586 178 583M0 559 178 553M0 584 178 572M0 592 178 526"/>
<path d="M0 446 178 456M0 456 178 455M0 455 178 453M0 449 178 462M0 448 178 459M0 457 178 447M0 488 178 410M0 436 178 473M0 398 178 489M0 404 178 470M0 358 178 425M0 562 178 554M0 565 178 549M0 567 178 551M0 565 178 553M0 565 178 552M0 558 178 568M0 545 178 565M0 567 178 568M0 568 178 564M0 548 178 579M0 555 178 564M0 549 178 565M0 582 178 543M0 566 178 547M0 620 178 602M0 571 178 646M0 550 178 570M0 607 178 527M0 615 178 561M0 558 178 574M0 548 178 647"/>
<path d="M0 461 178 452M0 456 178 453M0 455 178 450M0 472 178 439M0 465 178 448M0 431 178 461M0 456 178 444M0 446 178 456M0 438 178 458M0 432 178 466M0 445 178 464M0 455 178 445M0 464 178 435M0 446 178 449M0 439 178 453M0 400 178 447M0 456 178 422M0 559 178 553M0 565 178 560M0 567 178 546M0 560 178 558M0 560 178 556M0 567 178 552M0 557 178 555M0 565 178 551M0 530 178 610M0 572 178 560M0 589 178 545M0 574 178 540M0 559 178 553M0 561 178 566M0 556 178 573M0 552 178 566M0 565 178 564M0 572 178 553M0 620 178 498M0 613 178 584M0 584 178 605M0 593 178 661M0 559 178 578M0 606 178 572M0 647 178 612M0 523 178 597M0 595 178 595"/>
<path d="M0 455 178 449M0 460 178 453M0 439 178 464M0 430 178 469M0 455 178 456M0 493 178 372M0 416 178 468M0 452 178 457M0 438 178 464M0 395 178 404M0 459 178 452M0 408 178 401M0 406 178 496M0 434 178 438M0 561 178 552M0 556 178 557M0 558 178 566M0 563 178 550M0 562 178 562M0 563 178 554M0 585 178 559M0 557 178 562M0 589 178 554M0 566 178 554M0 545 178 581M0 570 178 556M0 545 178 567M0 563 178 581M0 554 178 565M0 551 178 575M0 555 178 597M0 584 178 541M0 529 178 582M0 591 178 623M0 545 178 596M0 611 178 573"/>
<path d="M0 452 178 455M0 453 178 428M0 454 178 437M0 432 178 477M0 482 178 431M0 364 178 482M0 476 178 430M0 434 178 471M0 412 178 468M0 401 178 483M0 434 178 402M0 451 178 458M0 567 178 548M0 558 178 554M0 575 178 539M0 593 178 537M0 558 178 574M0 561 178 560M0 570 178 551M0 574 178 541M0 575 178 563M0 559 178 571M0 572 178 556M0 561 178 561M0 569 178 550M0 548 178 567M0 561 178 564M0 586 178 540M0 594 178 546M0 551 178 561M0 545 178 566M0 656 178 504M0 563 178 561"/>
<path d="M0 452 178 446M0 429 178 472M0 405 178 472M0 411 178 483M0 409 178 434M0 442 178 449M0 561 178 552M0 559 178 553M0 564 178 548M0 559 178 558M0 560 178 556M0 563 178 549M0 560 178 554M0 561 178 558M0 574 178 549M0 563 178 549M0 566 178 552M0 576 178 560M0 608 178 534M0 571 178 549M0 573 178 549M0 570 178 576M0 576 178 538M0 554 178 558M0 551 178 565M0 561 178 553M0 565 178 557M0 562 178 580M0 555 178 560M0 562 178 561M0 556 178 560M0 587 178 555"/>
<path d="M0 453 178 459M0 455 178 456M0 449 178 454M0 452 178 457M0 452 178 458M0 462 178 438M0 436 178 460M0 431 178 455M0 474 178 426M0 435 178 469M0 435 178 474M0 450 178 437M0 408 178 497M0 447 178 431M0 563 178 550M0 551 178 561M0 558 178 555M0 563 178 549M0 565 178 548M0 567 178 554M0 553 178 563M0 551 178 570M0 533 178 601M0 572 178 567M0 568 178 545M0 570 178 564M0 543 178 578M0 583 178 549M0 570 178 548M0 587 178 658M0 538 178 593M0 528 178 592"/>
<path d="M0 451 178 454M0 462 178 452M0 448 178 447M0 444 178 459M0 451 178 459M0 482 178 433M0 468 178 442M0 451 178 457M0 462 178 449M0 455 178 457M0 450 178 456M0 479 178 421M0 409 178 444M0 456 178 456M0 371 178 462M0 414 178 475M0 451 178 429M0 556 178 562M0 577 178 560M0 562 178 552M0 561 178 551M0 560 178 553M0 564 178 554M0 560 178 556M0 563 178 563M0 568 178 555M0 577 178 557M0 552 178 567M0 570 178 571M0 576 178 548M0 555 178 579M0 562 178 563M0 563 178 549M0 596 178 524M0 581 178 550M0 552 178 580M0 559 178 564M0 618 178 568M0 607 178 628"/>
<path d="M0 451 178 457M0 453 178 456M0 453 178 457M0 456 178 455M0 456 178 454M0 469 178 436M0 483 178 416M0 429 178 477M0 469 178 437M0 434 178 465M0 426 178 461M0 451 178 448M0 447 178 398M0 466 178 422M0 427 178 459M0 442 178 468M0 569 178 552M0 562 178 550M0 560 178 555M0 559 178 556M0 562 178 555M0 560 178 554M0 558 178 554M0 558 178 558M0 567 178 546M0 587 178 581M0 551 178 576M0 565 178 565M0 561 178 556M0 569 178 550M0 570 178 557M0 566 178 562M0 568 178 549M0 552 178 560M0 584 178 550M0 563 178 563M0 744 178 594M0 651 178 615M0 531 178 611M0 576 178 568"/>
<path d="M0 447 178 462M0 451 178 454M0 452 178 458M0 457 178 452M0 426 178 480M0 458 178 453M0 459 178 449M0 420 178 460M0 462 178 426M0 567 178 546M0 558 178 555M0 561 178 551M0 561 178 552M0 558 178 554M0 561 178 555M0 577 178 568M0 585 178 552M0 556 178 572M0 563 178 551M0 553 178 571M0 568 178 547M0 597 178 543M0 556 178 563M0 570 178 552M0 562 178 551M0 560 178 558M0 570 178 565M0 626 178 531M0 559 178 557M0 565 178 568M0 580 178 547M0 563 178 577M0 552 178 571M0 556 178 564M0 586 178 550M0 550 178 563M0 616 178 614M0 591 178 554"/>
<path d="M0 457 178 450M0 464 178 449M0 470 178 431M0 438 178 452M0 419 178 448M0 452 178 460M0 466 178 445M0 447 178 463M0 458 178 455M0 473 178 431M0 457 178 450M0 431 178 478M0 452 178 439M0 567 178 547M0 561 178 551M0 562 178 554M0 560 178 552M0 566 178 560M0 574 178 551M0 575 178 543M0 574 178 540M0 576 178 552M0 552 178 568M0 584 178 558M0 549 178 583M0 583 178 536M0 550 178 562M0 629 178 530M0 611 178 552M0 611 178 598M0 559 178 616M0 550 178 590"/>
<path d="M0 452 178 460M0 457 178 455M0 452 178 450M0 491 178 418M0 445 178 461M0 464 178 449M0 460 178 434M0 476 178 434M0 477 178 416M0 494 178 396M0 447 178 447M0 424 178 468M0 561 178 556M0 559 178 553M0 566 178 552M0 563 178 550M0 570 178 560M0 559 178 554M0 574 178 557M0 558 178 564M0 599 178 527M0 578 178 546M0 563 178 558M0 601 178 572M0 587 178 546M0 615 178 598M0 587 178 586M0 620 178 612M0 554 178 574M0 558 178 570"/>
<path d="M0 451 178 462M0 446 178 466M0 455 178 451M0 460 178 450M0 454 178 448M0 443 178 466M0 428 178 465M0 451 178 462M0 473 178 441M0 473 178 436M0 455 178 447M0 453 178 460M0 454 178 458M0 457 178 406M0 440 178 471M0 410 178 442M0 559 178 556M0 562 178 550M0 561 178 553M0 562 178 555M0 557 178 555M0 564 178 551M0 568 178 555M0 559 178 556M0 571 178 558M0 565 178 551M0 601 178 588M0 575 178 547M0 564 178 555M0 586 178 534M0 553 178 558M0 553 178 562M0 568 178 561M0 565 178 550M0 552 178 559M0 572 178 549M0 590 178 557M0 546 178 566M0 558 178 578M0 596 178 583M0 496 178 615"/>
<path d="M0 451 178 453M0 456 178 455M0 456 178 450M0 449 178 461M0 451 178 455M0 398 178 480M0 429 178 460M0 426 178 463M0 452 178 461M0 434 178 474M0 441 178 462M0 425 178 478M0 388 178 491M0 559 178 554M0 561 178 555M0 563 178 549M0 556 178 557M0 561 178 562M0 562 178 558M0 580 178 553M0 570 178 545M0 590 178 545M0 557 178 558M0 571 178 542M0 561 178 551M0 563 178 560M0 593 178 567M0 597 178 538M0 582 178 564M0 541 178 569M0 571 178 554M0 569 178 552M0 595 178 625M0 554 178 580M0 656 178 574"/>
<path d="M0 452 178 455M0 455 178 455M0 442 178 457M0 458 178 453M0 459 178 447M0 399 178 481M0 447 178 464M0 470 178 442M0 465 178 445M0 362 178 517M0 445 178 463M0 454 178 456M0 428 178 367M0 558 178 555M0 561 178 561M0 559 178 555M0 567 178 550M0 570 178 549M0 558 178 575M0 570 178 550M0 573 178 556M0 548 178 569M0 586 178 541M0 550 178 574M0 575 178 541M0 583 178 541M0 574 178 539M0 564 178 553M0 599 178 535M0 574 178 549M0 567 178 569M0 597 178 568M0 596 178 612M0 565 178 558M0 575 178 631M0 597 178 617M0 616 178 577"/>
<path d="M0 452 178 454M0 453 178 457M0 456 178 456M0 466 178 448M0 445 178 453M0 454 178 453M0 444 178 462M0 433 178 440M0 464 178 445M0 420 178 475M0 400 178 489M0 455 178 449M0 387 178 447M0 566 178 550M0 561 178 551M0 565 178 551M0 563 178 551M0 580 178 566M0 565 178 551M0 535 178 618M0 541 178 571M0 607 178 560M0 554 178 572M0 567 178 550M0 560 178 557M0 548 178 567M0 569 178 567M0 572 178 577M0 549 178 567M0 597 178 634M0 582 178 609M0 601 178 559M0 580 178 567M0 603 178 560"/>
<path d="M0 451 178 458M0 426 178 466M0 524 178 361M0 436 178 457M0 432 178 463M0 422 178 470M0 454 178 458M0 455 178 455M0 477 178 433M0 467 178 437M0 438 178 443M0 445 178 454M0 468 178 435M0 456 178 428M0 408 178 415M0 565 178 558M0 563 178 551M0 561 178 552M0 574 178 553M0 563 178 558M0 571 178 559M0 562 178 568M0 564 178 548M0 571 178 546M0 568 178 545M0 548 178 562M0 563 178 556M0 542 178 585M0 571 178 575M0 564 178 558M0 640 178 611M0 562 178 568M0 600 178 656M0 612 178 545M0 609 178 557"/>
<path d="M0 452 178 452M0 456 178 454M0 451 178 449M0 466 178 446M0 469 178 420M0 450 178 459M0 433 178 476M0 468 178 438M0 456 178 443M0 533 178 349M0 567 178 547M0 555 178 560M0 559 178 564M0 557 178 559M0 559 178 556M0 559 178 558M0 559 178 555M0 558 178 555M0 565 178 551M0 553 178 566M0 555 178 562M0 572 178 548M0 568 178 545M0 597 178 541M0 603 178 541M0 564 178 556M0 566 178 552M0 643 178 609M0 532 178 602M0 506 178 608M0 608 178 597M0 557 178 597"/>
<path d="M0 450 178 447M0 450 178 456M0 452 178 460M0 463 178 447M0 475 178 417M0 428 178 482M0 458 178 443M0 474 178 425M0 455 178 454M0 452 178 440M0 452 178 448M0 434 178 462M0 427 178 451M0 451 178 459M0 382 178 472M0 562 178 551M0 563 178 555M0 560 178 552M0 568 178 545M0 559 178 574M0 543 178 571M0 551 178 566M0 556 178 561M0 553 178 558M0 553 178 565M0 561 178 553M0 598 178 545M0 584 178 537M0 564 178 549M0 570 178 549M0 553 178 570M0 560 178 554M0 586 178 567M0 569 178 546M0 570 178 548M0 572 178 548M0 588 178 533M0 534 178 576M0 608 178 606"/>
<path d="M0 446 178 450M0 454 178 456M0 455 178 457M0 458 178 455M0 503 178 397M0 491 178 421M0 457 178 455M0 438 178 469M0 449 178 460M0 456 178 421M0 566 178 553M0 562 178 553M0 557 178 556M0 562 178 552M0 564 178 549M0 559 178 554M0 564 178 563M0 545 178 568M0 596 178 533M0 546 178 568M0 562 178 565M0 595 178 546M0 572 178 551M0 566 178 554M0 560 178 556M0 571 178 562M0 601 178 529M0 586 178 559M0 585 178 590M0 675 178 586M0 582 178 607M0 535 178 618M0 582 178 603M0 514 178 596M0 588 178 614"/>
<path d="M0 446 178 457M0 454 178 456M0 455 178 457M0 465 178 446M0 441 178 465M0 447 178 425M0 415 178 476M0 366 178 527M0 568 178 562M0 561 178 553M0 566 178 552M0 563 178 552M0 567 178 550M0 566 178 550M0 565 178 549M0 562 178 552M0 567 178 549M0 553 178 573M0 575 178 554M0 557 178 582M0 562 178 553M0 548 178 568M0 560 178 558M0 573 178 572M0 608 178 543M0 624 178 594M0 554 178 565M0 553 178 575M0 522 178 614M0 581 178 655"/>
<path d="M0 461 178 451M0 456 178 457M0 444 178 456M0 460 178 447M0 429 178 448M0 436 178 466M0 439 178 462M0 452 178 459M0 450 178 450M0 450 178 454M0 433 178 477M0 464 178 446M0 410 178 497M0 407 178 411M0 565 178 550M0 561 178 563M0 567 178 551M0 558 178 557M0 565 178 551M0 563 178 549M0 560 178 554M0 559 178 564M0 564 178 551M0 561 178 552M0 561 178 558M0 576 178 547M0 548 178 581M0 559 178 552M0 588 178 537M0 575 178 559M0 540 178 570M0 581 178 545M0 566 178 552M0 555 178 556M0 597 178 558M0 580 178 547M0 585 178 543M0 583 178 542M0 592 178 558M0 607 178 552M0 556 178 593M0 558 178 571M0 570 178 579M0 607 178 550M0 636 178 589M0 582 178 587M0 596 178 643M0 596 178 566"/>
<path d="M0 459 178 454M0 449 178 446M0 448 178 459M0 456 178 457M0 450 178 451M0 439 178 448M0 448 178 464M0 428 178 462M0 440 178 470M0 465 178 445M0 457 178 456M0 432 178 417M0 387 178 458M0 374 178 425M0 403 178 465M0 563 178 551M0 565 178 550M0 563 178 554M0 554 178 557M0 563 178 549M0 565 178 557M0 571 178 552M0 588 178 554M0 579 178 542M0 544 178 572M0 582 178 577M0 544 178 591M0 541 178 569M0 540 178 579M0 569 178 557M0 577 178 555M0 561 178 555M0 557 178 556M0 562 178 565M0 562 178 577M0 589 178 630M0 561 178 578M0 541 178 570M0 532 178 592M0 582 178 549M0 600 178 593"/>
<path d="M0 460 178 452M0 455 178 456M0 421 178 485M0 466 178 442M0 443 178 456M0 466 178 446M0 436 178 471M0 475 178 439M0 439 178 465M0 454 178 449M0 421 178 426M0 438 178 416M0 431 178 437M0 465 178 437M0 563 178 551M0 548 178 562M0 568 178 557M0 571 178 544M0 617 178 545M0 585 178 539M0 559 178 574M0 551 178 580M0 565 178 552M0 547 178 567M0 590 178 558M0 578 178 561M0 578 178 540M0 540 178 578M0 570 178 552M0 585 178 543M0 550 178 567M0 539 178 589M0 605 178 640M0 599 178 598M0 548 178 589M0 603 178 612"/>
<path d="M0 453 178 457M0 459 178 451M0 457 178 447M0 451 178 450M0 452 178 453M0 457 178 455M0 459 178 450M0 452 178 457M0 456 178 456M0 449 178 461M0 452 178 460M0 441 178 468M0 453 178 458M0 421 178 482M0 444 178 448M0 469 178 428M0 437 178 466M0 461 178 401M0 470 178 431M0 566 178 553M0 556 178 558M0 564 178 555M0 556 178 556M0 562 178 551M0 573 178 557M0 580 178 554M0 556 178 555M0 549 178 603M0 565 178 558M0 554 178 571M0 541 178 592M0 571 178 548M0 577 178 546M0 588 178 553M0 575 178 541M0 557 178 573M0 572 178 552M0 555 178 579"/>
<path d="M0 487 178 429M0 443 178 453M0 455 178 458M0 481 178 432M0 415 178 492M0 454 178 456M0 458 178 455M0 434 178 461M0 440 178 451M0 447 178 465M0 408 178 463M0 416 178 456M0 403 178 456M0 433 178 452M0 569 178 548M0 563 178 553M0 570 178 561M0 559 178 556M0 558 178 559M0 567 178 548M0 551 178 565M0 553 178 558M0 571 178 546M0 583 178 549M0 594 178 535M0 567 178 546M0 550 178 587M0 557 178 567M0 550 178 562M0 559 178 556M0 545 178 570M0 575 178 601M0 553 178 616M0 555 178 587"/>
<path d="M0 450 178 455M0 453 178 458M0 449 178 460M0 448 178 446M0 462 178 436M0 445 178 429M0 419 178 485M0 468 178 445M0 426 178 477M0 433 178 454M0 456 178 436M0 434 178 431M0 381 178 441M0 567 178 551M0 561 178 553M0 562 178 552M0 566 178 558M0 564 178 551M0 568 178 558M0 557 178 556M0 563 178 549M0 558 178 557M0 566 178 558M0 550 178 582M0 565 178 568M0 557 178 555M0 580 178 547M0 576 178 575M0 567 178 557M0 544 178 574M0 564 178 551M0 565 178 553M0 560 178 559M0 593 178 548M0 563 178 558M0 595 178 541M0 564 178 549M0 589 178 598M0 548 178 575M0 615 178 591M0 552 178 565M0 562 178 562M0 541 178 600M0 567 178 588M0 560 178 558"/>
<path d="M0 458 178 454M0 449 178 463M0 452 178 455M0 445 178 461M0 449 178 446M0 449 178 463M0 435 178 467M0 455 178 458M0 450 178 462M0 478 178 428M0 458 178 455M0 470 178 442M0 392 178 427M0 434 178 434M0 564 178 552M0 559 178 554M0 563 178 554M0 565 178 554M0 560 178 556M0 555 178 557M0 589 178 527M0 567 178 550M0 543 178 580M0 575 178 552M0 562 178 551M0 580 178 552M0 571 178 565M0 536 178 582M0 591 178 525M0 603 178 529M0 575 178 579M0 583 178 555"/>
<path d="M0 454 178 456M0 463 178 449M0 481 178 435M0 478 178 429M0 454 178 455M0 429 178 478M0 502 178 402M0 454 178 452M0 440 178 465M0 383 178 480M0 438 178 369M0 450 178 391M0 471 178 408M0 471 178 390M0 426 178 470M0 568 178 548M0 566 178 550M0 563 178 549M0 536 178 598M0 552 178 560M0 598 178 548M0 550 178 573M0 579 178 564M0 583 178 551M0 560 178 558M0 599 178 551M0 559 178 555M0 592 178 540M0 548 178 572M0 587 178 531M0 548 178 576M0 592 178 569M0 533 178 592M0 546 178 586M0 560 178 618"/>
<path d="M0 457 178 452M0 439 178 439M0 437 178 453M0 467 178 445M0 475 178 429M0 463 178 441M0 452 178 458M0 449 178 460M0 430 178 480M0 469 178 445M0 445 178 458M0 455 178 454M0 439 178 458M0 464 178 441M0 459 178 453M0 560 178 555M0 565 178 549M0 560 178 553M0 561 178 557M0 556 178 557M0 560 178 554M0 555 178 576M0 553 178 587M0 553 178 571M0 570 178 552M0 587 178 571M0 574 178 542M0 540 178 588M0 575 178 540M0 584 178 559M0 571 178 566M0 621 178 539M0 574 178 556M0 571 178 552M0 556 178 567M0 572 178 554M0 576 178 550M0 570 178 551M0 558 178 569M0 553 178 570M0 551 178 563"/>
<path d="M0 452 178 450M0 461 178 452M0 450 178 457M0 453 178 456M0 416 178 488M0 458 178 442M0 445 178 464M0 463 178 450M0 467 178 446M0 426 178 476M0 496 178 389M0 464 178 449M0 379 178 494M0 454 178 444M0 430 178 462M0 385 178 512M0 435 178 432M0 562 178 550M0 562 178 557M0 559 178 559M0 561 178 554M0 567 178 551M0 562 178 557M0 559 178 552M0 565 178 547M0 544 178 571M0 550 178 571M0 592 178 539M0 549 178 564M0 572 178 550M0 566 178 548M0 561 178 560M0 560 178 559M0 561 178 551M0 547 178 570M0 554 178 579M0 576 178 555M0 560 178 560M0 567 178 550M0 594 178 531M0 598 178 548M0 532 178 618"/>
<path d="M0 450 178 461M0 453 178 451M0 449 178 451M0 446 178 458M0 445 178 461M0 453 178 453M0 458 178 454M0 492 178 392M0 436 178 468M0 472 178 439M0 452 178 451M0 467 178 447M0 470 178 439M0 453 178 459M0 433 178 460M0 439 178 471M0 465 178 430M0 412 178 445M0 419 178 406M0 460 178 426M0 367 178 503M0 424 178 412M0 559 178 552M0 563 178 552M0 566 178 554M0 601 178 565M0 560 178 552M0 549 178 572M0 566 178 568M0 595 178 536M0 591 178 536M0 597 178 569M0 562 178 551M0 562 178 555M0 568 178 544M0 568 178 562M0 589 178 537M0 568 178 544M0 573 178 544M0 569 178 558M0 560 178 616"/>
<path d="M0 452 178 457M0 442 178 463M0 463 178 441M0 439 178 471M0 428 178 466M0 461 178 446M0 467 178 444M0 443 178 451M0 558 178 556M0 559 178 553M0 564 178 549M0 560 178 556M0 568 178 554M0 568 178 554M0 563 178 551M0 563 178 552M0 556 178 557M0 572 178 563M0 554 178 558M0 572 178 547M0 554 178 572M0 565 178 563M0 552 178 568M0 555 178 561M0 579 178 546M0 572 178 546M0 569 178 544M0 589 178 546M0 560 178 558M0 559 178 559M0 575 178 618M0 551 178 602M0 601 178 594"/>
<path d="M0 456 178 452M0 452 178 452M0 468 178 441M0 438 178 472M0 456 178 414M0 487 178 405M0 455 178 444M0 449 178 461M0 460 178 452M0 436 178 470M0 432 178 474M0 452 178 436M0 398 178 489M0 488 178 418M0 434 178 391M0 420 178 473M0 566 178 547M0 567 178 551M0 562 178 554M0 563 178 549M0 573 178 555M0 564 178 555M0 566 178 552M0 550 178 575M0 566 178 551M0 572 178 557M0 542 178 569M0 532 178 581M0 580 178 547M0 576 178 538M0 580 178 565M0 568 178 553M0 549 178 570M0 581 178 542M0 552 178 562M0 563 178 553M0 544 178 597"/>
<path d="M0 451 178 461M0 456 178 447M0 451 178 456M0 450 178 455M0 462 178 450M0 450 178 447M0 431 178 479M0 477 178 415M0 473 178 437M0 407 178 475M0 366 178 501M0 437 178 460M0 450 178 447M0 471 178 443M0 432 178 472M0 474 178 438M0 448 178 461M0 460 178 451M0 392 178 513M0 514 178 362M0 450 178 459M0 563 178 560M0 570 178 546M0 565 178 550M0 579 178 569M0 553 178 602M0 573 178 562M0 578 178 554M0 568 178 558M0 584 178 567M0 565 178 562M0 579 178 550M0 533 178 614M0 600 178 540M0 600 178 591M0 559 178 587"/>
<path d="M0 444 178 455M0 459 178 453M0 447 178 464M0 449 178 447M0 421 178 468M0 444 178 468M0 428 178 471M0 454 178 458M0 421 178 404M0 443 178 451M0 430 178 388M0 452 178 455M0 567 178 559M0 570 178 555M0 563 178 557M0 565 178 548M0 561 178 558M0 575 178 553M0 566 178 573M0 555 178 558M0 553 178 586M0 577 178 566M0 553 178 559M0 560 178 552M0 592 178 562M0 571 178 588M0 558 178 554M0 543 178 568M0 568 178 549M0 581 178 552M0 533 178 585M0 551 178 610M0 541 178 589M0 538 178 690M0 537 178 592"/>
<path d="M0 449 178 451M0 445 178 452M0 448 178 462M0 457 178 454M0 444 178 462M0 455 178 451M0 444 178 462M0 455 178 450M0 512 178 368M0 452 178 454M0 435 178 470M0 455 178 433M0 406 178 461M0 561 178 551M0 568 178 561M0 562 178 551M0 547 178 564M0 540 178 569M0 545 178 584M0 598 178 529M0 579 178 536M0 564 178 554M0 570 178 556M0 558 178 556M0 544 178 570M0 613 178 537M0 552 178 560M0 592 178 618M0 595 178 625M0 593 178 574M0 579 178 613"/>
<path d="M0 451 178 456M0 460 178 451M0 454 178 439M0 453 178 451M0 453 178 458M0 444 178 468M0 466 178 438M0 470 178 439M0 455 178 455M0 443 178 464M0 451 178 451M0 455 178 451M0 435 178 472M0 512 178 399M0 473 178 409M0 409 178 451M0 432 178 460M0 557 178 555M0 561 178 553M0 562 178 552M0 565 178 563M0 566 178 561M0 562 178 550M0 576 178 540M0 567 178 551M0 558 178 568M0 558 178 559M0 562 178 552M0 559 178 566M0 579 178 549M0 570 178 545M0 572 178 542M0 560 178 575M0 529 178 601M0 627 178 525M0 562 178 556M0 573 178 627M0 622 178 604M0 559 178 565"/>
<path d="M0 452 178 459M0 455 178 450M0 440 178 470M0 445 178 460M0 453 178 445M0 470 178 443M0 468 178 440M0 459 178 450M0 458 178 442M0 429 178 471M0 559 178 553M0 565 178 556M0 562 178 554M0 564 178 554M0 563 178 551M0 567 178 547M0 583 178 565M0 574 178 546M0 566 178 556M0 575 178 542M0 579 178 545M0 549 178 575M0 577 178 541M0 571 178 561M0 571 178 543M0 546 178 567"/>
<path d="M0 438 178 416M0 390 178 500M0 442 178 468M0 443 178 459M0 451 178 450M0 452 178 452M0 490 178 422M0 445 178 460M0 478 178 427M0 493 178 366M0 430 178 444M0 400 178 401M0 564 178 556M0 569 178 553M0 564 178 550M0 563 178 550M0 564 178 548M0 569 178 564M0 566 178 554M0 563 178 563M0 580 178 542M0 554 178 562M0 567 178 565M0 565 178 547M0 558 178 577M0 553 178 559M0 581 178 540M0 542 178 570M0 534 178 601M0 575 178 547M0 576 178 567M0 567 178 548M0 570 178 544M0 560 178 558M0 563 178 555M0 573 178 553M0 600 178 652M0 595 178 530M0 639 178 590"/>
<path d="M0 454 178 456M0 456 178 456M0 449 178 460M0 415 178 491M0 482 178 418M0 448 178 453M0 468 178 445M0 388 178 486M0 450 178 459M0 478 178 429M0 469 178 445M0 401 178 360M0 457 178 383M0 447 178 439M0 482 178 403M0 565 178 551M0 563 178 557M0 560 178 555M0 563 178 561M0 562 178 559M0 558 178 556M0 564 178 549M0 569 178 565M0 564 178 549M0 574 178 549M0 560 178 562M0 572 178 542M0 614 178 531M0 568 178 547M0 569 178 548M0 551 178 563M0 551 178 561M0 678 178 593M0 629 178 567M0 559 178 591M0 562 178 555"/>
<path d="M0 453 178 452M0 458 178 451M0 448 178 453M0 456 178 454M0 444 178 462M0 458 178 440M0 464 178 446M0 452 178 453M0 436 178 469M0 436 178 474M0 453 178 426M0 443 178 468M0 467 178 439M0 473 178 438M0 471 178 426M0 452 178 446M0 482 178 415M0 432 178 365M0 471 178 390M0 400 178 485M0 567 178 548M0 559 178 554M0 557 178 555M0 561 178 559M0 544 178 571M0 562 178 564M0 606 178 637M0 553 178 562M0 553 178 560M0 571 178 563M0 558 178 560M0 603 178 546M0 545 178 569M0 520 178 593M0 574 178 615"/>
<path d="M0 452 178 451M0 451 178 451M0 436 178 472M0 402 178 483M0 401 178 488M0 441 178 463M0 432 178 479M0 437 178 456M0 452 178 460M0 446 178 464M0 427 178 467M0 474 178 433M0 498 178 409M0 477 178 435M0 435 178 466M0 444 178 416M0 477 178 422M0 405 178 491M0 561 178 553M0 563 178 551M0 566 178 565M0 563 178 554M0 570 178 549M0 557 178 559M0 561 178 573M0 581 178 538M0 565 178 548M0 560 178 552M0 576 178 540M0 585 178 558M0 546 178 566M0 637 178 587M0 617 178 538M0 580 178 571M0 594 178 535M0 522 178 603M0 615 178 563"/>
<path d="M0 450 178 451M0 454 178 459M0 453 178 456M0 468 178 438M0 458 178 454M0 453 178 445M0 435 178 447M0 464 178 446M0 438 178 465M0 392 178 501M0 450 178 460M0 467 178 441M0 476 178 436M0 436 178 456M0 429 178 462M0 477 178 417M0 375 178 452M0 563 178 550M0 563 178 552M0 560 178 555M0 568 178 553M0 561 178 559M0 564 178 549M0 562 178 550M0 557 178 555M0 563 178 552M0 559 178 557M0 566 178 557M0 545 178 569M0 560 178 564M0 558 178 594M0 568 178 547M0 563 178 552M0 587 178 568M0 572 178 548M0 557 178 567M0 582 178 546M0 560 178 557M0 573 178 542M0 625 178 566M0 637 178 551M0 620 178 569"/>
<path d="M0 452 178 457M0 456 178 455M0 458 178 454M0 450 178 460M0 467 178 446M0 459 178 452M0 439 178 461M0 429 178 479M0 460 178 443M0 439 178 447M0 462 178 439M0 431 178 476M0 480 178 422M0 439 178 460M0 562 178 565M0 565 178 550M0 562 178 557M0 563 178 551M0 548 178 565M0 571 178 544M0 563 178 571M0 567 178 556M0 551 178 567M0 571 178 542M0 586 178 532M0 573 178 550M0 567 178 546M0 570 178 549M0 558 178 565M0 556 178 573M0 566 178 582M0 529 178 629M0 557 178 598M0 633 178 573M0 632 178 577M0 578 178 605"/>
<path d="M0 456 178 450M0 455 178 454M0 452 178 458M0 445 178 466M0 467 178 443M0 373 178 513M0 457 178 447M0 432 178 430M0 448 178 453M0 448 178 464M0 496 178 410M0 357 178 466M0 392 178 399M0 502 178 383M0 402 178 438M0 557 178 556M0 562 178 553M0 567 178 555M0 562 178 554M0 559 178 553M0 571 178 547M0 566 178 552M0 573 178 562M0 574 178 549M0 586 178 570M0 594 178 566M0 555 178 602"/>
<path d="M0 458 178 453M0 446 178 451M0 458 178 454M0 425 178 461M0 420 178 477M0 459 178 433M0 411 178 487M0 438 178 465M0 466 178 392M0 559 178 554M0 558 178 556M0 570 178 549M0 559 178 556M0 563 178 553M0 562 178 557M0 565 178 552M0 554 178 558M0 590 178 578M0 559 178 558M0 562 178 570M0 567 178 547M0 565 178 561M0 542 178 572M0 556 178 582M0 558 178 554M0 558 178 562M0 565 178 559M0 549 178 577M0 555 178 564M0 558 178 556M0 563 178 554M0 562 178 560M0 592 178 544M0 558 178 598M0 557 178 563M0 565 178 547M0 563 178 574M0 657 178 510M0 568 178 645M0 588 178 672M0 597 178 565M0 620 178 580M0 578 178 580M0 553 178 571M0 565 178 566"/>
<path d="M0 457 178 451M0 452 178 455M0 451 178 457M0 457 178 455M0 460 178 451M0 437 178 472M0 448 178 457M0 486 178 413M0 393 178 484M0 503 178 390M0 461 178 452M0 467 178 435M0 433 178 472M0 458 178 437M0 470 178 441M0 454 178 457M0 440 178 406M0 484 178 412M0 564 178 554M0 562 178 550M0 568 178 548M0 559 178 556M0 562 178 550M0 568 178 550M0 558 178 556M0 561 178 555M0 547 178 571M0 624 178 540M0 584 178 536M0 581 178 536M0 561 178 552M0 557 178 555M0 568 178 544M0 567 178 551M0 605 178 627M0 597 178 640M0 597 178 556M0 588 178 529M0 615 178 569M0 596 178 575M0 596 178 594"/>
<path d="M0 441 178 463M0 453 178 458M0 397 178 482M0 408 178 424M0 388 178 508M0 416 178 440M0 474 178 430M0 439 178 401M0 458 178 419M0 495 178 415M0 565 178 552M0 568 178 556M0 563 178 555M0 584 178 559M0 554 178 562M0 565 178 559M0 556 178 573M0 543 178 568M0 568 178 550M0 542 178 570M0 561 178 564M0 562 178 554M0 561 178 558M0 543 178 572M0 574 178 643M0 613 178 639M0 654 178 604M0 595 178 539"/>
<path d="M0 461 178 453M0 444 178 448M0 482 178 414M0 440 178 465M0 445 178 461M0 430 178 459M0 444 178 459M0 433 178 441M0 568 178 547M0 572 178 556M0 559 178 553M0 561 178 552M0 563 178 551M0 558 178 555M0 563 178 584M0 561 178 551M0 559 178 558M0 581 178 537M0 569 178 550M0 545 178 568M0 585 178 571M0 559 178 563M0 556 178 579M0 565 178 554M0 566 178 561M0 560 178 558M0 521 178 609M0 540 178 647"/>
<path d="M0 456 178 450M0 448 178 457M0 461 178 452M0 457 178 450M0 453 178 459M0 430 178 480M0 451 178 461M0 468 178 423M0 456 178 438M0 372 178 490M0 468 178 440M0 443 178 462M0 563 178 561M0 573 178 553M0 559 178 557M0 565 178 557M0 548 178 563M0 546 178 569M0 566 178 560M0 578 178 551M0 540 178 592M0 576 178 544M0 587 178 541M0 568 178 549M0 573 178 558M0 546 178 575M0 550 178 590M0 559 178 557M0 599 178 546M0 573 178 561M0 563 178 551M0 597 178 567M0 560 178 565M0 580 178 601M0 583 178 618M0 582 178 633"/>
<path d="M0 446 178 447M0 408 178 469M0 457 178 455M0 458 178 454M0 442 178 461M0 454 178 457M0 411 178 472M0 445 178 461M0 406 178 462M0 460 178 453M0 439 178 469M0 461 178 449M0 453 178 409M0 439 178 460M0 424 178 414M0 515 178 392M0 452 178 453M0 449 178 411M0 449 178 457M0 459 178 446M0 560 178 553M0 565 178 548M0 555 178 558M0 560 178 557M0 564 178 550M0 558 178 559M0 557 178 555M0 558 178 554M0 567 178 549M0 571 178 566M0 559 178 562M0 585 178 539M0 562 178 558M0 549 178 611M0 565 178 595M0 566 178 572M0 575 178 622"/>
<path d="M0 449 178 456M0 480 178 417M0 437 178 471M0 444 178 458M0 450 178 460M0 432 178 428M0 556 178 557M0 557 178 554M0 560 178 553M0 571 178 545M0 566 178 548M0 567 178 558M0 559 178 553M0 550 178 566M0 563 178 560M0 559 178 566M0 551 178 562M0 548 178 563M0 555 178 568M0 567 178 549M0 573 178 547M0 574 178 545M0 563 178 593M0 577 178 546M0 532 178 590"/>
<path d="M0 460 178 451M0 443 178 460M0 440 178 440M0 445 178 456M0 457 178 455M0 447 178 449M0 466 178 445M0 445 178 462M0 435 178 476M0 467 178 429M0 436 178 472M0 420 178 455M0 457 178 437M0 414 178 449M0 451 178 445M0 475 178 430M0 570 178 552M0 559 178 553M0 564 178 550M0 566 178 549M0 558 178 554M0 548 178 563M0 597 178 545M0 564 178 551M0 582 178 564M0 561 178 574M0 560 178 555M0 556 178 571M0 576 178 593M0 557 178 561M0 563 178 560M0 612 178 538M0 585 178 651"/>
<path d="M0 451 178 458M0 453 178 452M0 443 178 462M0 445 178 462M0 433 178 472M0 423 178 468M0 486 178 421M0 469 178 436M0 471 178 437M0 524 178 365M0 464 178 439M0 472 178 442M0 476 178 426M0 464 178 449M0 446 178 454M0 431 178 456M0 365 178 325M0 414 178 447M0 374 178 526M0 440 178 468M0 407 178 487M0 565 178 548M0 566 178 548M0 563 178 553M0 563 178 557M0 563 178 550M0 562 178 562M0 557 178 554M0 565 178 552M0 575 178 552M0 554 178 558M0 566 178 555M0 558 178 562M0 564 178 549M0 565 178 548M0 559 178 555M0 586 178 548M0 556 178 558M0 553 178 558M0 563 178 644M0 591 178 620"/>
<path d="M0 454 178 458M0 456 178 456M0 445 178 460M0 458 178 455M0 443 178 461M0 472 178 441M0 433 178 461M0 435 178 437M0 458 178 453M0 419 178 472M0 457 178 434M0 415 178 450M0 567 178 550M0 572 178 546M0 555 178 557M0 576 178 542M0 554 178 568M0 556 178 576M0 635 178 568M0 533 178 603M0 548 178 570M0 587 178 555M0 566 178 552M0 625 178 614"/>
<path d="M0 451 178 455M0 457 178 450M0 448 178 463M0 450 178 456M0 454 178 458M0 490 178 419M0 432 178 471M0 418 178 482M0 407 178 439M0 453 178 460M0 465 178 441M0 463 178 450M0 449 178 461M0 447 178 452M0 456 178 457M0 454 178 439M0 413 178 463M0 499 178 415M0 375 178 468M0 404 178 484M0 453 178 411M0 504 178 373M0 564 178 556M0 565 178 550M0 559 178 557M0 560 178 552M0 561 178 553M0 571 178 551M0 578 178 543M0 556 178 560M0 535 178 598M0 574 178 552M0 563 178 564M0 572 178 552M0 580 178 576M0 565 178 574M0 590 178 559M0 581 178 542M0 588 178 589M0 569 178 545M0 554 178 568M0 580 178 548M0 572 178 550M0 547 178 565M0 604 178 622M0 564 178 570M0 615 178 580M0 600 178 553M0 538 178 574"/>
<path d="M0 445 178 463M0 449 178 451M0 460 178 453M0 456 178 456M0 458 178 452M0 466 178 446M0 463 178 445M0 380 178 500M0 443 178 459M0 483 178 428M0 426 178 457M0 370 178 460M0 437 178 398M0 396 178 421M0 408 178 479M0 454 178 430M0 563 178 551M0 564 178 555M0 558 178 559M0 555 178 557M0 561 178 551M0 562 178 550M0 556 178 575M0 579 178 540M0 560 178 565M0 573 178 544M0 594 178 562M0 538 178 578M0 554 178 568M0 552 178 575M0 596 178 551M0 597 178 643M0 521 178 590M0 608 178 514M0 590 178 595M0 594 178 563"/>
<path d="M0 450 178 463M0 442 178 455M0 456 178 456M0 464 178 445M0 439 178 471M0 445 178 448M0 428 178 469M0 448 178 417M0 470 178 444M0 439 178 466M0 412 178 494M0 363 178 508M0 412 178 477M0 383 178 472M0 427 178 477M0 561 178 559M0 560 178 557M0 563 178 556M0 560 178 555M0 573 178 558M0 559 178 554M0 561 178 557M0 563 178 553M0 565 178 554M0 561 178 555M0 556 178 556M0 574 178 555M0 576 178 544M0 580 178 537M0 558 178 555M0 569 178 570M0 569 178 554M0 581 178 541M0 559 178 563M0 591 178 533M0 567 178 557M0 553 178 577M0 573 178 545M0 572 178 556M0 568 178 551M0 599 178 544M0 571 178 620M0 549 178 570M0 651 178 532M0 539 178 579M0 533 178 632"/>
<path d="M0 457 178 450M0 447 178 436M0 457 178 455M0 452 178 455M0 460 178 453M0 462 178 450M0 468 178 440M0 501 178 389M0 460 178 452M0 453 178 456M0 564 178 549M0 562 178 551M0 564 178 551M0 560 178 557M0 557 178 555M0 558 178 559M0 568 178 551M0 560 178 555M0 558 178 554M0 548 178 563M0 560 178 562M0 552 178 561M0 561 178 560M0 555 178 562M0 589 178 556M0 548 178 563M0 559 178 555M0 580 178 590M0 570 178 656M0 587 178 640M0 595 178 574"/>
<path d="M0 452 178 453M0 454 178 454M0 450 178 457M0 460 178 453M0 453 178 455M0 468 178 436M0 448 178 458M0 431 178 477M0 459 178 448M0 443 178 442M0 337 178 463M0 454 178 387M0 558 178 554M0 564 178 549M0 566 178 549M0 577 178 547M0 559 178 558M0 541 178 579M0 585 178 539M0 568 178 584M0 598 178 603M0 589 178 534M0 521 178 589M0 621 178 602M0 614 178 558"/>
<path d="M0 449 178 462M0 447 178 459M0 454 178 454M0 453 178 458M0 464 178 450M0 456 178 452M0 467 178 428M0 456 178 449M0 475 178 438M0 453 178 435M0 455 178 438M0 386 178 402M0 381 178 495M0 429 178 455M0 567 178 547M0 563 178 552M0 568 178 559M0 568 178 552M0 563 178 549M0 566 178 558M0 600 178 533M0 588 178 557M0 549 178 587M0 575 178 573M0 538 178 581M0 583 178 552M0 564 178 553M0 555 178 556M0 566 178 565M0 560 178 558M0 611 178 671M0 602 178 603M0 520 178 610M0 681 178 587M0 605 178 567M0 606 178 593"/>
<path d="M0 451 178 461M0 446 178 464M0 428 178 466M0 465 178 442M0 441 178 463M0 437 178 456M0 442 178 457M0 387 178 394M0 420 178 453M0 562 178 556M0 560 178 555M0 542 178 586M0 568 178 573M0 563 178 570M0 553 178 564M0 564 178 559M0 555 178 570M0 574 178 540M0 553 178 575M0 547 178 575M0 546 178 565M0 587 178 567M0 549 178 565M0 583 178 663M0 583 178 573M0 601 178 566M0 561 178 596"/>
<path d="M0 445 178 462M0 456 178 457M0 457 178 450M0 439 178 456M0 442 178 437M0 399 178 468M0 438 178 468M0 446 178 460M0 460 178 454M0 445 178 465M0 444 178 453M0 459 178 448M0 425 178 480M0 562 178 551M0 555 178 557M0 561 178 554M0 554 178 558M0 562 178 550M0 563 178 549M0 560 178 557M0 551 178 563M0 549 178 573M0 564 178 551M0 551 178 579M0 561 178 558M0 567 178 569M0 578 178 569M0 636 178 607M0 523 178 596M0 584 178 598M0 564 178 584M0 631 178 522M0 545 178 586"/>
<path d="M0 463 178 448M0 431 178 475M0 437 178 471M0 447 178 445M0 451 178 449M0 434 178 459M0 447 178 442M0 465 178 439M0 473 178 398M0 456 178 454M0 466 178 447M0 433 178 472M0 432 178 430M0 339 178 478M0 559 178 555M0 564 178 554M0 563 178 550M0 557 178 555M0 572 178 560M0 551 178 560M0 581 178 577M0 597 178 561M0 574 178 553M0 570 178 546M0 569 178 564M0 596 178 697M0 556 178 591"/>
<path d="M0 456 178 455M0 455 178 449M0 443 178 463M0 414 178 439M0 463 178 450M0 449 178 455M0 452 178 460M0 468 178 446M0 444 178 436M0 465 178 446M0 448 178 455M0 439 178 468M0 451 178 449M0 377 178 389M0 424 178 479M0 360 178 449M0 436 178 448M0 562 178 550M0 561 178 555M0 567 178 547M0 557 178 557M0 560 178 552M0 621 178 531M0 560 178 557M0 574 178 555M0 575 178 553M0 577 178 566M0 552 178 561M0 580 178 538M0 550 178 563M0 536 178 598M0 563 178 558M0 518 178 660"/>
<path d="M0 448 178 450M0 455 178 457M0 433 178 473M0 442 178 468M0 401 178 490M0 505 178 382M0 453 178 441M0 402 178 489M0 435 178 470M0 443 178 463M0 457 178 389M0 377 178 464M0 563 178 557M0 562 178 554M0 562 178 555M0 558 178 557M0 556 178 557M0 563 178 555M0 579 178 564M0 564 178 559M0 559 178 553M0 561 178 552M0 574 178 540M0 569 178 550M0 555 178 596M0 567 178 551M0 557 178 564M0 558 178 559M0 555 178 573M0 629 178 546M0 559 178 622M0 506 178 606M0 586 178 620M0 581 178 550"/>
<path d="M0 449 178 463M0 456 178 457M0 458 178 453M0 449 178 452M0 483 178 407M0 423 178 471M0 416 178 474M0 469 178 407M0 456 178 454M0 448 178 461M0 444 178 459M0 416 178 482M0 382 178 474M0 396 178 472M0 444 178 427M0 565 178 550M0 552 178 559M0 571 178 544M0 562 178 553M0 559 178 555M0 564 178 550M0 567 178 564M0 539 178 594M0 563 178 552M0 570 178 547M0 583 178 632"/>
<path d="M0 462 178 451M0 455 178 457M0 400 178 498M0 439 178 471M0 467 178 441M0 452 178 436M0 447 178 452M0 428 178 462M0 433 178 465M0 380 178 497M0 450 178 461M0 463 178 448M0 431 178 472M0 395 178 370M0 449 178 410M0 488 178 425M0 563 178 550M0 566 178 546M0 571 178 550M0 553 178 559M0 560 178 554M0 571 178 585M0 569 178 565M0 584 178 572M0 566 178 547M0 577 178 543M0 566 178 584M0 611 178 611"/>
<path d="M0 451 178 453M0 452 178 455M0 457 178 448M0 438 178 439M0 451 178 456M0 441 178 467M0 467 178 433M0 432 178 472M0 447 178 463M0 469 178 445M0 440 178 468M0 476 178 417M0 457 178 437M0 436 178 454M0 443 178 390M0 436 178 460M0 471 178 432M0 457 178 420M0 564 178 552M0 563 178 550M0 560 178 554M0 557 178 556M0 561 178 551M0 562 178 552M0 558 178 553M0 571 178 571M0 574 178 562M0 547 178 577M0 573 178 581M0 571 178 542M0 554 178 564"/>
<path d="M0 448 178 453M0 458 178 448M0 455 178 449M0 450 178 459M0 411 178 475M0 441 178 469M0 460 178 451M0 440 178 437M0 397 178 495M0 449 178 463M0 449 178 458M0 357 178 370M0 566 178 555M0 565 178 547M0 559 178 553M0 559 178 554M0 565 178 548M0 569 178 550M0 570 178 553M0 547 178 564M0 584 178 554M0 571 178 545M0 564 178 555M0 564 178 558M0 566 178 554M0 590 178 541M0 568 178 546M0 566 178 554M0 632 178 565M0 588 178 670M0 544 178 607M0 577 178 581M0 568 178 591M0 629 178 582M0 620 178 585M0 582 178 632M0 608 178 657"/>
<path d="M0 456 178 457M0 457 178 452M0 450 178 462M0 456 178 453M0 446 178 456M0 460 178 453M0 446 178 461M0 472 178 437M0 457 178 451M0 446 178 448M0 451 178 459M0 462 178 437M0 460 178 438M0 415 178 480M0 462 178 439M0 461 178 441M0 431 178 454M0 444 178 463M0 458 178 441M0 447 178 456M0 420 178 462M0 555 178 557M0 565 178 555M0 560 178 554M0 565 178 552M0 574 178 565M0 566 178 559M0 565 178 548M0 562 178 552M0 570 178 569M0 540 178 571M0 569 178 570M0 590 178 563M0 568 178 548M0 600 178 545M0 575 178 548M0 557 178 554M0 570 178 550M0 572 178 585M0 525 178 602M0 501 178 605M0 597 178 609M0 522 178 606"/>
<path d="M0 450 178 453M0 447 178 461M0 451 178 445M0 443 178 449M0 383 178 473M0 435 178 468M0 449 178 448M0 505 178 408M0 425 178 467M0 563 178 549M0 568 178 550M0 569 178 555M0 565 178 548M0 567 178 547M0 578 178 550M0 566 178 559M0 544 178 573M0 557 178 572M0 590 178 527M0 559 178 553M0 559 178 564M0 564 178 552M0 570 178 553M0 554 178 580M0 562 178 551M0 567 178 593M0 535 178 586M0 556 178 557M0 575 178 580M0 617 178 581M0 640 178 575M0 551 178 571M0 548 178 590M0 618 178 581M0 571 178 577M0 588 178 628M0 538 178 579"/>
<path d="M0 444 178 458M0 447 178 459M0 453 178 454M0 463 178 445M0 456 178 456M0 436 178 464M0 452 178 423M0 424 178 471M0 423 178 460M0 445 178 453M0 527 178 350M0 488 178 419M0 471 178 426M0 478 178 432M0 438 178 416M0 476 178 417M0 509 178 404M0 423 178 445M0 437 178 454M0 565 178 548M0 562 178 556M0 566 178 548M0 563 178 551M0 564 178 551M0 558 178 561M0 561 178 553M0 542 178 569M0 576 178 542M0 589 178 549M0 545 178 569M0 551 178 561M0 570 178 549M0 576 178 546M0 566 178 561M0 557 178 562M0 572 178 548M0 553 178 562M0 554 178 616"/>
<path d="M0 451 178 461M0 471 178 442M0 412 178 473M0 468 178 442M0 471 178 436M0 475 178 437M0 471 178 442M0 454 178 448M0 455 178 444M0 456 178 417M0 440 178 417M0 477 178 429M0 453 178 454M0 561 178 552M0 566 178 552M0 536 178 575M0 609 178 548M0 610 178 538M0 581 178 546M0 568 178 572M0 577 178 557M0 564 178 609M0 553 178 562M0 542 178 572M0 565 178 556M0 565 178 549M0 639 178 516M0 560 178 620"/>
<path d="M0 459 178 453M0 450 178 459M0 458 178 452M0 458 178 455M0 452 178 458M0 476 178 435M0 434 178 468M0 404 178 480M0 482 178 429M0 461 178 452M0 458 178 449M0 466 178 440M0 464 178 445M0 465 178 446M0 464 178 436M0 445 178 436M0 467 178 445M0 420 178 439M0 408 178 499M0 524 178 386M0 441 178 444M0 447 178 454M0 567 178 552M0 560 178 552M0 567 178 549M0 562 178 556M0 571 178 562M0 561 178 552M0 556 178 557M0 572 178 547M0 563 178 554M0 573 178 549M0 554 178 558M0 562 178 562M0 581 178 548M0 597 178 546M0 579 178 564M0 561 178 560M0 577 178 539M0 568 178 552M0 631 178 567M0 615 178 551M0 613 178 706M0 570 178 620M0 566 178 637M0 565 178 603M0 586 178 557M0 641 178 591"/>
<path d="M0 459 178 453M0 442 178 450M0 447 178 460M0 433 178 457M0 460 178 450M0 438 178 407M0 438 178 469M0 447 178 449M0 451 178 454M0 456 178 450M0 470 178 424M0 563 178 552M0 568 178 557M0 553 178 558M0 560 178 555M0 570 178 547M0 565 178 589M0 563 178 558M0 565 178 559M0 584 178 539M0 562 178 553M0 573 178 551M0 539 178 579M0 573 178 568M0 565 178 554M0 595 178 541M0 568 178 570M0 542 178 573M0 616 178 603M0 574 178 565M0 535 178 585"/>
<path d="M0 453 178 450M0 454 178 459M0 450 178 458M0 452 178 460M0 459 178 454M0 472 178 436M0 519 178 373M0 474 178 441M0 332 178 512M0 466 178 440M0 433 178 475M0 442 178 442M0 562 178 552M0 569 178 567M0 563 178 556M0 559 178 553M0 580 178 547M0 566 178 559M0 581 178 559M0 567 178 547M0 578 178 575M0 562 178 551M0 547 178 564M0 543 178 568M0 612 178 575M0 575 178 539M0 568 178 545M0 574 178 567M0 600 178 619M0 651 178 608M0 605 178 626M0 554 178 620M0 541 178 575"/>
<path d="M0 447 178 463M0 438 178 441M0 445 178 454M0 453 178 457M0 466 178 444M0 460 178 440M0 400 178 488M0 419 178 474M0 468 178 437M0 401 178 493M0 452 178 461M0 400 178 437M0 565 178 548M0 555 178 557M0 562 178 550M0 562 178 562M0 565 178 555M0 555 178 559M0 567 178 549M0 562 178 549M0 603 178 523M0 577 178 540M0 567 178 560M0 577 178 538M0 563 178 551M0 559 178 553M0 565 178 579M0 556 178 569M0 564 178 576M0 612 178 519"/>
<path d="M0 454 178 452M0 444 178 456M0 448 178 459M0 465 178 398M0 414 178 473M0 440 178 469M0 467 178 441M0 458 178 449M0 460 178 451M0 415 178 483M0 408 178 437M0 565 178 555M0 563 178 549M0 567 178 555M0 562 178 554M0 554 178 559M0 563 178 555M0 566 178 547M0 551 178 567M0 563 178 550M0 559 178 555M0 568 178 547M0 540 178 571M0 583 178 596M0 552 178 562M0 579 178 561M0 554 178 586M0 575 178 593M0 604 178 616M0 589 178 537M0 515 178 607"/>
<path d="M0 460 178 447M0 457 178 453M0 452 178 460M0 464 178 420M0 456 178 456M0 438 178 466M0 449 178 463M0 442 178 447M0 442 178 436M0 453 178 453M0 479 178 411M0 443 178 458M0 483 178 409M0 522 178 390M0 451 178 446M0 368 178 413M0 447 178 437M0 410 178 498M0 482 178 419M0 562 178 555M0 567 178 550M0 563 178 553M0 563 178 553M0 553 178 565M0 563 178 555M0 567 178 557M0 553 178 576M0 561 178 551M0 539 178 577M0 549 178 567M0 568 178 546M0 557 178 587M0 583 178 586M0 564 178 558M0 575 178 569M0 578 178 610M0 561 178 572M0 579 178 553M0 584 178 556M0 563 178 579M0 575 178 597"/>
<path d="M0 450 178 457M0 462 178 450M0 443 178 466M0 440 178 457M0 488 178 417M0 437 178 465M0 441 178 469M0 459 178 448M0 459 178 445M0 446 178 451M0 438 178 472M0 432 178 465M0 480 178 420M0 489 178 417M0 488 178 423M0 553 178 562M0 562 178 557M0 562 178 550M0 563 178 549M0 562 178 552M0 557 178 557M0 558 178 556M0 576 178 547M0 550 178 578M0 585 178 534M0 570 178 603M0 546 178 594M0 608 178 566M0 609 178 605M0 624 178 602"/>
<path d="M0 457 178 452M0 452 178 458M0 451 178 457M0 451 178 456M0 434 178 475M0 431 178 463M0 425 178 469M0 464 178 446M0 467 178 442M0 475 178 432M0 447 178 463M0 449 178 462M0 428 178 461M0 391 178 492M0 529 178 352M0 467 178 441M0 566 178 556M0 559 178 553M0 564 178 548M0 563 178 558M0 561 178 553M0 580 178 550M0 611 178 529M0 570 178 553M0 575 178 542M0 554 178 622M0 553 178 583M0 571 178 548M0 587 178 580M0 553 178 559M0 538 178 572M0 618 178 524M0 552 178 569M0 593 178 536M0 574 178 630M0 591 178 546M0 544 178 588M0 605 178 629M0 624 178 556M0 597 178 615"/>
<path d="M0 461 178 443M0 433 178 474M0 448 178 463M0 466 178 440M0 456 178 451M0 467 178 445M0 483 178 424M0 504 178 411M0 460 178 440M0 563 178 551M0 570 178 559M0 561 178 554M0 561 178 553M0 570 178 559M0 563 178 556M0 541 178 581M0 594 178 555M0 562 178 554M0 582 178 548M0 571 178 546M0 562 178 553M0 559 178 566M0 559 178 578M0 570 178 546M0 575 178 563M0 572 178 542M0 571 178 558M0 563 178 550M0 613 178 615M0 566 178 607M0 528 178 584M0 593 178 601"/>
<path d="M0 456 178 456M0 455 178 457M0 460 178 449M0 457 178 450M0 447 178 457M0 455 178 450M0 454 178 456M0 449 178 454M0 453 178 454M0 477 178 435M0 481 178 397M0 560 178 554M0 577 178 566M0 566 178 550M0 562 178 553M0 562 178 563M0 565 178 555M0 543 178 569M0 555 178 560M0 557 178 564M0 552 178 559M0 567 178 575M0 586 178 538M0 579 178 558M0 543 178 569M0 559 178 562M0 550 178 561M0 550 178 561M0 602 178 576M0 589 178 528"/>
<path d="M0 457 178 454M0 450 178 453M0 455 178 453M0 455 178 454M0 435 178 474M0 447 178 464M0 426 178 477M0 437 178 467M0 451 178 457M0 453 178 452M0 497 178 416M0 426 178 387M0 482 178 429M0 407 178 460M0 331 178 537M0 552 178 559M0 560 178 556M0 556 178 555M0 574 178 560M0 558 178 554M0 567 178 557M0 536 178 579M0 567 178 554M0 551 178 565M0 580 178 545M0 582 178 561M0 577 178 587M0 590 178 545M0 568 178 557M0 566 178 548M0 566 178 565M0 568 178 549M0 541 178 575M0 594 178 633M0 603 178 639"/>
<path d="M0 458 178 454M0 485 178 425M0 449 178 461M0 466 178 443M0 446 178 460M0 459 178 448M0 441 178 469M0 425 178 422M0 427 178 387M0 563 178 555M0 557 178 555M0 561 178 556M0 559 178 554M0 561 178 552M0 603 178 542M0 585 178 550M0 543 178 573M0 543 178 610M0 554 178 558M0 568 178 560M0 556 178 558M0 546 178 598M0 566 178 547M0 667 178 545M0 623 178 535M0 622 178 576"/>
<path d="M0 445 178 453M0 452 178 454M0 454 178 458M0 442 178 463M0 438 178 458M0 480 178 401M0 466 178 446M0 451 178 455M0 443 178 459M0 480 178 416M0 452 178 457M0 446 178 463M0 408 178 492M0 427 178 414M0 425 178 412M0 456 178 433M0 568 178 566M0 560 178 555M0 562 178 553M0 565 178 552M0 565 178 551M0 565 178 552M0 554 178 558M0 562 178 552M0 592 178 544M0 570 178 543M0 572 178 571M0 553 178 571M0 572 178 563M0 573 178 548M0 564 178 575M0 531 178 594"/>
<path d="M0 450 178 456M0 456 178 454M0 452 178 447M0 462 178 447M0 451 178 456M0 391 178 502M0 439 178 472M0 439 178 453M0 459 178 448M0 468 178 444M0 472 178 425M0 452 178 457M0 460 178 446M0 427 178 472M0 410 178 380M0 444 178 466M0 409 178 492M0 559 178 554M0 571 178 545M0 564 178 548M0 575 178 563M0 572 178 550M0 586 178 585M0 596 178 540M0 569 178 544M0 546 178 564M0 580 178 548M0 570 178 552M0 566 178 552M0 547 178 581M0 566 178 557M0 579 178 536M0 558 178 556M0 582 178 533M0 589 178 547M0 674 178 614"/>
</g>
<linearGradient id="he0" x1="0" y1="1" x2="0" y2="0"><stop offset="0" stop-color="#606060"/><stop offset="0.5" stop-color="#606060" stop-opacity="0.300"/><stop offset="1" stop-color="#606060" stop-opacity="0"/></linearGradient>
<path d="M268.6 455.2L446.2 455.2L446.2 446.6L268.6 446.6Z" fill="url(#he0)"/>
<linearGradient id="he1" x1="0" y1="0" x2="0" y2="1"><stop offset="0" stop-color="#606060"/><stop offset="0.5" stop-color="#606060" stop-opacity="0.300"/><stop offset="1" stop-color="#606060" stop-opacity="0"/></linearGradient>
<path d="M268.6 559.6L446.2 554.6L446.2 575.6L268.6 580.6Z" fill="url(#he1)"/>
<path d="M268.6 454.6L446.2 454.6L446.2 555.2L268.6 560.2Z" fill="#606060"/>
</g>
<g clip-path="url(#cf)">
<g transform="translate(500.4 0)" stroke="#262626" stroke-opacity="0.0187" stroke-width="1.3" fill="none">
<path d="M0 476 178 479M0 480 178 477M0 482 178 473M0 474 178 478M0 481 178 479M0 475 178 476M0 473 178 467M0 463 178 461M0 473 178 470M0 461 178 456M0 475 178 483M0 479 178 480M0 472 178 469M0 472 178 470M0 478 178 476M0 484 178 474M0 484 178 475M0 482 178 473M0 469 178 469M0 479 178 479M0 473 178 484M0 474 178 472M0 482 178 476M0 475 178 470M0 485 178 473M0 493 178 456M0 499 178 415M0 461 178 437M0 480 178 455M0 447 178 507M0 538 178 530M0 536 178 534M0 534 178 536M0 536 178 540M0 542 178 559M0 514 178 605M0 576 178 538M0 540 178 542M0 536 178 543M0 534 178 540M0 535 178 536M0 534 178 537M0 523 178 567M0 539 178 540M0 544 178 567M0 532 178 540M0 533 178 540M0 517 178 601M0 527 178 590M0 554 178 528M0 532 178 539M0 592 178 586"/>
<path d="M0 476 178 483M0 478 178 477M0 480 178 473M0 474 178 468M0 481 178 472M0 476 178 478M0 476 178 480M0 464 178 461M0 475 178 477M0 483 178 477M0 478 178 470M0 478 178 472M0 450 178 450M0 471 178 474M0 477 178 472M0 483 178 473M0 484 178 472M0 477 178 484M0 443 178 524M0 482 178 460M0 409 178 496M0 474 178 454M0 498 178 414M0 447 178 473M0 504 178 428M0 473 178 480M0 535 178 538M0 534 178 542M0 537 178 533M0 536 178 539M0 539 178 535M0 533 178 543M0 534 178 540M0 535 178 537M0 534 178 558M0 529 178 541M0 538 178 538M0 529 178 542M0 532 178 579M0 521 178 553M0 550 178 530M0 537 178 547M0 536 178 539M0 533 178 542M0 532 178 541M0 546 178 546M0 579 178 513M0 530 178 542M0 530 178 577"/>
<path d="M0 477 178 484M0 480 178 477M0 484 178 474M0 476 178 479M0 476 178 482M0 484 178 475M0 450 178 417M0 471 178 474M0 475 178 470M0 465 178 462M0 478 178 475M0 475 178 470M0 473 178 472M0 463 178 498M0 482 178 460M0 540 178 535M0 533 178 536M0 545 178 546M0 538 178 538M0 555 178 565M0 531 178 557M0 534 178 541M0 537 178 549M0 568 178 562M0 531 178 563M0 529 178 545M0 536 178 540M0 536 178 553M0 572 178 514M0 556 178 547M0 550 178 545M0 554 178 541M0 587 178 487M0 613 178 510M0 535 178 544M0 555 178 533M0 534 178 547M0 532 178 538M0 533 178 540M0 504 178 612"/>
<path d="M0 477 178 479M0 478 178 479M0 483 178 475M0 467 178 464M0 474 178 468M0 475 178 470M0 467 178 464M0 429 178 452M0 466 178 464M0 463 178 460M0 484 178 475M0 476 178 471M0 472 178 480M0 489 178 459M0 456 178 506M0 479 178 435M0 480 178 444M0 531 178 550M0 532 178 541M0 534 178 538M0 535 178 544M0 535 178 537M0 535 178 540M0 534 178 538M0 540 178 541M0 531 178 551M0 564 178 556M0 515 178 617M0 531 178 551M0 534 178 539M0 534 178 536M0 535 178 540M0 566 178 544M0 534 178 540M0 521 178 574M0 538 178 606"/>
<path d="M0 478 178 476M0 466 178 463M0 483 178 475M0 473 178 480M0 476 178 479M0 467 178 495M0 474 178 480M0 474 178 478M0 462 178 460M0 467 178 466M0 478 178 482M0 480 178 467M0 458 178 456M0 473 178 468M0 478 178 477M0 479 178 472M0 466 178 464M0 471 178 488M0 482 178 477M0 477 178 470M0 474 178 472M0 470 178 474M0 478 178 481M0 480 178 481M0 481 178 476M0 486 178 434M0 496 178 458M0 480 178 478M0 475 178 480M0 532 178 540M0 531 178 541M0 534 178 535M0 562 178 531M0 531 178 539M0 535 178 544M0 550 178 557M0 535 178 541M0 533 178 539M0 536 178 531M0 586 178 501M0 537 178 538M0 636 178 507M0 531 178 542M0 535 178 558M0 542 178 534M0 534 178 542M0 534 178 549M0 546 178 533M0 521 178 574M0 531 178 542"/>
<path d="M0 483 178 474M0 481 178 478M0 470 178 478M0 479 178 475M0 482 178 476M0 473 178 480M0 472 178 464M0 462 178 463M0 479 178 481M0 480 178 478M0 471 178 467M0 472 178 480M0 471 178 466M0 471 178 466M0 481 178 473M0 470 178 465M0 479 178 480M0 488 178 469M0 474 178 476M0 477 178 471M0 477 178 467M0 469 178 471M0 473 178 477M0 470 178 465M0 465 178 463M0 465 178 462M0 486 178 470M0 466 178 463M0 466 178 497M0 494 178 450M0 483 178 471M0 453 178 435M0 419 178 413M0 535 178 542M0 532 178 538M0 538 178 536M0 538 178 536M0 533 178 536M0 532 178 555M0 539 178 528M0 533 178 545M0 534 178 545M0 538 178 571M0 548 178 535M0 532 178 544M0 534 178 546M0 578 178 543M0 535 178 560M0 571 178 546M0 532 178 540M0 537 178 541M0 530 178 542M0 586 178 510M0 559 178 526M0 458 178 691M0 502 178 611"/>
<path d="M0 479 178 479M0 480 178 472M0 477 178 481M0 477 178 483M0 485 178 474M0 475 178 483M0 472 178 468M0 449 178 457M0 471 178 469M0 464 178 461M0 475 178 471M0 448 178 458M0 474 178 475M0 476 178 479M0 476 178 482M0 449 178 452M0 472 178 468M0 480 178 478M0 430 178 419M0 457 178 456M0 473 178 469M0 471 178 466M0 441 178 429M0 460 178 447M0 439 178 443M0 537 178 535M0 529 178 542M0 534 178 536M0 534 178 534M0 536 178 535M0 548 178 537M0 534 178 542M0 533 178 542M0 569 178 509M0 531 178 541M0 573 178 564M0 538 178 556M0 543 178 540M0 526 178 547M0 559 178 521M0 539 178 537M0 528 178 573M0 540 178 537M0 533 178 537M0 533 178 540M0 533 178 545M0 525 178 577M0 503 178 634M0 533 178 541M0 531 178 556M0 528 178 584M0 539 178 545M0 534 178 542M0 563 178 527"/>
<path d="M0 475 178 482M0 479 178 467M0 469 178 486M0 473 178 487M0 478 178 476M0 483 178 474M0 475 178 470M0 468 178 466M0 475 178 474M0 479 178 481M0 472 178 469M0 467 178 464M0 470 178 470M0 469 178 466M0 484 178 469M0 464 178 458M0 479 178 469M0 475 178 465M0 475 178 482M0 473 178 488M0 462 178 484M0 466 178 497M0 457 178 445M0 535 178 541M0 538 178 531M0 538 178 537M0 532 178 537M0 537 178 532M0 533 178 539M0 537 178 542M0 538 178 535M0 533 178 540M0 523 178 566M0 537 178 547M0 564 178 516M0 544 178 559M0 530 178 561M0 552 178 530M0 546 178 578M0 540 178 527M0 539 178 548M0 511 178 621M0 533 178 560M0 564 178 544M0 555 178 536M0 533 178 571M0 527 178 546M0 536 178 538M0 509 178 628M0 521 178 580M0 604 178 492M0 549 178 540M0 538 178 546M0 531 178 558"/>
<path d="M0 477 178 481M0 482 178 474M0 482 178 475M0 481 178 479M0 478 178 474M0 477 178 475M0 477 178 483M0 486 178 471M0 472 178 477M0 468 178 468M0 476 178 469M0 439 178 437M0 475 178 466M0 480 178 476M0 466 178 463M0 468 178 466M0 478 178 478M0 472 178 467M0 465 178 462M0 460 178 452M0 476 178 473M0 476 178 482M0 475 178 472M0 468 178 467M0 441 178 452M0 470 178 445M0 533 178 536M0 537 178 536M0 532 178 541M0 538 178 541M0 537 178 543M0 550 178 539M0 538 178 555M0 541 178 535M0 536 178 544M0 533 178 541M0 533 178 538M0 537 178 540M0 539 178 537M0 537 178 541M0 533 178 540M0 576 178 516M0 541 178 575M0 573 178 525M0 531 178 555"/>
<path d="M0 481 178 475M0 484 178 474M0 473 178 488M0 478 178 482M0 460 178 453M0 467 178 465M0 480 178 478M0 470 178 467M0 467 178 465M0 483 178 467M0 464 178 461M0 478 178 472M0 483 178 475M0 468 178 465M0 474 178 485M0 471 178 467M0 479 178 478M0 480 178 470M0 480 178 475M0 469 178 483M0 473 178 465M0 488 178 426M0 448 178 461M0 479 178 479M0 496 178 451M0 478 178 417M0 538 178 534M0 538 178 542M0 536 178 532M0 534 178 548M0 536 178 533M0 537 178 555M0 533 178 544M0 533 178 538M0 535 178 545M0 534 178 540M0 504 178 615M0 535 178 541M0 537 178 545M0 534 178 540M0 532 178 547M0 533 178 540M0 596 178 509M0 524 178 560M0 537 178 538M0 539 178 539"/>
<path d="M0 478 178 474M0 479 178 475M0 477 178 480M0 485 178 473M0 480 178 478M0 479 178 469M0 484 178 472M0 481 178 471M0 472 178 475M0 484 178 470M0 482 178 475M0 476 178 470M0 464 178 462M0 473 178 475M0 472 178 472M0 484 178 471M0 453 178 447M0 470 178 467M0 475 178 477M0 480 178 474M0 476 178 469M0 468 178 469M0 467 178 464M0 467 178 464M0 483 178 469M0 441 178 466M0 478 178 469M0 476 178 483M0 477 178 464M0 482 178 458M0 509 178 425M0 489 178 408M0 471 178 483M0 425 178 445M0 487 178 416M0 492 178 456M0 536 178 535M0 534 178 534M0 536 178 538M0 534 178 537M0 536 178 536M0 539 178 549M0 529 178 541M0 535 178 539M0 531 178 539M0 592 178 501M0 531 178 553M0 533 178 541M0 557 178 519M0 533 178 540M0 534 178 540M0 543 178 533M0 521 178 569M0 541 178 559M0 534 178 534M0 525 178 560M0 533 178 541M0 566 178 531M0 564 178 625"/>
<path d="M0 482 178 477M0 477 178 483M0 481 178 475M0 448 178 446M0 483 178 468M0 469 178 465M0 466 178 463M0 480 178 478M0 476 178 476M0 475 178 468M0 481 178 475M0 468 178 472M0 475 178 477M0 475 178 487M0 474 178 471M0 471 178 468M0 480 178 472M0 479 178 472M0 485 178 465M0 465 178 461M0 477 178 482M0 481 178 475M0 481 178 478M0 461 178 486M0 437 178 367M0 490 178 440M0 474 178 476M0 531 178 541M0 542 178 541M0 536 178 532M0 534 178 538M0 532 178 538M0 556 178 533M0 530 178 568M0 529 178 568M0 533 178 559M0 551 178 531M0 553 178 546M0 531 178 547M0 542 178 540M0 556 178 531M0 533 178 540M0 548 178 537M0 542 178 545M0 542 178 534M0 534 178 541M0 571 178 533M0 547 178 542M0 529 178 551M0 537 178 538M0 577 178 503M0 540 178 547"/>
<path d="M0 481 178 471M0 473 178 476M0 478 178 472M0 481 178 478M0 464 178 461M0 472 178 468M0 474 178 465M0 474 178 468M0 480 178 470M0 478 178 471M0 480 178 480M0 444 178 490M0 471 178 459M0 397 178 403M0 471 178 482M0 535 178 538M0 534 178 536M0 532 178 551M0 529 178 552M0 526 178 570M0 534 178 541M0 544 178 548M0 540 178 539M0 534 178 555M0 555 178 525M0 535 178 533M0 560 178 536M0 533 178 537M0 534 178 538M0 579 178 546M0 537 178 542M0 522 178 570M0 533 178 541M0 582 178 501M0 534 178 549M0 535 178 535"/>
<path d="M0 476 178 473M0 477 178 484M0 475 178 476M0 475 178 479M0 481 178 477M0 479 178 482M0 470 178 470M0 460 178 460M0 454 178 448M0 478 178 477M0 449 178 444M0 471 178 468M0 474 178 478M0 479 178 479M0 473 178 479M0 463 178 461M0 451 178 505M0 428 178 418M0 506 178 429M0 436 178 426M0 493 178 461M0 534 178 537M0 535 178 535M0 534 178 538M0 542 178 542M0 533 178 545M0 533 178 539M0 533 178 540M0 532 178 551M0 425 178 786M0 534 178 539M0 590 178 506M0 534 178 540M0 560 178 558M0 539 178 542M0 558 178 544M0 538 178 543M0 527 178 553M0 544 178 546M0 522 178 589M0 527 178 557M0 535 178 536M0 535 178 582"/>
<path d="M0 482 178 475M0 484 178 474M0 476 178 481M0 482 178 477M0 481 178 472M0 470 178 472M0 477 178 469M0 481 178 474M0 476 178 476M0 450 178 453M0 482 178 475M0 480 178 476M0 481 178 474M0 476 178 480M0 479 178 473M0 445 178 445M0 480 178 472M0 475 178 477M0 445 178 509M0 493 178 404M0 537 178 546M0 541 178 529M0 534 178 537M0 537 178 538M0 531 178 539M0 533 178 544M0 535 178 554M0 531 178 556M0 534 178 540M0 517 178 578M0 534 178 538M0 548 178 534M0 549 178 527M0 530 178 554M0 473 178 666M0 566 178 518M0 536 178 557M0 587 178 486M0 537 178 540M0 570 178 627M0 577 178 578"/>
<path d="M0 481 178 477M0 480 178 470M0 475 178 470M0 480 178 479M0 472 178 467M0 457 178 442M0 484 178 472M0 472 178 482M0 476 178 470M0 475 178 468M0 462 178 457M0 470 178 466M0 476 178 477M0 467 178 464M0 477 178 472M0 464 178 462M0 464 178 459M0 446 178 442M0 445 178 486M0 475 178 483M0 531 178 539M0 540 178 542M0 563 178 538M0 537 178 540M0 534 178 534M0 537 178 595M0 531 178 540M0 563 178 521M0 534 178 540M0 536 178 533M0 552 178 542M0 529 178 559M0 536 178 532M0 531 178 551M0 615 178 480M0 538 178 572M0 530 178 580M0 534 178 540M0 534 178 540M0 543 178 542M0 534 178 546"/>
<path d="M0 477 178 483M0 477 178 481M0 483 178 474M0 472 178 469M0 477 178 480M0 475 178 479M0 468 178 478M0 477 178 477M0 476 178 472M0 477 178 475M0 476 178 471M0 440 178 418M0 470 178 466M0 474 178 468M0 470 178 463M0 464 178 460M0 458 178 448M0 478 178 476M0 476 178 475M0 467 178 463M0 469 178 466M0 478 178 478M0 472 178 466M0 450 178 489M0 488 178 457M0 458 178 457M0 459 178 477M0 455 178 495M0 474 178 480M0 540 178 531M0 533 178 539M0 546 178 540M0 533 178 536M0 536 178 536M0 555 178 532M0 533 178 540M0 537 178 539M0 529 178 551M0 534 178 541M0 537 178 588M0 536 178 539M0 531 178 541M0 540 178 536M0 534 178 541M0 545 178 555M0 529 178 554M0 527 178 557M0 535 178 535M0 500 178 660M0 548 178 538M0 571 178 513M0 526 178 557M0 535 178 545M0 537 178 544M0 577 178 599M0 597 178 614"/>
<path d="M0 481 178 479M0 482 178 476M0 476 178 480M0 480 178 476M0 483 178 476M0 475 178 470M0 474 178 468M0 477 178 472M0 467 178 464M0 469 178 470M0 482 178 472M0 475 178 477M0 478 178 483M0 479 178 474M0 473 178 478M0 479 178 469M0 477 178 466M0 473 178 461M0 481 178 475M0 468 178 410M0 533 178 538M0 529 178 542M0 534 178 535M0 590 178 508M0 531 178 549M0 537 178 538M0 532 178 540M0 587 178 487M0 534 178 538M0 534 178 541M0 534 178 540M0 579 178 519M0 552 178 548M0 533 178 540M0 533 178 540M0 539 178 550M0 541 178 537M0 523 178 565M0 555 178 567"/>
<path d="M0 484 178 474M0 484 178 474M0 482 178 475M0 484 178 475M0 484 178 472M0 484 178 471M0 480 178 474M0 470 178 467M0 473 178 474M0 478 178 475M0 477 178 475M0 481 178 475M0 467 178 465M0 474 178 477M0 477 178 466M0 478 178 479M0 501 178 397M0 486 178 467M0 471 178 485M0 538 178 531M0 538 178 539M0 532 178 542M0 536 178 542M0 543 178 528M0 547 178 563M0 550 178 532M0 550 178 538M0 603 178 482M0 536 178 540M0 544 178 532M0 536 178 540M0 533 178 547M0 531 178 546M0 534 178 540M0 544 178 535M0 540 178 561M0 535 178 537M0 542 178 534M0 492 178 663M0 537 178 555M0 554 178 560M0 526 178 547M0 523 178 620M0 531 178 550M0 536 178 545M0 554 178 508M0 554 178 556"/>
<path d="M0 480 178 479M0 477 178 483M0 469 178 468M0 476 178 476M0 481 178 472M0 463 178 456M0 484 178 473M0 476 178 482M0 474 178 473M0 481 178 467M0 474 178 470M0 465 178 400M0 481 178 466M0 533 178 539M0 534 178 541M0 530 178 540M0 534 178 538M0 531 178 539M0 529 178 542M0 536 178 549M0 555 178 528M0 555 178 549M0 551 178 537M0 541 178 538M0 536 178 539M0 530 178 562M0 534 178 538M0 534 178 540M0 536 178 533M0 531 178 541M0 551 178 529M0 520 178 590M0 529 178 542M0 533 178 539M0 543 178 533"/>
<path d="M0 474 178 486M0 480 178 476M0 474 178 484M0 476 178 468M0 470 178 465M0 472 178 469M0 474 178 474M0 470 178 471M0 453 178 458M0 467 178 464M0 483 178 468M0 461 178 459M0 482 178 473M0 476 178 477M0 458 178 457M0 483 178 471M0 460 178 447M0 483 178 475M0 469 178 482M0 483 178 472M0 478 178 481M0 484 178 473M0 467 178 495M0 536 178 537M0 533 178 538M0 536 178 534M0 538 178 529M0 535 178 537M0 533 178 538M0 530 178 540M0 532 178 543M0 540 178 535M0 533 178 542M0 532 178 537M0 530 178 541M0 525 178 565M0 619 178 483M0 538 178 546M0 531 178 542M0 535 178 536M0 536 178 543M0 549 178 532M0 533 178 562M0 520 178 582M0 534 178 537M0 538 178 531M0 546 178 538M0 546 178 543M0 593 178 520M0 526 178 590M0 537 178 538M0 505 178 595"/>
<path d="M0 478 178 482M0 481 178 477M0 478 178 478M0 455 178 451M0 471 178 466M0 484 178 473M0 460 178 454M0 474 178 467M0 478 178 480M0 477 178 476M0 481 178 468M0 481 178 476M0 471 178 465M0 474 178 480M0 482 178 473M0 469 178 467M0 475 178 482M0 477 178 481M0 459 178 455M0 470 178 471M0 463 178 462M0 486 178 472M0 500 178 416M0 465 178 448M0 541 178 536M0 536 178 534M0 533 178 544M0 533 178 538M0 531 178 541M0 538 178 533M0 539 178 537M0 540 178 572M0 537 178 538M0 543 178 538M0 563 178 533M0 533 178 558M0 528 178 558M0 534 178 540M0 549 178 534M0 567 178 568M0 486 178 633M0 533 178 541M0 530 178 541M0 543 178 539M0 535 178 538M0 531 178 541M0 540 178 545M0 536 178 543"/>
<path d="M0 478 178 481M0 480 178 479M0 473 178 488M0 481 178 474M0 483 178 469M0 477 178 482M0 476 178 476M0 462 178 457M0 478 178 480M0 473 178 476M0 471 178 466M0 462 178 458M0 469 178 469M0 473 178 476M0 448 178 452M0 473 178 488M0 480 178 479M0 457 178 460M0 481 178 472M0 473 178 467M0 472 178 470M0 468 178 465M0 472 178 474M0 479 178 473M0 476 178 472M0 480 178 479M0 473 178 479M0 475 178 475M0 459 178 455M0 478 178 479M0 468 178 427M0 459 178 479M0 464 178 445M0 480 178 466M0 516 178 420M0 465 178 437M0 536 178 535M0 535 178 540M0 535 178 543M0 536 178 538M0 534 178 537M0 535 178 540M0 534 178 539M0 538 178 543M0 534 178 540M0 534 178 535M0 546 178 530M0 533 178 545M0 534 178 542M0 533 178 538M0 533 178 543M0 516 178 609M0 539 178 542M0 600 178 510M0 530 178 542M0 540 178 552M0 534 178 540M0 669 178 511M0 525 178 606"/>
<path d="M0 482 178 477M0 481 178 476M0 473 178 480M0 479 178 478M0 474 178 472M0 467 178 475M0 462 178 454M0 474 178 487M0 472 178 471M0 442 178 451M0 482 178 471M0 478 178 473M0 471 178 466M0 475 178 459M0 476 178 415M0 535 178 533M0 537 178 539M0 535 178 534M0 535 178 536M0 534 178 540M0 534 178 540M0 534 178 541M0 543 178 541M0 551 178 536"/>
<path d="M0 480 178 473M0 476 178 482M0 478 178 477M0 480 178 481M0 474 178 475M0 477 178 468M0 456 178 446M0 469 178 486M0 471 178 472M0 479 178 474M0 477 178 478M0 482 178 468M0 475 178 469M0 475 178 476M0 477 178 483M0 481 178 471M0 470 178 464M0 473 178 476M0 470 178 475M0 490 178 427M0 539 178 540M0 537 178 540M0 536 178 532M0 534 178 536M0 535 178 538M0 530 178 540M0 533 178 543M0 533 178 537M0 534 178 549M0 533 178 538M0 538 178 543M0 532 178 541M0 537 178 538M0 552 178 532M0 543 178 543M0 531 178 541M0 541 178 539M0 534 178 551"/>
<path d="M0 478 178 472M0 485 178 472M0 483 178 477M0 480 178 479M0 482 178 470M0 481 178 474M0 477 178 483M0 463 178 461M0 474 178 470M0 458 178 460M0 475 178 464M0 477 178 467M0 473 178 473M0 477 178 471M0 483 178 469M0 477 178 436M0 522 178 403M0 538 178 550M0 533 178 542M0 536 178 538M0 532 178 538M0 534 178 553M0 550 178 570M0 527 178 582M0 531 178 539M0 525 178 580M0 531 178 542M0 641 178 441M0 558 178 561M0 533 178 540M0 530 178 553M0 534 178 553M0 505 178 643M0 543 178 548"/>
<path d="M0 474 178 477M0 482 178 476M0 479 178 478M0 479 178 476M0 478 178 476M0 481 178 478M0 478 178 475M0 479 178 480M0 462 178 461M0 477 178 483M0 477 178 475M0 475 178 468M0 478 178 475M0 477 178 485M0 467 178 464M0 451 178 459M0 466 178 464M0 481 178 475M0 473 178 480M0 469 178 474M0 473 178 477M0 466 178 463M0 525 178 392M0 536 178 534M0 534 178 539M0 538 178 540M0 533 178 538M0 541 178 536M0 563 178 513M0 528 178 545M0 534 178 536M0 532 178 537M0 531 178 547M0 545 178 533M0 604 178 467M0 563 178 529M0 532 178 540M0 553 178 535M0 535 178 540M0 533 178 537M0 533 178 545M0 537 178 560M0 532 178 553M0 562 178 526"/>
<path d="M0 485 178 472M0 475 178 484M0 481 178 469M0 478 178 466M0 483 178 474M0 450 178 439M0 471 178 474M0 466 178 462M0 472 178 471M0 470 178 472M0 476 178 483M0 481 178 469M0 478 178 476M0 421 178 392M0 473 178 489M0 528 178 543M0 536 178 534M0 531 178 543M0 535 178 539M0 534 178 540M0 534 178 540M0 533 178 542M0 534 178 535M0 531 178 540M0 536 178 533M0 531 178 540M0 530 178 541M0 556 178 537M0 536 178 542M0 533 178 539M0 532 178 542M0 533 178 543"/>
<path d="M0 480 178 479M0 483 178 474M0 477 178 475M0 479 178 480M0 482 178 475M0 460 178 457M0 485 178 473M0 464 178 462M0 473 178 471M0 452 178 450M0 475 178 467M0 480 178 472M0 473 178 482M0 473 178 481M0 437 178 444M0 524 178 420M0 490 178 425M0 457 178 470M0 492 178 454M0 505 178 438M0 453 178 448M0 536 178 531M0 534 178 544M0 535 178 536M0 536 178 536M0 533 178 549M0 534 178 544M0 541 178 542M0 535 178 551M0 519 178 583M0 544 178 533M0 582 178 510M0 547 178 531M0 534 178 540M0 533 178 537M0 531 178 539M0 554 178 547M0 564 178 519M0 533 178 547M0 575 178 532M0 534 178 586M0 571 178 571"/>
<path d="M0 479 178 481M0 481 178 479M0 479 178 472M0 469 178 469M0 478 178 476M0 479 178 482M0 476 178 475M0 475 178 481M0 473 178 471M0 471 178 464M0 468 178 470M0 472 178 467M0 450 178 438M0 479 178 478M0 469 178 465M0 474 178 475M0 477 178 472M0 474 178 480M0 480 178 475M0 480 178 474M0 456 178 461M0 473 178 488M0 532 178 542M0 536 178 533M0 534 178 542M0 536 178 542M0 529 178 544M0 534 178 574M0 534 178 540M0 533 178 572M0 545 178 557M0 535 178 543M0 536 178 557M0 532 178 547M0 563 178 525M0 534 178 539M0 530 178 618M0 529 178 580M0 532 178 550M0 532 178 547M0 565 178 515M0 522 178 563M0 521 178 575M0 543 178 558M0 543 178 543M0 540 178 535M0 526 178 563M0 536 178 540"/>
<path d="M0 478 178 478M0 479 178 480M0 472 178 488M0 481 178 479M0 482 178 473M0 481 178 476M0 478 178 478M0 474 178 484M0 478 178 483M0 476 178 478M0 479 178 474M0 472 178 471M0 478 178 473M0 467 178 464M0 477 178 480M0 478 178 468M0 471 178 472M0 466 178 463M0 475 178 477M0 467 178 470M0 466 178 462M0 475 178 468M0 452 178 460M0 473 178 481M0 461 178 462M0 482 178 465M0 483 178 465M0 466 178 491M0 465 178 441M0 472 178 455M0 456 178 478M0 535 178 534M0 536 178 533M0 533 178 541M0 538 178 536M0 535 178 535M0 553 178 537M0 593 178 498M0 519 178 606M0 551 178 540M0 541 178 536M0 530 178 541M0 529 178 558M0 540 178 537M0 522 178 572M0 544 178 538M0 532 178 551M0 642 178 440M0 534 178 541M0 539 178 537M0 529 178 568M0 539 178 536M0 536 178 540M0 527 178 546M0 537 178 590M0 534 178 540M0 608 178 527M0 534 178 539M0 547 178 540"/>
<path d="M0 470 178 474M0 476 178 481M0 483 178 469M0 460 178 457M0 464 178 459M0 479 178 474M0 476 178 475M0 478 178 474M0 413 178 426M0 473 178 469M0 489 178 467M0 473 178 472M0 470 178 466M0 481 178 470M0 475 178 481M0 478 178 477M0 481 178 471M0 489 178 468M0 486 178 455M0 453 178 484M0 500 178 438M0 539 178 537M0 529 178 545M0 539 178 532M0 533 178 537M0 543 178 534M0 533 178 543M0 567 178 523M0 530 178 554M0 548 178 569M0 503 178 609M0 535 178 540M0 536 178 579M0 525 178 547M0 537 178 543M0 548 178 531M0 534 178 547M0 536 178 547M0 532 178 538M0 593 178 527M0 546 178 557M0 521 178 603M0 533 178 539M0 543 178 533M0 539 178 706M0 529 178 544"/>
<path d="M0 486 178 466M0 484 178 475M0 475 178 469M0 463 178 459M0 472 178 472M0 442 178 446M0 479 178 469M0 480 178 473M0 459 178 457M0 468 178 470M0 460 178 451M0 462 178 459M0 450 178 436M0 478 178 477M0 457 178 452M0 473 178 490M0 478 178 476M0 480 178 477M0 477 178 476M0 470 178 478M0 486 178 408M0 537 178 535M0 529 178 554M0 532 178 552M0 555 178 539M0 534 178 540M0 578 178 527M0 534 178 540M0 532 178 541M0 522 178 551M0 537 178 565M0 522 178 567M0 540 178 536M0 567 178 540M0 534 178 540M0 539 178 538M0 549 178 532M0 535 178 540M0 529 178 554M0 533 178 540"/>
<path d="M0 480 178 470M0 479 178 478M0 477 178 480M0 485 178 473M0 474 178 472M0 481 178 473M0 468 178 466M0 475 178 480M0 473 178 467M0 472 178 475M0 459 178 462M0 463 178 462M0 465 178 463M0 478 178 469M0 475 178 482M0 467 178 465M0 494 178 412M0 489 178 446M0 479 178 476M0 436 178 440M0 436 178 418M0 476 178 472M0 481 178 466M0 539 178 538M0 539 178 529M0 532 178 540M0 542 178 544M0 564 178 558M0 523 178 598M0 533 178 540M0 552 178 532M0 528 178 586M0 533 178 548M0 604 178 513M0 505 178 612M0 557 178 530M0 537 178 538M0 504 178 645M0 534 178 539M0 571 178 594"/>
<path d="M0 478 178 482M0 484 178 471M0 476 178 481M0 477 178 478M0 478 178 482M0 480 178 464M0 481 178 477M0 470 178 466M0 473 178 467M0 475 178 470M0 484 178 470M0 460 178 464M0 480 178 477M0 480 178 479M0 478 178 477M0 478 178 471M0 473 178 470M0 475 178 483M0 479 178 475M0 471 178 479M0 488 178 453M0 467 178 437M0 474 178 449M0 532 178 538M0 533 178 536M0 534 178 539M0 529 178 542M0 555 178 536M0 545 178 535M0 531 178 539M0 541 178 542M0 534 178 565M0 537 178 539M0 532 178 549M0 534 178 538M0 533 178 551M0 529 178 542M0 567 178 517M0 522 178 565M0 529 178 554M0 577 178 569M0 560 178 528M0 539 178 539M0 545 178 532M0 537 178 538M0 543 178 537M0 538 178 547"/>
<path d="M0 478 178 480M0 478 178 478M0 478 178 481M0 483 178 474M0 476 178 477M0 476 178 474M0 478 178 474M0 488 178 466M0 475 178 467M0 465 178 462M0 462 178 445M0 480 178 472M0 456 178 453M0 477 178 483M0 461 178 458M0 482 178 472M0 474 178 482M0 468 178 467M0 481 178 476M0 470 178 467M0 477 178 474M0 437 178 434M0 478 178 481M0 494 178 456M0 534 178 544M0 534 178 537M0 537 178 532M0 536 178 534M0 530 178 544M0 531 178 549M0 536 178 535M0 533 178 543M0 565 178 524M0 562 178 523M0 537 178 539M0 498 178 633M0 534 178 540M0 532 178 539M0 566 178 601"/>
<path d="M0 476 178 476M0 476 178 482M0 478 178 481M0 476 178 486M0 480 178 472M0 481 178 474M0 483 178 474M0 479 178 478M0 473 178 486M0 471 178 476M0 479 178 480M0 471 178 474M0 463 178 461M0 477 178 475M0 475 178 477M0 487 178 467M0 471 178 435M0 465 178 474M0 492 178 449M0 474 178 469M0 535 178 534M0 532 178 543M0 538 178 538M0 532 178 541M0 539 178 538M0 538 178 536M0 534 178 534M0 539 178 537M0 536 178 546M0 532 178 547M0 489 178 641M0 535 178 547M0 533 178 539M0 527 178 556M0 548 178 536M0 533 178 539M0 587 178 521M0 532 178 541M0 563 178 518M0 532 178 543M0 540 178 542M0 565 178 536M0 530 178 552M0 442 178 737M0 534 178 540M0 556 178 527M0 564 178 537M0 534 178 538M0 538 178 541M0 535 178 538M0 546 178 581"/>
<path d="M0 481 178 478M0 481 178 476M0 483 178 476M0 477 178 478M0 478 178 473M0 480 178 479M0 456 178 442M0 487 178 471M0 475 178 472M0 463 178 458M0 480 178 466M0 462 178 450M0 470 178 470M0 455 178 455M0 479 178 470M0 477 178 478M0 479 178 464M0 476 178 477M0 482 178 476M0 459 178 460M0 478 178 480M0 468 178 466M0 478 178 476M0 488 178 467M0 473 178 480M0 472 178 470M0 492 178 451M0 440 178 488M0 482 178 471M0 534 178 537M0 533 178 541M0 538 178 532M0 544 178 538M0 557 178 554M0 564 178 538M0 532 178 545M0 535 178 551M0 547 178 547M0 539 178 547M0 560 178 519M0 531 178 551M0 527 178 545M0 530 178 549M0 532 178 546M0 555 178 526M0 539 178 527M0 533 178 543M0 534 178 539M0 534 178 542M0 537 178 545M0 534 178 545"/>
<path d="M0 483 178 472M0 478 178 475M0 480 178 480M0 480 178 477M0 450 178 458M0 465 178 462M0 484 178 474M0 474 178 473M0 466 178 463M0 460 178 455M0 485 178 472M0 469 178 465M0 461 178 459M0 474 178 468M0 467 178 468M0 470 178 465M0 475 178 472M0 461 178 430M0 439 178 459M0 496 178 453M0 473 178 490M0 534 178 536M0 533 178 539M0 532 178 539M0 538 178 540M0 537 178 539M0 533 178 540M0 535 178 533M0 534 178 540M0 534 178 540M0 489 178 648M0 537 178 562M0 537 178 548M0 546 178 535M0 537 178 540M0 536 178 533M0 533 178 546M0 536 178 540M0 537 178 546M0 534 178 543M0 539 178 546M0 533 178 540M0 530 178 549M0 533 178 537M0 541 178 550M0 530 178 551"/>
<path d="M0 476 178 480M0 487 178 470M0 472 178 469M0 483 178 477M0 489 178 466M0 474 178 477M0 468 178 471M0 480 178 478M0 464 178 459M0 487 178 470M0 474 178 482M0 473 178 481M0 474 178 468M0 483 178 476M0 474 178 470M0 477 178 472M0 480 178 475M0 470 178 471M0 492 178 450M0 487 178 438M0 475 178 475M0 490 178 430M0 538 178 530M0 534 178 534M0 540 178 533M0 542 178 543M0 528 178 544M0 529 178 575M0 558 178 533M0 575 178 521M0 534 178 540M0 518 178 584M0 548 178 544M0 538 178 538M0 533 178 539M0 533 178 540M0 535 178 535M0 532 178 541M0 545 178 534M0 505 178 617M0 533 178 550M0 533 178 539M0 536 178 544M0 539 178 547M0 530 178 543"/>
<path d="M0 480 178 478M0 478 178 481M0 485 178 469M0 482 178 476M0 482 178 474M0 485 178 471M0 484 178 468M0 468 178 489M0 476 178 481M0 477 178 472M0 471 178 467M0 470 178 470M0 477 178 472M0 480 178 441M0 448 178 475M0 538 178 541M0 536 178 536M0 532 178 538M0 538 178 532M0 539 178 547M0 537 178 541M0 551 178 527M0 557 178 542M0 534 178 538M0 547 178 541M0 538 178 537M0 539 178 538M0 535 178 541M0 611 178 493M0 548 178 536M0 544 178 533M0 509 178 635M0 539 178 540M0 533 178 540M0 532 178 550M0 538 178 538M0 541 178 544M0 532 178 550M0 573 178 511"/>
<path d="M0 477 178 477M0 468 178 466M0 471 178 473M0 473 178 476M0 483 178 474M0 479 178 472M0 469 178 466M0 478 178 482M0 475 178 467M0 478 178 475M0 475 178 469M0 470 178 469M0 475 178 473M0 472 178 470M0 370 178 438M0 532 178 539M0 537 178 539M0 535 178 537M0 532 178 538M0 537 178 537M0 536 178 536M0 535 178 533M0 633 178 459M0 546 178 542M0 528 178 584M0 602 178 493M0 534 178 541M0 552 178 554M0 531 178 557M0 569 178 514M0 548 178 529M0 536 178 541M0 557 178 537M0 547 178 531M0 542 178 538M0 532 178 538M0 547 178 540M0 534 178 537M0 534 178 546M0 522 178 589M0 530 178 554M0 540 178 539M0 554 178 525"/>
<path d="M0 482 178 477M0 481 178 476M0 479 178 475M0 477 178 480M0 480 178 474M0 484 178 473M0 475 178 480M0 468 178 465M0 471 178 471M0 466 178 464M0 464 178 463M0 473 178 468M0 512 178 434M0 483 178 421M0 534 178 542M0 543 178 538M0 536 178 548M0 535 178 538M0 534 178 541M0 537 178 539M0 545 178 565M0 531 178 540M0 531 178 542M0 536 178 552M0 521 178 583M0 535 178 542M0 532 178 541M0 535 178 533M0 577 178 521"/>
<path d="M0 473 178 480M0 481 178 478M0 479 178 478M0 480 178 480M0 479 178 479M0 480 178 479M0 473 178 470M0 476 178 473M0 481 178 477M0 453 178 438M0 472 178 472M0 473 178 471M0 478 178 483M0 475 178 480M0 453 178 457M0 482 178 473M0 482 178 473M0 476 178 471M0 449 178 460M0 473 178 469M0 475 178 481M0 486 178 465M0 458 178 462M0 461 178 461M0 482 178 477M0 478 178 468M0 467 178 464M0 478 178 468M0 418 178 395M0 532 178 538M0 539 178 539M0 535 178 540M0 533 178 540M0 534 178 540M0 534 178 539M0 532 178 541M0 533 178 539M0 532 178 540M0 528 178 595M0 574 178 532M0 535 178 540M0 510 178 598M0 534 178 540M0 521 178 582M0 556 178 527M0 531 178 541M0 529 178 543M0 522 178 587"/>
<path d="M0 481 178 476M0 479 178 479M0 482 178 476M0 475 178 486M0 473 178 488M0 477 178 480M0 475 178 481M0 471 178 485M0 461 178 453M0 477 178 475M0 468 178 466M0 468 178 467M0 479 178 471M0 470 178 476M0 485 178 473M0 460 178 454M0 471 178 475M0 469 178 474M0 461 178 457M0 467 178 491M0 464 178 472M0 490 178 460M0 538 178 539M0 541 178 546M0 536 178 537M0 538 178 537M0 593 178 494M0 543 178 541M0 597 178 517M0 556 178 545M0 524 178 579M0 523 178 585M0 556 178 528M0 535 178 536M0 537 178 540M0 558 178 519M0 535 178 542M0 531 178 549M0 550 178 532M0 596 178 506M0 535 178 534M0 523 178 565M0 540 178 536M0 533 178 541M0 546 178 544M0 551 178 556M0 539 178 547M0 524 178 550M0 541 178 526M0 511 178 593M0 533 178 557"/>
<path d="M0 481 178 476M0 485 178 473M0 478 178 478M0 479 178 481M0 477 178 484M0 484 178 471M0 479 178 479M0 487 178 463M0 483 178 476M0 469 178 469M0 474 178 477M0 467 178 465M0 460 178 458M0 476 178 478M0 479 178 479M0 478 178 470M0 477 178 473M0 468 178 464M0 472 178 480M0 481 178 477M0 481 178 470M0 474 178 473M0 468 178 466M0 482 178 477M0 471 178 474M0 463 178 459M0 479 178 476M0 476 178 423M0 470 178 476M0 386 178 427M0 457 178 449M0 534 178 536M0 536 178 536M0 532 178 539M0 527 178 544M0 533 178 541M0 554 178 533M0 535 178 540M0 534 178 543M0 533 178 546M0 556 178 541M0 573 178 531M0 510 178 623M0 539 178 549M0 569 178 517M0 531 178 541M0 553 178 533M0 524 178 577M0 561 178 501M0 540 178 543M0 520 178 564"/>
<path d="M0 483 178 476M0 476 178 483M0 478 178 476M0 481 178 475M0 480 178 476M0 479 178 481M0 482 178 472M0 464 178 456M0 469 178 469M0 466 178 463M0 474 178 478M0 477 178 469M0 483 178 469M0 487 178 469M0 461 178 453M0 459 178 460M0 480 178 478M0 464 178 462M0 477 178 481M0 535 178 537M0 533 178 536M0 538 178 540M0 533 178 535M0 534 178 539M0 534 178 547M0 534 178 535M0 533 178 539M0 533 178 542M0 604 178 500M0 537 178 568M0 515 178 587M0 536 178 534M0 539 178 557M0 533 178 544M0 535 178 543M0 534 178 550M0 487 178 650M0 535 178 542M0 533 178 541M0 574 178 525M0 532 178 540M0 517 178 616"/>
<path d="M0 480 178 479M0 479 178 481M0 479 178 473M0 477 178 482M0 485 178 471M0 483 178 476M0 480 178 473M0 485 178 473M0 484 178 467M0 482 178 474M0 476 178 481M0 472 178 471M0 473 178 466M0 459 178 450M0 473 178 485M0 483 178 470M0 468 178 464M0 478 178 467M0 475 178 476M0 459 178 454M0 464 178 460M0 460 178 456M0 478 178 474M0 482 178 429M0 480 178 429M0 491 178 425M0 490 178 446M0 504 178 439M0 537 178 538M0 536 178 538M0 530 178 542M0 532 178 539M0 539 178 542M0 538 178 530M0 543 178 535M0 569 178 526M0 532 178 540M0 551 178 535M0 533 178 542M0 533 178 550M0 586 178 594M0 508 178 593M0 537 178 532M0 540 178 538M0 533 178 567M0 561 178 549M0 549 178 569M0 524 178 598M0 532 178 540M0 534 178 541M0 532 178 540M0 538 178 546M0 555 178 567"/>
<path d="M0 482 178 475M0 486 178 470M0 478 178 480M0 475 178 474M0 463 178 459M0 480 178 474M0 475 178 473M0 457 178 456M0 474 178 470M0 472 178 466M0 478 178 477M0 463 178 462M0 482 178 476M0 477 178 485M0 469 178 468M0 482 178 475M0 475 178 474M0 472 178 469M0 489 178 445M0 475 178 473M0 476 178 422M0 473 178 403M0 536 178 537M0 535 178 538M0 530 178 541M0 534 178 539M0 528 178 582M0 561 178 527M0 534 178 538M0 535 178 604M0 535 178 547M0 525 178 618M0 535 178 604M0 586 178 505M0 535 178 540M0 540 178 534M0 551 178 547M0 590 178 493M0 559 178 521M0 530 178 553M0 536 178 532M0 577 178 497M0 461 178 690M0 525 178 599M0 591 178 552"/>
<path d="M0 480 178 480M0 481 178 476M0 481 178 477M0 478 178 478M0 467 178 464M0 464 178 457M0 476 178 478M0 479 178 465M0 480 178 478M0 470 178 465M0 475 178 475M0 475 178 480M0 433 178 436M0 448 178 455M0 477 178 478M0 474 178 471M0 482 178 475M0 480 178 470M0 481 178 475M0 471 178 466M0 483 178 474M0 486 178 450M0 471 178 443M0 532 178 539M0 535 178 537M0 534 178 535M0 534 178 539M0 539 178 542M0 536 178 540M0 538 178 531M0 535 178 535M0 538 178 566M0 544 178 538M0 548 178 543M0 545 178 530M0 561 178 554M0 531 178 553M0 559 178 514M0 590 178 601M0 539 178 540M0 533 178 540M0 517 178 558M0 535 178 540M0 558 178 551M0 546 178 542M0 533 178 542M0 531 178 552M0 541 178 556M0 530 178 541M0 533 178 541M0 536 178 553M0 542 178 547"/>
<path d="M0 480 178 478M0 481 178 479M0 481 178 479M0 483 178 475M0 482 178 478M0 481 178 475M0 480 178 478M0 478 178 477M0 479 178 479M0 465 178 462M0 472 178 480M0 467 178 464M0 478 178 477M0 470 178 468M0 476 178 471M0 475 178 467M0 467 178 466M0 484 178 474M0 452 178 456M0 477 178 471M0 459 178 454M0 472 178 485M0 472 178 468M0 476 178 470M0 474 178 481M0 472 178 464M0 477 178 481M0 473 178 469M0 479 178 469M0 497 178 443M0 497 178 448M0 462 178 503M0 532 178 538M0 532 178 539M0 536 178 536M0 532 178 538M0 532 178 539M0 540 178 537M0 537 178 541M0 532 178 548M0 534 178 541M0 531 178 542M0 533 178 543M0 530 178 544M0 534 178 540M0 543 178 535M0 554 178 575M0 555 178 535M0 535 178 556M0 583 178 508M0 535 178 542M0 536 178 534M0 528 178 558M0 549 178 545M0 519 178 569M0 584 178 498M0 535 178 536M0 535 178 533"/>
<path d="M0 478 178 479M0 484 178 475M0 482 178 470M0 470 178 468M0 481 178 472M0 483 178 475M0 483 178 472M0 461 178 459M0 464 178 462M0 447 178 456M0 482 178 473M0 482 178 474M0 473 178 472M0 477 178 480M0 453 178 450M0 481 178 475M0 482 178 466M0 478 178 472M0 467 178 464M0 475 178 476M0 482 178 468M0 482 178 477M0 422 178 431M0 430 178 369M0 452 178 486M0 490 178 400M0 479 178 456M0 538 178 529M0 535 178 543M0 537 178 532M0 531 178 540M0 578 178 522M0 561 178 515M0 574 178 503M0 549 178 552M0 534 178 539M0 544 178 535M0 526 178 586M0 534 178 535M0 534 178 542M0 498 178 636M0 541 178 543M0 539 178 576M0 530 178 556M0 542 178 538M0 533 178 539M0 546 178 545"/>
<path d="M0 478 178 478M0 483 178 474M0 477 178 484M0 474 178 474M0 479 178 473M0 477 178 468M0 484 178 471M0 486 178 470M0 485 178 472M0 482 178 471M0 471 178 472M0 475 178 479M0 491 178 409M0 399 178 421M0 490 178 421M0 487 178 469M0 534 178 538M0 534 178 543M0 533 178 545M0 525 178 567M0 533 178 546M0 531 178 547M0 534 178 549M0 539 178 536M0 534 178 538M0 532 178 537M0 507 178 616M0 558 178 556M0 569 178 574M0 559 178 521M0 538 178 539M0 534 178 559M0 534 178 540M0 536 178 539M0 540 178 586"/>
<path d="M0 485 178 471M0 480 178 462M0 488 178 470M0 482 178 475M0 480 178 475M0 481 178 477M0 477 178 484M0 482 178 477M0 484 178 475M0 451 178 446M0 483 178 476M0 465 178 462M0 473 178 472M0 479 178 476M0 479 178 467M0 473 178 468M0 490 178 464M0 468 178 469M0 495 178 452M0 472 178 459M0 488 178 461M0 491 178 464M0 497 178 437M0 538 178 530M0 532 178 537M0 535 178 535M0 536 178 533M0 535 178 535M0 537 178 542M0 530 178 541M0 531 178 579M0 532 178 547M0 534 178 541M0 542 178 549M0 560 178 541M0 511 178 639M0 564 178 571M0 542 178 542M0 533 178 543M0 537 178 541M0 550 178 544M0 535 178 566M0 533 178 551"/>
<path d="M0 481 178 471M0 464 178 460M0 474 178 468M0 478 178 467M0 472 178 468M0 479 178 481M0 477 178 478M0 479 178 480M0 470 178 488M0 481 178 474M0 473 178 479M0 431 178 422M0 456 178 448M0 452 178 447M0 524 178 407M0 444 178 427M0 501 178 436M0 491 178 457M0 465 178 466M0 532 178 538M0 533 178 536M0 533 178 537M0 536 178 533M0 535 178 539M0 534 178 543M0 530 178 540M0 549 178 531M0 534 178 540M0 536 178 539M0 530 178 543M0 526 178 590M0 545 178 540M0 510 178 598M0 533 178 541M0 532 178 541M0 535 178 542M0 529 178 543"/>
<path d="M0 483 178 474M0 481 178 477M0 483 178 471M0 476 178 480M0 481 178 477M0 455 178 446M0 482 178 476M0 476 178 475M0 482 178 472M0 472 178 489M0 479 178 481M0 467 178 464M0 474 178 469M0 476 178 482M0 457 178 454M0 482 178 473M0 480 178 468M0 467 178 465M0 481 178 459M0 487 178 463M0 530 178 543M0 537 178 534M0 536 178 540M0 538 178 531M0 598 178 506M0 569 178 520M0 515 178 611M0 541 178 548M0 534 178 544M0 533 178 538M0 558 178 540M0 552 178 540M0 537 178 545M0 526 178 557M0 533 178 546M0 537 178 537M0 532 178 578M0 533 178 538M0 547 178 537M0 535 178 542M0 536 178 532M0 536 178 540M0 531 178 610M0 537 178 540M0 565 178 513M0 533 178 540M0 545 178 534M0 534 178 541"/>
<path d="M0 481 178 474M0 482 178 473M0 478 178 472M0 481 178 469M0 479 178 468M0 471 178 482M0 477 178 484M0 482 178 470M0 483 178 475M0 457 178 457M0 483 178 473M0 472 178 468M0 476 178 485M0 451 178 484M0 494 178 434M0 463 178 497M0 468 178 429M0 455 178 380M0 532 178 543M0 532 178 538M0 539 178 535M0 538 178 539M0 535 178 537M0 538 178 537M0 531 178 543M0 534 178 538M0 534 178 541M0 545 178 533M0 529 178 559M0 553 178 538M0 533 178 547M0 517 178 605M0 566 178 520M0 535 178 542M0 524 178 563M0 532 178 545M0 529 178 582M0 596 178 494M0 532 178 541M0 535 178 537M0 512 178 589M0 549 178 557M0 562 178 522M0 538 178 546M0 555 178 564M0 536 178 542M0 532 178 538M0 567 178 570"/>
<path d="M0 481 178 479M0 479 178 479M0 477 178 476M0 480 178 477M0 482 178 472M0 481 178 480M0 474 178 479M0 480 178 474M0 469 178 469M0 474 178 469M0 450 178 439M0 480 178 478M0 478 178 473M0 455 178 444M0 472 178 474M0 461 178 454M0 475 178 474M0 478 178 478M0 482 178 476M0 477 178 471M0 492 178 431M0 486 178 443M0 483 178 467M0 536 178 536M0 535 178 535M0 536 178 537M0 537 178 534M0 545 178 537M0 541 178 543M0 535 178 543M0 538 178 540M0 526 178 563M0 642 178 445M0 523 178 567M0 518 178 574M0 536 178 542M0 574 178 559M0 557 178 537M0 540 178 541M0 542 178 553M0 533 178 539M0 549 178 528"/>
<path d="M0 483 178 473M0 437 178 455M0 478 178 480M0 475 178 486M0 469 178 467M0 465 178 461M0 465 178 462M0 472 178 470M0 475 178 484M0 461 178 458M0 485 178 471M0 484 178 472M0 463 178 456M0 472 178 421M0 481 178 454M0 491 178 430M0 534 178 539M0 533 178 539M0 537 178 533M0 537 178 539M0 532 178 540M0 534 178 538M0 532 178 540M0 538 178 539M0 538 178 534M0 534 178 540M0 532 178 539M0 532 178 540M0 533 178 539M0 569 178 512M0 531 178 542M0 528 178 555M0 540 178 542M0 534 178 547M0 532 178 567M0 506 178 621M0 499 178 670M0 489 178 635M0 553 178 527M0 533 178 543M0 535 178 544M0 536 178 539"/>
<path d="M0 482 178 475M0 479 178 480M0 472 178 471M0 478 178 481M0 468 178 465M0 462 178 457M0 478 178 477M0 472 178 488M0 474 178 478M0 470 178 466M0 474 178 475M0 472 178 488M0 468 178 465M0 479 178 474M0 473 178 478M0 467 178 464M0 473 178 470M0 467 178 469M0 474 178 470M0 465 178 495M0 445 178 452M0 453 178 439M0 502 178 439M0 477 178 471M0 536 178 538M0 534 178 537M0 532 178 538M0 533 178 538M0 537 178 531M0 532 178 543M0 534 178 536M0 532 178 540M0 532 178 568M0 534 178 542M0 525 178 559M0 543 178 560M0 538 178 537M0 561 178 519M0 534 178 534M0 524 178 573M0 516 178 587M0 534 178 540M0 609 178 541M0 534 178 541M0 529 178 556M0 535 178 535M0 582 178 515M0 543 178 560M0 532 178 538M0 543 178 534"/>
<path d="M0 479 178 478M0 477 178 474M0 483 178 472M0 475 178 477M0 482 178 474M0 475 178 487M0 460 178 461M0 471 178 482M0 481 178 471M0 465 178 462M0 456 178 450M0 487 178 466M0 483 178 474M0 476 178 472M0 482 178 475M0 469 178 466M0 477 178 478M0 473 178 481M0 531 178 540M0 534 178 545M0 539 178 536M0 535 178 537M0 541 178 575M0 542 178 547M0 533 178 540M0 529 178 542M0 530 178 559M0 537 178 531M0 534 178 537M0 518 178 591M0 532 178 555M0 534 178 537M0 570 178 544"/>
<path d="M0 477 178 479M0 472 178 486M0 483 178 472M0 476 178 479M0 476 178 481M0 478 178 482M0 480 178 480M0 479 178 480M0 476 178 476M0 473 178 481M0 478 178 472M0 425 178 421M0 467 178 464M0 468 178 469M0 476 178 480M0 478 178 483M0 471 178 468M0 476 178 481M0 471 178 468M0 476 178 465M0 478 178 474M0 470 178 478M0 473 178 474M0 534 178 537M0 532 178 538M0 535 178 533M0 536 178 534M0 537 178 548M0 620 178 463M0 518 178 579M0 531 178 542M0 586 178 502M0 532 178 541M0 534 178 540M0 534 178 540M0 534 178 540M0 544 178 548M0 527 178 579"/>
<path d="M0 480 178 475M0 471 178 480M0 477 178 478M0 483 178 476M0 473 178 471M0 467 178 464M0 483 178 472M0 483 178 474M0 482 178 475M0 458 178 458M0 477 178 482M0 485 178 471M0 478 178 470M0 472 178 470M0 461 178 476M0 460 178 476M0 487 178 459M0 535 178 536M0 542 178 543M0 534 178 537M0 541 178 543M0 531 178 540M0 537 178 533M0 534 178 545M0 526 178 576M0 533 178 540M0 530 178 551M0 556 178 525M0 537 178 538M0 537 178 542M0 518 178 580M0 534 178 540M0 534 178 541M0 538 178 555M0 544 178 540M0 533 178 540M0 534 178 551M0 591 178 497M0 534 178 540M0 511 178 610M0 534 178 540M0 533 178 541M0 562 178 624M0 615 178 566"/>
<path d="M0 476 178 478M0 470 178 480M0 479 178 475M0 479 178 476M0 482 178 476M0 475 178 482M0 478 178 480M0 482 178 477M0 477 178 468M0 473 178 472M0 481 178 477M0 467 178 464M0 475 178 444M0 531 178 541M0 535 178 537M0 538 178 532M0 534 178 540M0 534 178 543M0 534 178 536M0 531 178 542M0 533 178 574M0 671 178 422M0 548 178 526M0 533 178 561M0 530 178 548M0 532 178 539M0 578 178 512M0 533 178 540M0 556 178 535M0 546 178 555M0 531 178 544M0 579 178 504M0 512 178 596M0 578 178 507M0 534 178 542M0 534 178 538M0 547 178 538M0 528 178 544M0 539 178 528M0 530 178 542M0 531 178 548"/>
<path d="M0 482 178 477M0 480 178 476M0 472 178 482M0 483 178 473M0 481 178 478M0 478 178 477M0 471 178 474M0 473 178 477M0 470 178 475M0 478 178 473M0 473 178 469M0 442 178 442M0 479 178 478M0 482 178 471M0 470 178 470M0 497 178 452M0 479 178 464M0 478 178 473M0 503 178 441M0 455 178 481M0 532 178 539M0 537 178 535M0 538 178 532M0 533 178 540M0 537 178 537M0 575 178 517M0 551 178 523M0 539 178 555M0 536 178 540M0 533 178 542M0 526 178 564M0 572 178 541M0 530 178 569M0 527 178 569M0 531 178 542M0 564 178 520M0 559 178 530M0 533 178 560M0 531 178 552M0 534 178 534M0 533 178 546M0 535 178 539M0 534 178 550M0 587 178 495"/>
<path d="M0 479 178 478M0 483 178 475M0 481 178 476M0 448 178 415M0 466 178 463M0 476 178 473M0 456 178 452M0 478 178 477M0 470 178 468M0 472 178 471M0 483 178 468M0 463 178 459M0 456 178 445M0 467 178 466M0 465 178 459M0 488 178 426M0 439 178 482M0 484 178 452M0 486 178 413M0 426 178 476M0 458 178 476M0 535 178 539M0 536 178 533M0 538 178 535M0 526 178 574M0 535 178 534M0 574 178 511M0 529 178 580M0 535 178 536M0 535 178 556M0 531 178 538M0 538 178 543M0 533 178 538M0 533 178 540M0 552 178 552M0 542 178 539M0 547 178 528M0 538 178 546"/>
<path d="M0 481 178 478M0 483 178 470M0 471 178 469M0 474 178 467M0 481 178 478M0 474 178 470M0 474 178 481M0 483 178 466M0 475 178 479M0 472 178 469M0 481 178 476M0 470 178 470M0 490 178 466M0 481 178 465M0 479 178 477M0 478 178 470M0 469 178 464M0 477 178 468M0 466 178 464M0 456 178 504M0 466 178 474M0 469 178 466M0 449 178 489M0 507 178 401M0 535 178 536M0 533 178 537M0 534 178 539M0 542 178 555M0 537 178 544M0 539 178 540M0 477 178 666M0 534 178 541M0 535 178 542M0 529 178 558M0 545 178 534M0 531 178 539M0 539 178 537M0 537 178 589M0 525 178 547M0 569 178 519M0 554 178 523M0 541 178 546"/>
<path d="M0 481 178 473M0 473 178 474M0 483 178 476M0 469 178 467M0 490 178 465M0 470 178 471M0 477 178 471M0 481 178 477M0 478 178 480M0 477 178 470M0 468 178 464M0 452 178 449M0 474 178 478M0 452 178 451M0 542 178 540M0 537 178 538M0 536 178 539M0 599 178 499M0 532 178 568M0 533 178 539M0 536 178 540M0 534 178 561M0 535 178 541M0 535 178 545M0 533 178 539M0 535 178 541M0 534 178 535M0 532 178 538M0 535 178 539M0 534 178 540M0 537 178 531M0 535 178 545M0 532 178 543M0 533 178 541M0 526 178 575M0 514 178 601"/>
<path d="M0 483 178 476M0 483 178 476M0 478 178 476M0 476 178 485M0 480 178 478M0 469 178 466M0 481 178 472M0 476 178 476M0 476 178 482M0 458 178 449M0 479 178 478M0 475 178 478M0 478 178 474M0 478 178 481M0 454 178 445M0 484 178 473M0 472 178 472M0 477 178 476M0 484 178 474M0 473 178 467M0 475 178 483M0 449 178 455M0 476 178 469M0 464 178 462M0 485 178 465M0 460 178 471M0 455 178 428M0 443 178 476M0 534 178 536M0 540 178 540M0 535 178 541M0 530 178 541M0 535 178 534M0 534 178 540M0 534 178 538M0 536 178 539M0 534 178 541M0 530 178 543M0 531 178 541M0 549 178 524M0 533 178 538M0 538 178 549M0 538 178 538M0 526 178 558M0 530 178 559M0 542 178 569M0 523 178 625M0 624 178 462M0 499 178 672M0 515 178 562"/>
<path d="M0 480 178 478M0 481 178 475M0 480 178 479M0 478 178 477M0 440 178 428M0 477 178 477M0 478 178 482M0 466 178 463M0 473 178 472M0 473 178 485M0 473 178 471M0 484 178 472M0 481 178 471M0 479 178 478M0 471 178 465M0 477 178 473M0 481 178 478M0 464 178 460M0 459 178 493M0 476 178 477M0 398 178 425M0 533 178 536M0 534 178 534M0 533 178 542M0 537 178 535M0 534 178 540M0 537 178 555M0 555 178 564M0 517 178 602M0 579 178 528M0 533 178 539M0 549 178 537M0 550 178 527M0 549 178 529M0 540 178 555M0 536 178 542M0 532 178 539M0 532 178 539M0 525 178 586M0 532 178 559M0 538 178 538M0 562 178 545M0 538 178 544M0 534 178 542M0 534 178 540M0 536 178 540M0 533 178 536M0 544 178 538"/>
<path d="M0 481 178 478M0 478 178 478M0 478 178 479M0 476 178 485M0 467 178 464M0 457 178 459M0 483 178 466M0 470 178 466M0 480 178 478M0 474 178 474M0 477 178 478M0 482 178 466M0 466 178 464M0 459 178 459M0 470 178 471M0 482 178 477M0 466 178 462M0 467 178 468M0 474 178 477M0 469 178 466M0 466 178 464M0 471 178 466M0 478 178 474M0 473 178 472M0 448 178 416M0 479 178 461M0 488 178 468M0 472 178 471M0 504 178 443M0 508 178 438M0 534 178 546M0 535 178 538M0 531 178 540M0 537 178 536M0 535 178 534M0 531 178 541M0 561 178 515M0 546 178 539M0 536 178 544M0 532 178 544M0 551 178 543M0 535 178 541M0 543 178 541M0 533 178 544M0 517 178 589M0 540 178 538M0 553 178 538M0 544 178 541M0 483 178 669M0 536 178 532M0 540 178 538M0 542 178 555M0 533 178 550M0 574 178 528M0 537 178 530M0 538 178 541M0 536 178 533M0 546 178 553M0 542 178 560M0 534 178 541M0 562 178 532"/>
<path d="M0 480 178 479M0 477 178 478M0 475 178 485M0 485 178 471M0 477 178 467M0 473 178 478M0 474 178 487M0 474 178 476M0 473 178 484M0 473 178 471M0 473 178 472M0 478 178 471M0 471 178 488M0 480 178 476M0 460 178 457M0 462 178 460M0 475 178 470M0 473 178 488M0 470 178 466M0 446 178 470M0 542 178 533M0 539 178 533M0 539 178 530M0 532 178 539M0 534 178 542M0 532 178 540M0 534 178 539M0 535 178 538M0 533 178 539M0 544 178 535M0 526 178 566M0 535 178 538M0 539 178 539M0 520 178 581M0 535 178 534M0 540 178 539M0 570 178 517M0 553 178 542M0 547 178 537M0 532 178 539M0 548 178 532M0 545 178 543M0 538 178 538M0 529 178 543M0 541 178 548M0 571 178 528"/>
<path d="M0 481 178 477M0 482 178 477M0 483 178 469M0 479 178 481M0 476 178 468M0 471 178 470M0 484 178 473M0 476 178 470M0 468 178 465M0 470 178 475M0 477 178 473M0 478 178 467M0 476 178 480M0 480 178 473M0 477 178 471M0 469 178 470M0 478 178 471M0 471 178 472M0 473 178 470M0 484 178 470M0 473 178 481M0 471 178 480M0 471 178 468M0 481 178 478M0 458 178 460M0 473 178 464M0 484 178 465M0 522 178 413M0 490 178 445M0 474 178 472M0 533 178 540M0 537 178 535M0 535 178 538M0 533 178 537M0 537 178 531M0 535 178 536M0 537 178 540M0 532 178 541M0 533 178 544M0 535 178 546M0 534 178 534M0 534 178 552M0 529 178 543M0 561 178 523M0 555 178 536M0 534 178 537M0 530 178 542M0 540 178 537M0 537 178 531M0 530 178 573M0 533 178 540M0 535 178 541"/>
<path d="M0 482 178 470M0 479 178 475M0 478 178 470M0 479 178 473M0 483 178 477M0 479 178 478M0 473 178 478M0 468 178 465M0 484 178 468M0 472 178 480M0 472 178 482M0 473 178 476M0 473 178 472M0 482 178 475M0 477 178 479M0 469 178 466M0 474 178 478M0 485 178 471M0 471 178 467M0 437 178 484M0 414 178 429M0 454 178 470M0 455 178 460M0 482 178 470M0 467 178 477M0 535 178 536M0 533 178 536M0 537 178 538M0 542 178 536M0 541 178 536M0 537 178 532M0 535 178 542M0 541 178 547M0 541 178 557M0 538 178 567M0 589 178 495M0 528 178 543M0 530 178 556M0 534 178 535M0 528 178 543M0 511 178 606M0 534 178 540M0 531 178 548M0 536 178 540M0 545 178 534M0 534 178 542M0 542 178 535M0 511 178 571M0 528 178 563"/>
<path d="M0 482 178 478M0 477 178 481M0 474 178 472M0 478 178 482M0 466 178 464M0 466 178 463M0 473 178 468M0 476 178 473M0 471 178 467M0 477 178 472M0 475 178 472M0 487 178 418M0 490 178 464M0 508 178 441M0 536 178 533M0 532 178 539M0 537 178 533M0 536 178 534M0 536 178 537M0 566 178 545M0 544 178 546M0 537 178 542M0 533 178 558M0 543 178 535M0 551 178 574M0 543 178 544M0 541 178 536M0 531 178 542M0 547 178 541M0 534 178 546M0 533 178 551M0 516 178 594M0 515 178 589M0 526 178 546M0 534 178 552M0 534 178 541"/>
<path d="M0 475 178 484M0 482 178 476M0 457 178 460M0 481 178 467M0 473 178 475M0 481 178 479M0 475 178 470M0 447 178 440M0 480 178 476M0 472 178 475M0 474 178 471M0 476 178 474M0 475 178 477M0 478 178 468M0 482 178 472M0 427 178 446M0 454 178 478M0 479 178 460M0 481 178 470M0 484 178 449M0 473 178 472M0 532 178 538M0 533 178 539M0 541 178 545M0 533 178 538M0 533 178 547M0 534 178 541M0 570 178 523M0 568 178 534M0 543 178 550M0 533 178 541M0 536 178 542M0 534 178 543M0 533 178 541M0 533 178 540M0 554 178 541M0 535 178 546M0 543 178 532M0 534 178 540M0 529 178 544M0 532 178 540M0 526 178 569M0 523 178 551M0 556 178 616M0 534 178 543M0 540 178 558"/>
<path d="M0 479 178 481M0 480 178 480M0 476 178 481M0 480 178 473M0 480 178 476M0 476 178 475M0 481 178 478M0 481 178 478M0 478 178 481M0 484 178 472M0 471 178 467M0 485 178 473M0 481 178 477M0 471 178 471M0 466 178 463M0 473 178 479M0 478 178 479M0 476 178 476M0 470 178 466M0 472 178 467M0 483 178 474M0 474 178 475M0 472 178 486M0 484 178 468M0 484 178 471M0 468 178 466M0 455 178 454M0 480 178 473M0 487 178 458M0 470 178 487M0 459 178 455M0 489 178 458M0 473 178 461M0 536 178 538M0 529 178 541M0 539 178 543M0 537 178 542M0 534 178 540M0 529 178 543M0 580 178 536M0 554 178 534M0 534 178 539M0 535 178 541M0 539 178 538M0 532 178 541M0 531 178 546M0 533 178 539M0 571 178 516M0 499 178 654M0 524 178 572M0 540 178 535M0 534 178 542M0 545 178 538M0 544 178 536M0 526 178 557M0 535 178 533M0 531 178 558M0 581 178 524M0 524 178 567M0 537 178 531M0 508 178 587"/>
<path d="M0 483 178 475M0 479 178 477M0 480 178 477M0 481 178 477M0 476 178 483M0 479 178 474M0 475 178 482M0 474 178 470M0 477 178 483M0 438 178 434M0 480 178 478M0 482 178 471M0 471 178 471M0 457 178 461M0 477 178 475M0 461 178 459M0 461 178 455M0 473 178 479M0 449 178 450M0 534 178 535M0 536 178 536M0 537 178 540M0 533 178 544M0 534 178 541M0 540 178 536M0 535 178 537M0 537 178 547M0 561 178 540M0 531 178 546M0 529 178 551M0 655 178 418M0 638 178 456M0 602 178 497M0 536 178 558M0 584 178 508M0 532 178 557M0 556 178 536M0 533 178 539M0 509 178 582"/>
<path d="M0 480 178 475M0 479 178 469M0 482 178 470M0 483 178 475M0 476 178 484M0 483 178 471M0 481 178 477M0 479 178 478M0 476 178 479M0 483 178 472M0 483 178 471M0 474 178 485M0 472 178 471M0 465 178 462M0 469 178 476M0 488 178 467M0 470 178 464M0 460 178 460M0 476 178 481M0 467 178 465M0 473 178 472M0 476 178 483M0 455 178 454M0 476 178 468M0 456 178 480M0 471 178 478M0 493 178 462M0 454 178 491M0 533 178 540M0 537 178 535M0 533 178 541M0 537 178 533M0 535 178 543M0 535 178 544M0 534 178 540M0 533 178 545M0 511 178 613M0 553 178 565M0 534 178 540M0 559 178 529M0 559 178 521M0 534 178 559M0 540 178 539M0 530 178 541M0 532 178 551M0 533 178 537M0 531 178 547M0 548 178 536M0 536 178 532M0 567 178 522M0 593 178 481"/>
<path d="M0 480 178 475M0 485 178 472M0 469 178 468M0 480 178 471M0 479 178 481M0 476 178 485M0 480 178 471M0 466 178 464M0 479 178 475M0 480 178 471M0 476 178 472M0 476 178 481M0 478 178 471M0 450 178 445M0 475 178 470M0 481 178 476M0 477 178 468M0 486 178 466M0 512 178 411M0 421 178 426M0 468 178 396M0 496 178 433M0 532 178 538M0 534 178 539M0 537 178 546M0 536 178 539M0 533 178 540M0 543 178 538M0 531 178 549M0 535 178 535M0 534 178 537M0 539 178 539M0 533 178 542M0 530 178 542M0 532 178 540M0 530 178 560M0 533 178 541M0 577 178 516M0 526 178 588M0 546 178 554M0 552 178 549M0 597 178 499M0 571 178 513"/>
<path d="M0 479 178 477M0 479 178 480M0 479 178 478M0 474 178 479M0 481 178 475M0 479 178 477M0 482 178 473M0 473 178 486M0 482 178 477M0 466 178 463M0 476 178 483M0 482 178 473M0 470 178 465M0 460 178 458M0 471 178 470M0 474 178 466M0 424 178 457M0 477 178 452M0 536 178 531M0 533 178 537M0 535 178 534M0 531 178 539M0 539 178 531M0 546 178 540M0 532 178 555M0 535 178 569M0 542 178 536M0 455 178 779M0 533 178 539M0 585 178 493M0 530 178 541M0 534 178 540M0 533 178 542M0 537 178 530M0 504 178 628M0 595 178 517M0 534 178 541M0 534 178 540M0 552 178 525M0 565 178 540M0 570 178 517M0 531 178 549M0 532 178 538M0 529 178 556M0 571 178 544"/>
<path d="M0 483 178 471M0 478 178 480M0 483 178 475M0 474 178 470M0 480 178 477M0 476 178 478M0 476 178 483M0 481 178 474M0 478 178 477M0 465 178 462M0 450 178 458M0 477 178 473M0 485 178 473M0 476 178 475M0 483 178 476M0 478 178 474M0 456 178 488M0 438 178 449M0 466 178 467M0 480 178 453M0 533 178 537M0 645 178 451M0 523 178 617M0 572 178 532M0 531 178 540M0 539 178 561M0 534 178 539M0 533 178 540M0 531 178 539M0 537 178 533M0 534 178 540M0 533 178 545M0 613 178 508M0 547 178 537M0 533 178 540M0 533 178 545M0 533 178 548M0 535 178 536M0 573 178 522M0 532 178 539M0 545 178 542M0 572 178 539M0 540 178 539"/>
<path d="M0 476 178 481M0 479 178 473M0 479 178 480M0 479 178 479M0 460 178 459M0 477 178 481M0 479 178 478M0 484 178 472M0 476 178 470M0 464 178 462M0 474 178 488M0 469 178 467M0 455 178 439M0 474 178 478M0 476 178 474M0 467 178 465M0 459 178 414M0 504 178 434M0 501 178 430M0 534 178 541M0 535 178 543M0 532 178 541M0 551 178 547M0 527 178 546M0 539 178 592M0 543 178 583M0 533 178 542M0 572 178 515M0 522 178 566M0 538 178 540M0 570 178 524M0 531 178 543M0 533 178 540M0 547 178 532M0 534 178 540M0 519 178 588M0 538 178 553M0 675 178 416M0 539 178 538M0 576 178 548M0 534 178 540M0 529 178 636M0 507 178 578"/>
<path d="M0 478 178 479M0 479 178 482M0 473 178 486M0 483 178 476M0 470 178 480M0 475 178 474M0 474 178 481M0 474 178 478M0 480 178 473M0 468 178 465M0 481 178 474M0 481 178 474M0 443 178 454M0 471 178 463M0 476 178 482M0 474 178 470M0 484 178 472M0 487 178 470M0 471 178 471M0 476 178 473M0 479 178 467M0 472 178 467M0 463 178 460M0 512 178 425M0 488 178 428M0 491 178 446M0 466 178 417M0 479 178 470M0 539 178 534M0 538 178 541M0 545 178 550M0 553 178 525M0 529 178 542M0 556 178 535M0 532 178 539M0 534 178 540M0 533 178 541M0 534 178 539M0 552 178 529M0 533 178 538M0 527 178 565M0 559 178 525M0 566 178 518M0 564 178 526M0 534 178 535M0 531 178 549M0 533 178 543M0 537 178 533M0 538 178 531M0 534 178 538M0 555 178 538M0 535 178 546M0 557 178 548M0 561 178 537M0 532 178 540M0 507 178 576M0 514 178 577M0 542 178 545"/>
<path d="M0 472 178 469M0 471 178 484M0 471 178 493M0 479 178 468M0 476 178 474M0 481 178 475M0 481 178 478M0 479 178 474M0 479 178 473M0 459 178 459M0 476 178 478M0 474 178 475M0 471 178 478M0 469 178 465M0 479 178 480M0 475 178 469M0 463 178 458M0 472 178 473M0 471 178 468M0 475 178 468M0 477 178 482M0 482 178 473M0 483 178 470M0 452 178 491M0 485 178 454M0 533 178 538M0 535 178 534M0 531 178 539M0 533 178 536M0 536 178 537M0 539 178 533M0 532 178 540M0 537 178 540M0 527 178 569M0 504 178 611M0 533 178 540M0 551 178 537M0 552 178 540M0 533 178 542M0 550 178 531M0 527 178 544M0 534 178 542M0 531 178 550M0 528 178 581M0 535 178 542"/>
<path d="M0 484 178 474M0 480 178 477M0 475 178 476M0 476 178 468M0 482 178 477M0 479 178 479M0 479 178 480M0 457 178 449M0 473 178 480M0 474 178 487M0 474 178 485M0 480 178 468M0 477 178 474M0 471 178 477M0 472 178 489M0 534 178 535M0 537 178 533M0 542 178 534M0 536 178 540M0 533 178 547M0 539 178 537M0 534 178 540M0 533 178 539M0 535 178 547M0 555 178 527M0 534 178 541M0 513 178 581M0 550 178 545M0 535 178 546M0 534 178 543M0 521 178 572M0 550 178 529M0 541 178 554M0 535 178 540M0 529 178 554M0 559 178 529M0 533 178 550M0 535 178 541M0 565 178 519M0 532 178 550M0 539 178 542M0 534 178 541M0 533 178 548M0 553 178 529M0 532 178 541"/>
<path d="M0 481 178 468M0 480 178 472M0 484 178 475M0 478 178 476M0 480 178 477M0 458 178 452M0 470 178 466M0 479 178 475M0 475 178 482M0 462 178 458M0 477 178 482M0 478 178 481M0 461 178 453M0 482 178 465M0 508 178 425M0 472 178 443M0 479 178 476M0 533 178 537M0 537 178 538M0 535 178 535M0 534 178 541M0 525 178 570M0 537 178 537M0 536 178 543M0 535 178 535M0 531 178 541M0 521 178 566M0 584 178 544M0 539 178 557M0 523 178 571M0 547 178 544M0 528 178 544M0 480 178 660M0 533 178 558M0 566 178 519M0 541 178 544M0 534 178 540"/>
<path d="M0 474 178 477M0 478 178 473M0 478 178 479M0 471 178 470M0 478 178 480M0 471 178 467M0 471 178 476M0 471 178 465M0 472 178 474M0 478 178 477M0 473 178 480M0 480 178 470M0 478 178 482M0 463 178 460M0 480 178 476M0 482 178 477M0 474 178 467M0 462 178 459M0 470 178 466M0 480 178 474M0 471 178 471M0 465 178 463M0 465 178 449M0 477 178 464M0 542 178 537M0 534 178 540M0 541 178 536M0 538 178 535M0 536 178 539M0 567 178 552M0 532 178 555M0 535 178 536M0 531 178 540M0 528 178 570M0 534 178 544M0 540 178 527M0 531 178 550M0 555 178 527M0 542 178 540M0 547 178 539M0 538 178 545M0 539 178 540M0 539 178 542M0 566 178 558M0 533 178 540"/>
<path d="M0 482 178 477M0 479 178 477M0 480 178 478M0 486 178 472M0 484 178 472M0 477 178 473M0 472 178 476M0 469 178 469M0 483 178 471M0 464 178 461M0 480 178 474M0 470 178 469M0 475 178 478M0 475 178 468M0 474 178 487M0 471 178 467M0 474 178 483M0 444 178 501M0 450 178 472M0 535 178 536M0 533 178 542M0 533 178 536M0 525 178 605M0 539 178 553M0 546 178 540M0 541 178 535M0 532 178 540M0 465 178 686M0 524 178 572M0 535 178 544M0 532 178 548M0 533 178 536M0 526 178 547M0 531 178 549M0 534 178 538M0 607 178 483M0 538 178 538M0 558 178 536"/>
<path d="M0 479 178 474M0 488 178 467M0 483 178 475M0 478 178 476M0 479 178 469M0 480 178 481M0 464 178 460M0 479 178 476M0 474 178 483M0 480 178 477M0 471 178 476M0 464 178 461M0 485 178 473M0 473 178 470M0 469 178 489M0 474 178 477M0 483 178 465M0 478 178 481M0 477 178 390M0 447 178 513M0 536 178 534M0 538 178 545M0 533 178 537M0 538 178 537M0 534 178 545M0 529 178 542M0 539 178 532M0 534 178 540M0 536 178 538M0 572 178 560M0 528 178 552M0 531 178 550M0 540 178 537M0 534 178 535M0 550 178 569M0 534 178 540M0 505 178 681M0 534 178 541M0 557 178 551M0 535 178 535M0 531 178 550M0 535 178 542M0 536 178 546M0 534 178 538M0 551 178 540M0 512 178 596M0 550 178 532M0 530 178 563M0 535 178 540M0 546 178 533"/>
</g>
<linearGradient id="hf0" x1="0" y1="1" x2="0" y2="0"><stop offset="0" stop-color="#262626"/><stop offset="0.5" stop-color="#262626" stop-opacity="0.300"/><stop offset="1" stop-color="#262626" stop-opacity="0"/></linearGradient>
<path d="M500.4 478.8L678.0 478.8L678.0 471.4L500.4 471.4Z" fill="url(#hf0)"/>
<linearGradient id="hf1" x1="0" y1="0" x2="0" y2="1"><stop offset="0" stop-color="#262626"/><stop offset="0.5" stop-color="#262626" stop-opacity="0.240"/><stop offset="1" stop-color="#262626" stop-opacity="0"/></linearGradient>
<path d="M500.4 535.6L678.0 535.6L678.0 544.2L500.4 544.2Z" fill="url(#hf1)"/>
<path d="M500.4 478.2L678.0 478.2L678.0 536.2L500.4 536.2Z" fill="#262626"/>
</g>
<path d="M47.5 258.7L216.9 254.6" stroke="#4f8cc4" stroke-width="1.4"/>
<path d="M275.8 255.3L445.2 255.3" stroke="#4d7aa6" stroke-width="0.7"/>
<path d="M507.6 248.1L677.0 245.9" stroke="#4a80b0" stroke-width="1.5"/>
<path d="M61.0 510.0L216.9 500.0" stroke="#5b7626" stroke-width="1.6"/>
<path d="M289.3 504.4L445.2 504.4" stroke="#6b7a2a" stroke-width="0.7"/>
<path d="M521.1 504.4L677.0 504.4" stroke="#6b7a2a" stroke-width="0.7"/>
<g class="tx">
<path d="M41.3 62.4V278.3" stroke="#6a6a6a" stroke-width="0.9" fill="none"/>
<path d="M41.3 278.3h-3M41.3 242.3h-3M41.3 206.3h-3M41.3 170.4h-3M41.3 134.4h-3M41.3 98.4h-3M41.3 62.4h-3" stroke="#6a6a6a" stroke-width="0.9" fill="none"/>
<path d="M47.5 286.3H209.6" stroke="#6a6a6a" stroke-width="0.9" fill="none"/>
<path d="M47.5 286.3v3M74.5 286.3v3M101.5 286.3v3M128.6 286.3v3M155.6 286.3v3M182.6 286.3v3M209.6 286.3v3" stroke="#6a6a6a" stroke-width="0.9" fill="none"/>
<text x="34.1" y="281.7" text-anchor="end" class="tk">0</text>
<text x="34.1" y="245.7" text-anchor="end" class="tk">10</text>
<text x="34.1" y="209.7" text-anchor="end" class="tk">20</text>
<text x="34.1" y="173.8" text-anchor="end" class="tk">30</text>
<text x="34.1" y="137.8" text-anchor="end" class="tk">40</text>
<text x="34.1" y="101.8" text-anchor="end" class="tk">50</text>
<text x="34.1" y="65.8" text-anchor="end" class="tk">60</text>
<text x="47.4" y="301.7" text-anchor="middle" class="tkx">1950</text>
<text x="101.4" y="301.7" text-anchor="middle" class="tkx">1970</text>
<text x="155.5" y="301.7" text-anchor="middle" class="tkx">1990</text>
<text x="209.5" y="301.7" text-anchor="middle" class="tkx">2010</text>
<text x="128.4" y="316.8" text-anchor="middle" class="al">Year</text>
<text transform="translate(15.5 161.2) rotate(-90)" text-anchor="middle" class="yl">Species richness</text>
<path d="M269.6 62.4V278.3" stroke="#6a6a6a" stroke-width="0.9" fill="none"/>
<path d="M269.6 278.3h-3M269.6 242.3h-3M269.6 206.3h-3M269.6 170.4h-3M269.6 134.4h-3M269.6 98.4h-3M269.6 62.4h-3" stroke="#6a6a6a" stroke-width="0.9" fill="none"/>
<path d="M275.8 286.3H437.9" stroke="#6a6a6a" stroke-width="0.9" fill="none"/>
<path d="M275.8 286.3v3M302.8 286.3v3M329.8 286.3v3M356.9 286.3v3M383.9 286.3v3M410.9 286.3v3M437.9 286.3v3" stroke="#6a6a6a" stroke-width="0.9" fill="none"/>
<text x="262.4" y="281.7" text-anchor="end" class="tk">0</text>
<text x="262.4" y="245.7" text-anchor="end" class="tk">10</text>
<text x="262.4" y="209.7" text-anchor="end" class="tk">20</text>
<text x="262.4" y="173.8" text-anchor="end" class="tk">30</text>
<text x="262.4" y="137.8" text-anchor="end" class="tk">40</text>
<text x="262.4" y="101.8" text-anchor="end" class="tk">50</text>
<text x="262.4" y="65.8" text-anchor="end" class="tk">60</text>
<text x="275.7" y="301.7" text-anchor="middle" class="tkx">1950</text>
<text x="329.7" y="301.7" text-anchor="middle" class="tkx">1970</text>
<text x="383.8" y="301.7" text-anchor="middle" class="tkx">1990</text>
<text x="437.8" y="301.7" text-anchor="middle" class="tkx">2010</text>
<text x="356.7" y="316.8" text-anchor="middle" class="al">Year</text>
<text transform="translate(243.8 161.2) rotate(-90)" text-anchor="middle" class="yl">Species richness</text>
<path d="M501.4 62.4V278.3" stroke="#6a6a6a" stroke-width="0.9" fill="none"/>
<path d="M501.4 278.3h-3M501.4 242.3h-3M501.4 206.3h-3M501.4 170.4h-3M501.4 134.4h-3M501.4 98.4h-3M501.4 62.4h-3" stroke="#6a6a6a" stroke-width="0.9" fill="none"/>
<path d="M507.6 286.3H669.7" stroke="#6a6a6a" stroke-width="0.9" fill="none"/>
<path d="M507.6 286.3v3M534.6 286.3v3M561.6 286.3v3M588.7 286.3v3M615.7 286.3v3M642.7 286.3v3M669.7 286.3v3" stroke="#6a6a6a" stroke-width="0.9" fill="none"/>
<text x="494.2" y="281.7" text-anchor="end" class="tk">0</text>
<text x="494.2" y="245.7" text-anchor="end" class="tk">10</text>
<text x="494.2" y="209.7" text-anchor="end" class="tk">20</text>
<text x="494.2" y="173.8" text-anchor="end" class="tk">30</text>
<text x="494.2" y="137.8" text-anchor="end" class="tk">40</text>
<text x="494.2" y="101.8" text-anchor="end" class="tk">50</text>
<text x="494.2" y="65.8" text-anchor="end" class="tk">60</text>
<text x="507.5" y="301.7" text-anchor="middle" class="tkx">1950</text>
<text x="561.5" y="301.7" text-anchor="middle" class="tkx">1970</text>
<text x="615.6" y="301.7" text-anchor="middle" class="tkx">1990</text>
<text x="669.6" y="301.7" text-anchor="middle" class="tkx">2010</text>
<text x="588.5" y="316.8" text-anchor="middle" class="al">Year</text>
<text transform="translate(475.6 161.2) rotate(-90)" text-anchor="middle" class="yl">Species richness</text>
<path d="M41.3 386.2V606.2" stroke="#6a6a6a" stroke-width="0.9" fill="none"/>
<path d="M41.3 606.2h-3M41.3 586.2h-3M41.3 566.2h-3M41.3 546.2h-3M41.3 526.2h-3M41.3 506.2h-3M41.3 486.2h-3M41.3 466.2h-3M41.3 446.2h-3M41.3 426.2h-3M41.3 406.2h-3M41.3 386.2h-3" stroke="#6a6a6a" stroke-width="0.9" fill="none"/>
<path d="M47.5 614.4H209.6" stroke="#6a6a6a" stroke-width="0.9" fill="none"/>
<path d="M47.5 614.4v3M74.5 614.4v3M101.5 614.4v3M128.6 614.4v3M155.6 614.4v3M182.6 614.4v3M209.6 614.4v3" stroke="#6a6a6a" stroke-width="0.9" fill="none"/>
<text x="34.1" y="609.6" text-anchor="end" class="tk">0</text>
<text x="34.1" y="589.6" text-anchor="end" class="tk">10</text>
<text x="34.1" y="569.6" text-anchor="end" class="tk">20</text>
<text x="34.1" y="549.6" text-anchor="end" class="tk">30</text>
<text x="34.1" y="529.6" text-anchor="end" class="tk">40</text>
<text x="34.1" y="509.6" text-anchor="end" class="tk">50</text>
<text x="34.1" y="489.6" text-anchor="end" class="tk">60</text>
<text x="34.1" y="469.6" text-anchor="end" class="tk">70</text>
<text x="34.1" y="449.6" text-anchor="end" class="tk">80</text>
<text x="34.1" y="429.6" text-anchor="end" class="tk">90</text>
<text x="34.1" y="409.6" text-anchor="end" class="tk">100</text>
<text x="34.1" y="389.6" text-anchor="end" class="tk">110</text>
<text x="47.4" y="628.9" text-anchor="middle" class="tkx">1960</text>
<text x="101.4" y="628.9" text-anchor="middle" class="tkx">1980</text>
<text x="155.5" y="628.9" text-anchor="middle" class="tkx">2000</text>
<text x="209.5" y="628.9" text-anchor="middle" class="tkx">2020</text>
<text x="128.4" y="644.2" text-anchor="middle" class="al">Year</text>
<text transform="translate(9.0 495.4) rotate(-90)" text-anchor="middle" class="yl">Species richness</text>
<path d="M269.6 386.2V606.2" stroke="#6a6a6a" stroke-width="0.9" fill="none"/>
<path d="M269.6 606.2h-3M269.6 586.2h-3M269.6 566.2h-3M269.6 546.2h-3M269.6 526.2h-3M269.6 506.2h-3M269.6 486.2h-3M269.6 466.2h-3M269.6 446.2h-3M269.6 426.2h-3M269.6 406.2h-3M269.6 386.2h-3" stroke="#6a6a6a" stroke-width="0.9" fill="none"/>
<path d="M275.8 614.4H437.9" stroke="#6a6a6a" stroke-width="0.9" fill="none"/>
<path d="M275.8 614.4v3M302.8 614.4v3M329.8 614.4v3M356.9 614.4v3M383.9 614.4v3M410.9 614.4v3M437.9 614.4v3" stroke="#6a6a6a" stroke-width="0.9" fill="none"/>
<text x="262.4" y="609.6" text-anchor="end" class="tk">0</text>
<text x="262.4" y="589.6" text-anchor="end" class="tk">10</text>
<text x="262.4" y="569.6" text-anchor="end" class="tk">20</text>
<text x="262.4" y="549.6" text-anchor="end" class="tk">30</text>
<text x="262.4" y="529.6" text-anchor="end" class="tk">40</text>
<text x="262.4" y="509.6" text-anchor="end" class="tk">50</text>
<text x="262.4" y="489.6" text-anchor="end" class="tk">60</text>
<text x="262.4" y="469.6" text-anchor="end" class="tk">70</text>
<text x="262.4" y="449.6" text-anchor="end" class="tk">80</text>
<text x="262.4" y="429.6" text-anchor="end" class="tk">90</text>
<text x="262.4" y="409.6" text-anchor="end" class="tk">100</text>
<text x="262.4" y="389.6" text-anchor="end" class="tk">110</text>
<text x="275.7" y="628.9" text-anchor="middle" class="tkx">1960</text>
<text x="329.7" y="628.9" text-anchor="middle" class="tkx">1980</text>
<text x="383.8" y="628.9" text-anchor="middle" class="tkx">2000</text>
<text x="437.8" y="628.9" text-anchor="middle" class="tkx">2020</text>
<text x="356.7" y="644.2" text-anchor="middle" class="al">Year</text>
<text transform="translate(237.3 495.4) rotate(-90)" text-anchor="middle" class="yl">Species richness</text>
<path d="M501.4 386.2V606.2" stroke="#6a6a6a" stroke-width="0.9" fill="none"/>
<path d="M501.4 606.2h-3M501.4 586.2h-3M501.4 566.2h-3M501.4 546.2h-3M501.4 526.2h-3M501.4 506.2h-3M501.4 486.2h-3M501.4 466.2h-3M501.4 446.2h-3M501.4 426.2h-3M501.4 406.2h-3M501.4 386.2h-3" stroke="#6a6a6a" stroke-width="0.9" fill="none"/>
<path d="M507.6 614.4H669.7" stroke="#6a6a6a" stroke-width="0.9" fill="none"/>
<path d="M507.6 614.4v3M534.6 614.4v3M561.6 614.4v3M588.7 614.4v3M615.7 614.4v3M642.7 614.4v3M669.7 614.4v3" stroke="#6a6a6a" stroke-width="0.9" fill="none"/>
<text x="494.2" y="609.6" text-anchor="end" class="tk">0</text>
<text x="494.2" y="589.6" text-anchor="end" class="tk">10</text>
<text x="494.2" y="569.6" text-anchor="end" class="tk">20</text>
<text x="494.2" y="549.6" text-anchor="end" class="tk">30</text>
<text x="494.2" y="529.6" text-anchor="end" class="tk">40</text>
<text x="494.2" y="509.6" text-anchor="end" class="tk">50</text>
<text x="494.2" y="489.6" text-anchor="end" class="tk">60</text>
<text x="494.2" y="469.6" text-anchor="end" class="tk">70</text>
<text x="494.2" y="449.6" text-anchor="end" class="tk">80</text>
<text x="494.2" y="429.6" text-anchor="end" class="tk">90</text>
<text x="494.2" y="409.6" text-anchor="end" class="tk">100</text>
<text x="494.2" y="389.6" text-anchor="end" class="tk">110</text>
<text x="507.5" y="628.9" text-anchor="middle" class="tkx">1960</text>
<text x="561.5" y="628.9" text-anchor="middle" class="tkx">1980</text>
<text x="615.6" y="628.9" text-anchor="middle" class="tkx">2000</text>
<text x="669.6" y="628.9" text-anchor="middle" class="tkx">2020</text>
<text x="588.5" y="644.2" text-anchor="middle" class="al">Year</text>
<text transform="translate(469.1 495.4) rotate(-90)" text-anchor="middle" class="yl">Species richness</text>
<text x="128.7" y="22.9" text-anchor="middle" class="tt"><tspan>Slope ± s.e. = </tspan><tspan>0.022</tspan><tspan> ± </tspan><tspan>1 × 10</tspan><tspan dy="-5.0" font-size="7.0">−3</tspan><tspan dy="5.0"> (</tspan><tspan font-style="italic">P</tspan><tspan> = 0)</tspan></text>
<text x="128.7" y="34.8" text-anchor="middle" class="tt"><tspan font-style="italic">R</tspan><tspan dy="2.9" font-size="7.0">m</tspan><tspan dy="-8.5" font-size="7.0" dx="0.9">2</tspan><tspan dy="5.6"> = </tspan><tspan>2 × 10</tspan><tspan dy="-5.0" font-size="7.0">−3</tspan><tspan dy="5.0"> and </tspan><tspan font-style="italic">R</tspan><tspan dy="2.9" font-size="7.0">c</tspan><tspan dy="-8.5" font-size="7.0" dx="0.9">2</tspan><tspan dy="5.6"> = 0.84</tspan></text>
<text x="357.9" y="22.9" text-anchor="middle" class="tt"><tspan>Slope ± s.e. = </tspan><tspan>−8 × 10</tspan><tspan dy="-5.0" font-size="7.0">−5</tspan><tspan dy="5.0"> ± </tspan><tspan>3 × 10</tspan><tspan dy="-5.0" font-size="7.0">−4</tspan><tspan dy="5.0"> (</tspan><tspan font-style="italic">P</tspan><tspan> = 0.8)</tspan></text>
<text x="357.9" y="34.8" text-anchor="middle" class="tt"><tspan font-style="italic">R</tspan><tspan dy="2.9" font-size="7.0">m</tspan><tspan dy="-8.5" font-size="7.0" dx="0.9">2</tspan><tspan dy="5.6"> &lt; </tspan><tspan>10</tspan><tspan dy="-5.0" font-size="7.0">−5</tspan><tspan dy="5.0"> and </tspan><tspan font-style="italic">R</tspan><tspan dy="2.9" font-size="7.0">c</tspan><tspan dy="-8.5" font-size="7.0" dx="0.9">2</tspan><tspan dy="5.6"> = 0.84</tspan></text>
<text x="589.3" y="22.9" text-anchor="middle" class="tt"><tspan>Slope ± s.e. = </tspan><tspan>4 × 10</tspan><tspan dy="-5.0" font-size="7.0">−3</tspan><tspan dy="5.0"> ± </tspan><tspan>9 × 10</tspan><tspan dy="-5.0" font-size="7.0">−4</tspan><tspan dy="5.0"> (</tspan><tspan font-style="italic">P</tspan><tspan> = 0)</tspan></text>
<text x="589.3" y="34.8" text-anchor="middle" class="tt"><tspan font-style="italic">R</tspan><tspan dy="2.9" font-size="7.0">m</tspan><tspan dy="-8.5" font-size="7.0" dx="0.9">2</tspan><tspan dy="5.6"> &lt; 0.001 and </tspan><tspan font-style="italic">R</tspan><tspan dy="2.9" font-size="7.0">c</tspan><tspan dy="-8.5" font-size="7.0" dx="0.9">2</tspan><tspan dy="5.6"> = 0.85</tspan></text>
<text x="128.4" y="354.2" text-anchor="middle" class="tt"><tspan>Slope ± s.e. = </tspan><tspan>0.026</tspan><tspan> ± </tspan><tspan>4 × 10</tspan><tspan dy="-5.0" font-size="7.0">−4</tspan><tspan dy="5.0"> (</tspan><tspan font-style="italic">P</tspan><tspan> = 0)</tspan></text>
<text x="128.4" y="365.6" text-anchor="middle" class="tt"><tspan font-style="italic">R</tspan><tspan dy="2.9" font-size="7.0">m</tspan><tspan dy="-8.5" font-size="7.0" dx="0.9">2</tspan><tspan dy="5.6"> = </tspan><tspan>7 × 10</tspan><tspan dy="-5.0" font-size="7.0">−3</tspan><tspan dy="5.0"> and </tspan><tspan font-style="italic">R</tspan><tspan dy="2.9" font-size="7.0">c</tspan><tspan dy="-8.5" font-size="7.0" dx="0.9">2</tspan><tspan dy="5.6"> = 0.83</tspan></text>
<text x="357.6" y="354.2" text-anchor="middle" class="tt"><tspan>Slope ± s.e. = </tspan><tspan>−2 × 10</tspan><tspan dy="-5.0" font-size="7.0">−4</tspan><tspan dy="5.0"> ± </tspan><tspan>1 × 10</tspan><tspan dy="-5.0" font-size="7.0">−4</tspan><tspan dy="5.0"> (</tspan><tspan font-style="italic">P</tspan><tspan> = 0.2)</tspan></text>
<text x="357.6" y="365.6" text-anchor="middle" class="tt"><tspan font-style="italic">R</tspan><tspan dy="2.9" font-size="7.0">m</tspan><tspan dy="-8.5" font-size="7.0" dx="0.9">2</tspan><tspan dy="5.6"> &lt; </tspan><tspan>10</tspan><tspan dy="-5.0" font-size="7.0">−5</tspan><tspan dy="5.0"> and </tspan><tspan font-style="italic">R</tspan><tspan dy="2.9" font-size="7.0">c</tspan><tspan dy="-8.5" font-size="7.0" dx="0.9">2</tspan><tspan dy="5.6"> = 0.82</tspan></text>
<text x="589.3" y="354.2" text-anchor="middle" class="tt"><tspan>Slope ± s.e. = </tspan><tspan>−3 × 10</tspan><tspan dy="-5.0" font-size="7.0">−4</tspan><tspan dy="5.0"> ± </tspan><tspan>2 × 10</tspan><tspan dy="-5.0" font-size="7.0">−4</tspan><tspan dy="5.0"> (</tspan><tspan font-style="italic">P</tspan><tspan> = 0.2)</tspan></text>
<text x="589.3" y="365.6" text-anchor="middle" class="tt"><tspan font-style="italic">R</tspan><tspan dy="2.9" font-size="7.0">m</tspan><tspan dy="-8.5" font-size="7.0" dx="0.9">2</tspan><tspan dy="5.6"> &lt; </tspan><tspan>10</tspan><tspan dy="-5.0" font-size="7.0">−5</tspan><tspan dy="5.0"> and </tspan><tspan font-style="italic">R</tspan><tspan dy="2.9" font-size="7.0">c</tspan><tspan dy="-8.5" font-size="7.0" dx="0.9">2</tspan><tspan dy="5.6"> = 0.80</tspan></text>
<text x="-0.5" y="10.8" class="pl">a</text>
<text x="228.6" y="10.8" class="pl">b</text>
<text x="459.3" y="10.8" class="pl">c</text>
<text x="-0.5" y="343.8" class="pl">d</text>
<text x="228.3" y="343.8" class="pl">e</text>
<text x="459.8" y="343.8" class="pl">f</text>
</g>
<g id="icons">
<defs>
<g id="die"><rect x="-11" y="-11" width="22" height="22" rx="2.6"/><g fill="#fff"><circle cx="-4.35" cy="-6.1" r="1.9"/><circle cx="4.35" cy="-6.1" r="1.9"/><circle cx="-4.35" cy="0" r="1.9"/><circle cx="4.35" cy="0" r="1.9"/><circle cx="-4.35" cy="6.1" r="1.9"/><circle cx="4.35" cy="6.1" r="1.9"/></g></g>
<g id="lap"><path fill-rule="evenodd" d="M2 0H32.2A2 2 0 0 1 34.2 2V21A2 2 0 0 1 32.2 23H2A2 2 0 0 1 0 21V2A2 2 0 0 1 2 0ZM3.4 3.1V19.9H30.9V3.1Z"/><path d="M-4.2 24.6H13.9L14.9 25.6H19.3L20.3 24.6H38.3A1.75 1.75 0 0 1 38.3 28.1H-4.2A1.75 1.75 0 0 1 -4.2 24.6Z"/></g>
</defs>
<path d="M168.5 50.4C170.5 47.2 175 45.2 180.5 44.6C186.5 44 191.5 44.8 195.8 45.9L207.4 43.2L205.2 49.7L218.6 55.7L229.2 51.9L226 61.3L226 70.3L217.6 63.3L202.2 63.8L201.7 70.8L193.8 64.3C186 63.2 181 61.2 178.9 59.6C173.5 57.2 170.2 53.8 168.5 50.4Z" fill="#5eace3"/>
<circle cx="179.1" cy="49.4" r="1.4" fill="#fff"/>
<use href="#die" transform="translate(422.05 50.95)" fill="#2a6ea9"/>
<use href="#die" transform="translate(441.5 71.7) rotate(45)" fill="#2a6ea9"/>
<use href="#die" transform="translate(409.1 381.35)" fill="#7cbd48"/>
<use href="#die" transform="translate(428.5 402.1) rotate(45)" fill="#7cbd48"/>
<use href="#lap" transform="translate(625.8 41.1)" fill="#1f5a8c"/>
<use href="#lap" transform="translate(514 385.3)" fill="#4b6a1f"/>
<path fill="#b6d98b" d="M174.8 376.8L177.5 374.6C178.2 372.2 180.2 370.8 182.4 370.8C184.6 370.8 186.2 372 187.3 374C188.2 376 189.5 377.4 192 378.3C196.5 379.6 201.5 382 204.5 385.5L216.6 397.3L215 398.6L212.8 398.6L212.3 401.8L205.8 395.6C203.5 396.5 200.5 396.8 197.8 396.8L197.6 401.1L198.6 401.7L197.4 402.3L195.6 402.3L194.8 404.4L194 402.3L192.2 402.1L192.7 401.2L196.2 401.1L196.3 396.8L193.7 396.8L193.1 399L193.8 399.7L191.1 399.9L189.8 402.7L189.2 400L187.2 399.7L188.1 399L191.9 398.9L192.4 396.6C188 395.8 184.5 393 182.2 389.4C180.3 386.3 179.3 382.5 179 379.5C178.9 378.3 178.6 377.5 178 377.1Z"/>
</g>

</svg>
</body></html>
